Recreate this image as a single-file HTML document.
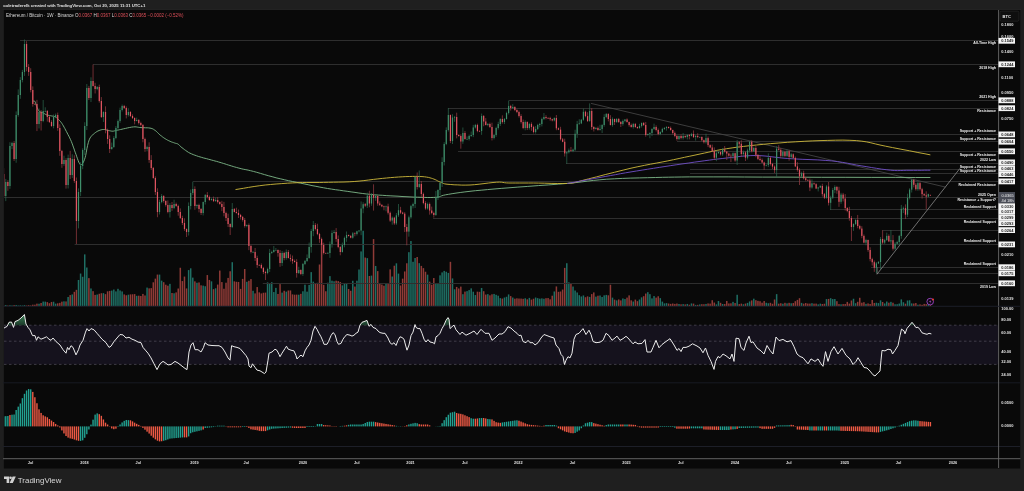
<!DOCTYPE html>
<html><head><meta charset="utf-8"><title>ETH/BTC</title>
<style>html,body{margin:0;padding:0;background:#1f1f1f;width:1024px;height:491px;overflow:hidden}
svg text{font-family:"Liberation Sans",Arial,sans-serif}</style></head>
<body><div style="position:relative;width:1024px;height:491px">
<svg width="1024" height="491" viewBox="0 0 1024 491" style="position:absolute;left:0;top:0">
<rect x="0" y="0" width="1024" height="491" fill="#1f1f1f"/>
<rect x="2.5" y="8.8" width="1018.5" height="1.2" fill="#262626"/>
<rect x="3.9" y="9.9" width="1016.3" height="458.6" fill="#090909"/>
</svg>
<svg width="1024" height="491" viewBox="0 0 1024 491" style="position:absolute;left:0;top:0">
<defs><linearGradient id="obg" x1="0" y1="313" x2="0" y2="325.2" gradientUnits="userSpaceOnUse"><stop offset="0" stop-color="#3d8a5a"/><stop offset="1" stop-color="#1c3a2a"/></linearGradient><clipPath id="cp"><rect x="4" y="10.5" width="994" height="295.5"/></clipPath>
<clipPath id="cr"><rect x="4" y="306.5" width="994" height="75.5"/></clipPath>
<clipPath id="cm"><rect x="4" y="382.5" width="994" height="64"/></clipPath></defs>
<g clip-path="url(#cp)">
<rect x="2.95" y="305.50" width="1.5" height="0.80" fill="#8f3b37"/><rect x="5.03" y="305.04" width="1.5" height="1.26" fill="#1f6f64"/><rect x="7.11" y="305.50" width="1.5" height="0.80" fill="#8f3b37"/><rect x="9.18" y="305.23" width="1.5" height="1.07" fill="#1f6f64"/><rect x="11.26" y="305.43" width="1.5" height="0.87" fill="#1f6f64"/><rect x="13.34" y="305.10" width="1.5" height="1.20" fill="#8f3b37"/><rect x="15.42" y="305.02" width="1.5" height="1.28" fill="#1f6f64"/><rect x="17.49" y="305.50" width="1.5" height="0.80" fill="#1f6f64"/><rect x="19.57" y="305.32" width="1.5" height="0.98" fill="#1f6f64"/><rect x="21.65" y="305.50" width="1.5" height="0.80" fill="#1f6f64"/><rect x="23.73" y="305.12" width="1.5" height="1.18" fill="#1f6f64"/><rect x="25.81" y="305.49" width="1.5" height="0.81" fill="#8f3b37"/><rect x="27.88" y="305.14" width="1.5" height="1.16" fill="#8f3b37"/><rect x="29.96" y="305.43" width="1.5" height="0.87" fill="#8f3b37"/><rect x="32.04" y="304.68" width="1.5" height="1.62" fill="#8f3b37"/><rect x="34.12" y="304.69" width="1.5" height="1.61" fill="#8f3b37"/><rect x="36.19" y="303.65" width="1.5" height="2.65" fill="#8f3b37"/><rect x="38.27" y="303.74" width="1.5" height="2.56" fill="#1f6f64"/><rect x="40.35" y="303.00" width="1.5" height="3.30" fill="#8f3b37"/><rect x="42.43" y="301.57" width="1.5" height="4.73" fill="#1f6f64"/><rect x="44.51" y="301.65" width="1.5" height="4.65" fill="#1f6f64"/><rect x="46.58" y="302.09" width="1.5" height="4.21" fill="#8f3b37"/><rect x="48.66" y="303.20" width="1.5" height="3.10" fill="#8f3b37"/><rect x="50.74" y="301.94" width="1.5" height="4.36" fill="#8f3b37"/><rect x="52.82" y="301.72" width="1.5" height="4.58" fill="#1f6f64"/><rect x="54.89" y="303.62" width="1.5" height="2.68" fill="#1f6f64"/><rect x="56.97" y="303.32" width="1.5" height="2.98" fill="#8f3b37"/><rect x="59.05" y="302.86" width="1.5" height="3.44" fill="#8f3b37"/><rect x="61.13" y="301.66" width="1.5" height="4.64" fill="#8f3b37"/><rect x="63.21" y="301.33" width="1.5" height="4.97" fill="#1f6f64"/><rect x="65.28" y="301.44" width="1.5" height="4.86" fill="#8f3b37"/><rect x="67.36" y="296.97" width="1.5" height="9.33" fill="#1f6f64"/><rect x="69.44" y="295.10" width="1.5" height="11.20" fill="#8f3b37"/><rect x="71.52" y="294.42" width="1.5" height="11.88" fill="#1f6f64"/><rect x="73.60" y="291.83" width="1.5" height="14.47" fill="#8f3b37"/><rect x="75.67" y="289.84" width="1.5" height="16.46" fill="#8f3b37"/><rect x="77.75" y="279.97" width="1.5" height="26.33" fill="#1f6f64"/><rect x="79.83" y="273.53" width="1.5" height="32.77" fill="#1f6f64"/><rect x="81.91" y="276.75" width="1.5" height="29.55" fill="#1f6f64"/><rect x="83.98" y="254.37" width="1.5" height="51.93" fill="#1f6f64"/><rect x="86.06" y="267.51" width="1.5" height="38.79" fill="#1f6f64"/><rect x="88.14" y="278.12" width="1.5" height="28.18" fill="#8f3b37"/><rect x="90.22" y="288.46" width="1.5" height="17.84" fill="#1f6f64"/><rect x="92.30" y="291.16" width="1.5" height="15.14" fill="#8f3b37"/><rect x="94.37" y="294.90" width="1.5" height="11.40" fill="#8f3b37"/><rect x="96.45" y="294.52" width="1.5" height="11.78" fill="#1f6f64"/><rect x="98.53" y="293.76" width="1.5" height="12.54" fill="#8f3b37"/><rect x="100.61" y="293.23" width="1.5" height="13.07" fill="#8f3b37"/><rect x="102.68" y="293.14" width="1.5" height="13.16" fill="#1f6f64"/><rect x="104.76" y="294.14" width="1.5" height="12.16" fill="#8f3b37"/><rect x="106.84" y="291.33" width="1.5" height="14.97" fill="#8f3b37"/><rect x="108.92" y="290.92" width="1.5" height="15.38" fill="#8f3b37"/><rect x="111.00" y="290.58" width="1.5" height="15.72" fill="#1f6f64"/><rect x="113.07" y="289.54" width="1.5" height="16.76" fill="#1f6f64"/><rect x="115.15" y="291.40" width="1.5" height="14.90" fill="#1f6f64"/><rect x="117.23" y="288.81" width="1.5" height="17.49" fill="#1f6f64"/><rect x="119.31" y="290.46" width="1.5" height="15.84" fill="#1f6f64"/><rect x="121.38" y="291.42" width="1.5" height="14.88" fill="#1f6f64"/><rect x="123.46" y="294.41" width="1.5" height="11.89" fill="#8f3b37"/><rect x="125.54" y="295.27" width="1.5" height="11.03" fill="#8f3b37"/><rect x="127.62" y="294.70" width="1.5" height="11.60" fill="#1f6f64"/><rect x="129.70" y="294.38" width="1.5" height="11.92" fill="#8f3b37"/><rect x="131.77" y="294.28" width="1.5" height="12.02" fill="#8f3b37"/><rect x="133.85" y="294.08" width="1.5" height="12.22" fill="#8f3b37"/><rect x="135.93" y="295.82" width="1.5" height="10.48" fill="#1f6f64"/><rect x="138.01" y="295.68" width="1.5" height="10.62" fill="#8f3b37"/><rect x="140.08" y="295.98" width="1.5" height="10.32" fill="#8f3b37"/><rect x="142.16" y="293.92" width="1.5" height="12.38" fill="#8f3b37"/><rect x="144.24" y="295.47" width="1.5" height="10.83" fill="#8f3b37"/><rect x="146.32" y="287.58" width="1.5" height="18.72" fill="#1f6f64"/><rect x="148.40" y="288.35" width="1.5" height="17.95" fill="#8f3b37"/><rect x="150.47" y="288.12" width="1.5" height="18.18" fill="#8f3b37"/><rect x="152.55" y="282.31" width="1.5" height="23.99" fill="#8f3b37"/><rect x="154.63" y="278.63" width="1.5" height="27.67" fill="#8f3b37"/><rect x="156.71" y="274.55" width="1.5" height="31.75" fill="#8f3b37"/><rect x="158.78" y="274.59" width="1.5" height="31.71" fill="#1f6f64"/><rect x="160.86" y="280.65" width="1.5" height="25.65" fill="#1f6f64"/><rect x="162.94" y="282.17" width="1.5" height="24.13" fill="#8f3b37"/><rect x="165.02" y="284.72" width="1.5" height="21.58" fill="#8f3b37"/><rect x="167.10" y="285.69" width="1.5" height="20.61" fill="#8f3b37"/><rect x="169.17" y="283.86" width="1.5" height="22.44" fill="#1f6f64"/><rect x="171.25" y="293.01" width="1.5" height="13.29" fill="#8f3b37"/><rect x="173.33" y="293.28" width="1.5" height="13.02" fill="#1f6f64"/><rect x="175.41" y="292.41" width="1.5" height="13.89" fill="#8f3b37"/><rect x="177.49" y="288.51" width="1.5" height="17.79" fill="#8f3b37"/><rect x="179.56" y="267.74" width="1.5" height="38.56" fill="#8f3b37"/><rect x="181.64" y="281.06" width="1.5" height="25.24" fill="#8f3b37"/><rect x="183.72" y="276.57" width="1.5" height="29.73" fill="#8f3b37"/><rect x="185.80" y="288.43" width="1.5" height="17.87" fill="#8f3b37"/><rect x="187.87" y="270.07" width="1.5" height="36.23" fill="#1f6f64"/><rect x="189.95" y="268.31" width="1.5" height="37.99" fill="#1f6f64"/><rect x="192.03" y="277.60" width="1.5" height="28.70" fill="#1f6f64"/><rect x="194.11" y="281.34" width="1.5" height="24.96" fill="#8f3b37"/><rect x="196.19" y="282.77" width="1.5" height="23.53" fill="#1f6f64"/><rect x="198.26" y="282.44" width="1.5" height="23.86" fill="#8f3b37"/><rect x="200.34" y="285.33" width="1.5" height="20.97" fill="#8f3b37"/><rect x="202.42" y="285.64" width="1.5" height="20.66" fill="#1f6f64"/><rect x="204.50" y="286.23" width="1.5" height="20.07" fill="#1f6f64"/><rect x="206.57" y="275.05" width="1.5" height="31.25" fill="#8f3b37"/><rect x="208.65" y="279.94" width="1.5" height="26.36" fill="#8f3b37"/><rect x="210.73" y="281.33" width="1.5" height="24.97" fill="#1f6f64"/><rect x="212.81" y="289.14" width="1.5" height="17.16" fill="#8f3b37"/><rect x="214.89" y="288.28" width="1.5" height="18.02" fill="#1f6f64"/><rect x="216.96" y="284.57" width="1.5" height="21.73" fill="#8f3b37"/><rect x="219.04" y="270.56" width="1.5" height="35.74" fill="#8f3b37"/><rect x="221.12" y="282.07" width="1.5" height="24.23" fill="#8f3b37"/><rect x="223.20" y="288.75" width="1.5" height="17.55" fill="#8f3b37"/><rect x="225.27" y="282.72" width="1.5" height="23.58" fill="#8f3b37"/><rect x="227.35" y="277.91" width="1.5" height="28.39" fill="#8f3b37"/><rect x="229.43" y="271.27" width="1.5" height="35.03" fill="#8f3b37"/><rect x="231.51" y="262.20" width="1.5" height="44.10" fill="#1f6f64"/><rect x="233.59" y="281.34" width="1.5" height="24.96" fill="#8f3b37"/><rect x="235.66" y="281.79" width="1.5" height="24.51" fill="#8f3b37"/><rect x="237.74" y="281.95" width="1.5" height="24.35" fill="#8f3b37"/><rect x="239.82" y="288.88" width="1.5" height="17.42" fill="#8f3b37"/><rect x="241.90" y="278.90" width="1.5" height="27.40" fill="#8f3b37"/><rect x="243.97" y="269.02" width="1.5" height="37.28" fill="#8f3b37"/><rect x="246.05" y="281.80" width="1.5" height="24.50" fill="#1f6f64"/><rect x="248.13" y="280.76" width="1.5" height="25.54" fill="#8f3b37"/><rect x="250.21" y="279.10" width="1.5" height="27.20" fill="#8f3b37"/><rect x="252.29" y="290.77" width="1.5" height="15.53" fill="#1f6f64"/><rect x="254.36" y="293.40" width="1.5" height="12.90" fill="#8f3b37"/><rect x="256.44" y="287.05" width="1.5" height="19.25" fill="#8f3b37"/><rect x="258.52" y="292.36" width="1.5" height="13.94" fill="#8f3b37"/><rect x="260.60" y="293.43" width="1.5" height="12.87" fill="#8f3b37"/><rect x="262.67" y="292.75" width="1.5" height="13.55" fill="#8f3b37"/><rect x="264.75" y="292.59" width="1.5" height="13.71" fill="#8f3b37"/><rect x="266.83" y="282.41" width="1.5" height="23.89" fill="#1f6f64"/><rect x="268.91" y="283.15" width="1.5" height="23.15" fill="#1f6f64"/><rect x="270.99" y="282.19" width="1.5" height="24.11" fill="#1f6f64"/><rect x="273.06" y="292.07" width="1.5" height="14.23" fill="#1f6f64"/><rect x="275.14" y="287.88" width="1.5" height="18.42" fill="#1f6f64"/><rect x="277.22" y="293.95" width="1.5" height="12.35" fill="#8f3b37"/><rect x="279.30" y="284.12" width="1.5" height="22.18" fill="#8f3b37"/><rect x="281.38" y="292.62" width="1.5" height="13.68" fill="#1f6f64"/><rect x="283.45" y="290.76" width="1.5" height="15.54" fill="#8f3b37"/><rect x="285.53" y="291.63" width="1.5" height="14.67" fill="#1f6f64"/><rect x="287.61" y="290.48" width="1.5" height="15.82" fill="#8f3b37"/><rect x="289.69" y="290.45" width="1.5" height="15.85" fill="#8f3b37"/><rect x="291.76" y="294.37" width="1.5" height="11.93" fill="#8f3b37"/><rect x="293.84" y="294.69" width="1.5" height="11.61" fill="#8f3b37"/><rect x="295.92" y="294.62" width="1.5" height="11.68" fill="#8f3b37"/><rect x="298.00" y="294.71" width="1.5" height="11.59" fill="#1f6f64"/><rect x="300.08" y="293.84" width="1.5" height="12.46" fill="#8f3b37"/><rect x="302.15" y="291.28" width="1.5" height="15.02" fill="#1f6f64"/><rect x="304.23" y="284.67" width="1.5" height="21.63" fill="#1f6f64"/><rect x="306.31" y="291.64" width="1.5" height="14.66" fill="#1f6f64"/><rect x="308.39" y="284.93" width="1.5" height="21.37" fill="#1f6f64"/><rect x="310.46" y="272.12" width="1.5" height="34.18" fill="#1f6f64"/><rect x="312.54" y="281.66" width="1.5" height="24.64" fill="#1f6f64"/><rect x="314.62" y="282.98" width="1.5" height="23.32" fill="#8f3b37"/><rect x="316.70" y="282.78" width="1.5" height="23.52" fill="#8f3b37"/><rect x="318.78" y="264.50" width="1.5" height="41.80" fill="#8f3b37"/><rect x="320.85" y="243.02" width="1.5" height="63.28" fill="#8f3b37"/><rect x="322.93" y="284.83" width="1.5" height="21.47" fill="#8f3b37"/><rect x="325.01" y="291.26" width="1.5" height="15.04" fill="#8f3b37"/><rect x="327.09" y="282.68" width="1.5" height="23.62" fill="#1f6f64"/><rect x="329.16" y="276.12" width="1.5" height="30.18" fill="#1f6f64"/><rect x="331.24" y="280.70" width="1.5" height="25.60" fill="#1f6f64"/><rect x="333.32" y="281.28" width="1.5" height="25.02" fill="#1f6f64"/><rect x="335.40" y="280.69" width="1.5" height="25.61" fill="#8f3b37"/><rect x="337.48" y="281.11" width="1.5" height="25.19" fill="#8f3b37"/><rect x="339.55" y="282.06" width="1.5" height="24.24" fill="#8f3b37"/><rect x="341.63" y="285.38" width="1.5" height="20.92" fill="#1f6f64"/><rect x="343.71" y="283.91" width="1.5" height="22.39" fill="#1f6f64"/><rect x="345.79" y="284.01" width="1.5" height="22.29" fill="#1f6f64"/><rect x="347.86" y="288.98" width="1.5" height="17.32" fill="#8f3b37"/><rect x="349.94" y="290.76" width="1.5" height="15.54" fill="#8f3b37"/><rect x="352.02" y="280.75" width="1.5" height="25.55" fill="#1f6f64"/><rect x="354.10" y="286.55" width="1.5" height="19.75" fill="#8f3b37"/><rect x="356.18" y="280.72" width="1.5" height="25.58" fill="#1f6f64"/><rect x="358.25" y="269.49" width="1.5" height="36.81" fill="#1f6f64"/><rect x="360.33" y="251.42" width="1.5" height="54.88" fill="#1f6f64"/><rect x="362.41" y="230.76" width="1.5" height="75.54" fill="#1f6f64"/><rect x="364.49" y="257.53" width="1.5" height="48.77" fill="#8f3b37"/><rect x="366.56" y="258.11" width="1.5" height="48.19" fill="#1f6f64"/><rect x="368.64" y="275.99" width="1.5" height="30.31" fill="#8f3b37"/><rect x="370.72" y="275.60" width="1.5" height="30.70" fill="#1f6f64"/><rect x="372.80" y="239.09" width="1.5" height="67.21" fill="#8f3b37"/><rect x="374.88" y="265.97" width="1.5" height="40.33" fill="#1f6f64"/><rect x="376.95" y="271.11" width="1.5" height="35.19" fill="#8f3b37"/><rect x="379.03" y="283.11" width="1.5" height="23.19" fill="#8f3b37"/><rect x="381.11" y="284.56" width="1.5" height="21.74" fill="#8f3b37"/><rect x="383.19" y="285.69" width="1.5" height="20.61" fill="#8f3b37"/><rect x="385.27" y="283.16" width="1.5" height="23.14" fill="#1f6f64"/><rect x="387.34" y="284.02" width="1.5" height="22.28" fill="#8f3b37"/><rect x="389.42" y="269.36" width="1.5" height="36.94" fill="#8f3b37"/><rect x="391.50" y="276.52" width="1.5" height="29.78" fill="#1f6f64"/><rect x="393.58" y="265.71" width="1.5" height="40.59" fill="#8f3b37"/><rect x="395.65" y="263.31" width="1.5" height="42.99" fill="#1f6f64"/><rect x="397.73" y="273.61" width="1.5" height="32.69" fill="#1f6f64"/><rect x="399.81" y="285.50" width="1.5" height="20.80" fill="#8f3b37"/><rect x="401.89" y="278.64" width="1.5" height="27.66" fill="#8f3b37"/><rect x="403.97" y="271.44" width="1.5" height="34.86" fill="#8f3b37"/><rect x="406.04" y="263.26" width="1.5" height="43.04" fill="#8f3b37"/><rect x="408.12" y="252.18" width="1.5" height="54.12" fill="#1f6f64"/><rect x="410.20" y="241.03" width="1.5" height="65.27" fill="#1f6f64"/><rect x="412.28" y="261.78" width="1.5" height="44.52" fill="#1f6f64"/><rect x="414.35" y="258.01" width="1.5" height="48.29" fill="#1f6f64"/><rect x="416.43" y="256.98" width="1.5" height="49.32" fill="#8f3b37"/><rect x="418.51" y="263.16" width="1.5" height="43.14" fill="#1f6f64"/><rect x="420.59" y="265.90" width="1.5" height="40.40" fill="#8f3b37"/><rect x="422.67" y="268.13" width="1.5" height="38.17" fill="#8f3b37"/><rect x="424.74" y="271.73" width="1.5" height="34.57" fill="#8f3b37"/><rect x="426.82" y="274.65" width="1.5" height="31.65" fill="#1f6f64"/><rect x="428.90" y="281.65" width="1.5" height="24.65" fill="#8f3b37"/><rect x="430.98" y="284.78" width="1.5" height="21.52" fill="#8f3b37"/><rect x="433.05" y="278.03" width="1.5" height="28.27" fill="#8f3b37"/><rect x="435.13" y="283.49" width="1.5" height="22.81" fill="#1f6f64"/><rect x="437.21" y="282.96" width="1.5" height="23.34" fill="#1f6f64"/><rect x="439.29" y="275.34" width="1.5" height="30.96" fill="#1f6f64"/><rect x="441.37" y="272.41" width="1.5" height="33.89" fill="#1f6f64"/><rect x="443.44" y="270.91" width="1.5" height="35.39" fill="#1f6f64"/><rect x="445.52" y="271.75" width="1.5" height="34.55" fill="#1f6f64"/><rect x="447.60" y="272.93" width="1.5" height="33.37" fill="#1f6f64"/><rect x="449.68" y="261.83" width="1.5" height="44.47" fill="#8f3b37"/><rect x="451.75" y="278.41" width="1.5" height="27.89" fill="#1f6f64"/><rect x="453.83" y="289.26" width="1.5" height="17.04" fill="#1f6f64"/><rect x="455.91" y="286.93" width="1.5" height="19.37" fill="#8f3b37"/><rect x="457.99" y="288.46" width="1.5" height="17.84" fill="#8f3b37"/><rect x="460.07" y="286.60" width="1.5" height="19.70" fill="#8f3b37"/><rect x="462.14" y="294.20" width="1.5" height="12.10" fill="#1f6f64"/><rect x="464.22" y="291.60" width="1.5" height="14.70" fill="#8f3b37"/><rect x="466.30" y="291.16" width="1.5" height="15.14" fill="#1f6f64"/><rect x="468.38" y="290.09" width="1.5" height="16.21" fill="#1f6f64"/><rect x="470.45" y="288.35" width="1.5" height="17.95" fill="#1f6f64"/><rect x="472.53" y="291.70" width="1.5" height="14.60" fill="#1f6f64"/><rect x="474.61" y="295.04" width="1.5" height="11.26" fill="#1f6f64"/><rect x="476.69" y="291.65" width="1.5" height="14.65" fill="#8f3b37"/><rect x="478.77" y="291.84" width="1.5" height="14.46" fill="#8f3b37"/><rect x="480.84" y="287.96" width="1.5" height="18.34" fill="#1f6f64"/><rect x="482.92" y="291.18" width="1.5" height="15.12" fill="#8f3b37"/><rect x="485.00" y="294.55" width="1.5" height="11.75" fill="#8f3b37"/><rect x="487.08" y="294.14" width="1.5" height="12.16" fill="#1f6f64"/><rect x="489.16" y="295.31" width="1.5" height="10.99" fill="#8f3b37"/><rect x="491.23" y="294.31" width="1.5" height="11.99" fill="#8f3b37"/><rect x="493.31" y="293.93" width="1.5" height="12.37" fill="#1f6f64"/><rect x="495.39" y="294.81" width="1.5" height="11.49" fill="#1f6f64"/><rect x="497.47" y="295.72" width="1.5" height="10.58" fill="#1f6f64"/><rect x="499.54" y="298.13" width="1.5" height="8.17" fill="#1f6f64"/><rect x="501.62" y="298.58" width="1.5" height="7.72" fill="#8f3b37"/><rect x="503.70" y="297.52" width="1.5" height="8.78" fill="#1f6f64"/><rect x="505.78" y="296.76" width="1.5" height="9.54" fill="#1f6f64"/><rect x="507.86" y="294.42" width="1.5" height="11.88" fill="#1f6f64"/><rect x="509.93" y="296.08" width="1.5" height="10.22" fill="#8f3b37"/><rect x="512.01" y="297.53" width="1.5" height="8.77" fill="#1f6f64"/><rect x="514.09" y="298.69" width="1.5" height="7.61" fill="#8f3b37"/><rect x="516.17" y="298.30" width="1.5" height="8.00" fill="#8f3b37"/><rect x="518.24" y="298.51" width="1.5" height="7.79" fill="#8f3b37"/><rect x="520.32" y="298.57" width="1.5" height="7.73" fill="#8f3b37"/><rect x="522.40" y="298.80" width="1.5" height="7.50" fill="#8f3b37"/><rect x="524.48" y="298.28" width="1.5" height="8.02" fill="#1f6f64"/><rect x="526.56" y="299.32" width="1.5" height="6.98" fill="#8f3b37"/><rect x="528.63" y="297.88" width="1.5" height="8.42" fill="#1f6f64"/><rect x="530.71" y="299.61" width="1.5" height="6.69" fill="#8f3b37"/><rect x="532.79" y="298.73" width="1.5" height="7.57" fill="#8f3b37"/><rect x="534.87" y="297.52" width="1.5" height="8.78" fill="#1f6f64"/><rect x="536.94" y="298.15" width="1.5" height="8.15" fill="#1f6f64"/><rect x="539.02" y="298.68" width="1.5" height="7.62" fill="#1f6f64"/><rect x="541.10" y="298.38" width="1.5" height="7.92" fill="#1f6f64"/><rect x="543.18" y="298.76" width="1.5" height="7.54" fill="#1f6f64"/><rect x="545.26" y="298.18" width="1.5" height="8.12" fill="#8f3b37"/><rect x="547.33" y="298.06" width="1.5" height="8.24" fill="#8f3b37"/><rect x="549.41" y="299.31" width="1.5" height="6.99" fill="#8f3b37"/><rect x="551.49" y="295.70" width="1.5" height="10.60" fill="#8f3b37"/><rect x="553.57" y="291.46" width="1.5" height="14.84" fill="#1f6f64"/><rect x="555.64" y="286.43" width="1.5" height="19.87" fill="#8f3b37"/><rect x="557.72" y="291.82" width="1.5" height="14.48" fill="#8f3b37"/><rect x="559.80" y="291.49" width="1.5" height="14.81" fill="#8f3b37"/><rect x="561.88" y="289.54" width="1.5" height="16.76" fill="#8f3b37"/><rect x="563.96" y="267.87" width="1.5" height="38.43" fill="#8f3b37"/><rect x="566.03" y="263.21" width="1.5" height="43.09" fill="#1f6f64"/><rect x="568.11" y="282.34" width="1.5" height="23.96" fill="#1f6f64"/><rect x="570.19" y="283.24" width="1.5" height="23.06" fill="#8f3b37"/><rect x="572.27" y="286.53" width="1.5" height="19.77" fill="#1f6f64"/><rect x="574.35" y="290.52" width="1.5" height="15.78" fill="#1f6f64"/><rect x="576.42" y="292.47" width="1.5" height="13.83" fill="#1f6f64"/><rect x="578.50" y="295.17" width="1.5" height="11.13" fill="#1f6f64"/><rect x="580.58" y="296.43" width="1.5" height="9.87" fill="#1f6f64"/><rect x="582.66" y="295.43" width="1.5" height="10.87" fill="#1f6f64"/><rect x="584.73" y="297.21" width="1.5" height="9.09" fill="#8f3b37"/><rect x="586.81" y="296.35" width="1.5" height="9.95" fill="#8f3b37"/><rect x="588.89" y="296.92" width="1.5" height="9.38" fill="#1f6f64"/><rect x="590.97" y="294.10" width="1.5" height="12.20" fill="#8f3b37"/><rect x="593.05" y="292.42" width="1.5" height="13.88" fill="#8f3b37"/><rect x="595.12" y="296.62" width="1.5" height="9.68" fill="#1f6f64"/><rect x="597.20" y="295.71" width="1.5" height="10.59" fill="#8f3b37"/><rect x="599.28" y="295.51" width="1.5" height="10.79" fill="#1f6f64"/><rect x="601.36" y="297.01" width="1.5" height="9.29" fill="#1f6f64"/><rect x="603.43" y="295.35" width="1.5" height="10.95" fill="#1f6f64"/><rect x="605.51" y="294.90" width="1.5" height="11.40" fill="#1f6f64"/><rect x="607.59" y="295.30" width="1.5" height="11.00" fill="#8f3b37"/><rect x="609.67" y="284.74" width="1.5" height="21.56" fill="#8f3b37"/><rect x="611.75" y="297.63" width="1.5" height="8.67" fill="#1f6f64"/><rect x="613.82" y="299.63" width="1.5" height="6.67" fill="#8f3b37"/><rect x="615.90" y="300.38" width="1.5" height="5.92" fill="#1f6f64"/><rect x="617.98" y="299.45" width="1.5" height="6.85" fill="#8f3b37"/><rect x="620.06" y="300.38" width="1.5" height="5.92" fill="#8f3b37"/><rect x="622.13" y="298.47" width="1.5" height="7.83" fill="#1f6f64"/><rect x="624.21" y="299.07" width="1.5" height="7.23" fill="#1f6f64"/><rect x="626.29" y="297.60" width="1.5" height="8.70" fill="#8f3b37"/><rect x="628.37" y="295.37" width="1.5" height="10.93" fill="#8f3b37"/><rect x="630.45" y="300.34" width="1.5" height="5.96" fill="#8f3b37"/><rect x="632.52" y="301.52" width="1.5" height="4.78" fill="#1f6f64"/><rect x="634.60" y="299.60" width="1.5" height="6.70" fill="#8f3b37"/><rect x="636.68" y="301.16" width="1.5" height="5.14" fill="#8f3b37"/><rect x="638.76" y="299.50" width="1.5" height="6.80" fill="#1f6f64"/><rect x="640.83" y="297.36" width="1.5" height="8.94" fill="#1f6f64"/><rect x="642.91" y="296.20" width="1.5" height="10.10" fill="#8f3b37"/><rect x="644.99" y="293.56" width="1.5" height="12.74" fill="#8f3b37"/><rect x="647.07" y="292.15" width="1.5" height="14.15" fill="#1f6f64"/><rect x="649.15" y="294.17" width="1.5" height="12.13" fill="#1f6f64"/><rect x="651.22" y="298.39" width="1.5" height="7.91" fill="#1f6f64"/><rect x="653.30" y="296.08" width="1.5" height="10.22" fill="#1f6f64"/><rect x="655.38" y="297.62" width="1.5" height="8.68" fill="#8f3b37"/><rect x="657.46" y="296.26" width="1.5" height="10.04" fill="#8f3b37"/><rect x="659.53" y="298.12" width="1.5" height="8.18" fill="#1f6f64"/><rect x="661.61" y="301.60" width="1.5" height="4.70" fill="#1f6f64"/><rect x="663.69" y="303.39" width="1.5" height="2.91" fill="#1f6f64"/><rect x="665.77" y="303.11" width="1.5" height="3.19" fill="#1f6f64"/><rect x="667.85" y="303.53" width="1.5" height="2.77" fill="#8f3b37"/><rect x="669.92" y="303.87" width="1.5" height="2.43" fill="#8f3b37"/><rect x="672.00" y="303.52" width="1.5" height="2.78" fill="#8f3b37"/><rect x="674.08" y="303.92" width="1.5" height="2.38" fill="#8f3b37"/><rect x="676.16" y="303.54" width="1.5" height="2.76" fill="#8f3b37"/><rect x="678.24" y="303.99" width="1.5" height="2.31" fill="#1f6f64"/><rect x="680.31" y="304.33" width="1.5" height="1.97" fill="#8f3b37"/><rect x="682.39" y="304.10" width="1.5" height="2.20" fill="#1f6f64"/><rect x="684.47" y="304.43" width="1.5" height="1.87" fill="#8f3b37"/><rect x="686.55" y="303.94" width="1.5" height="2.36" fill="#1f6f64"/><rect x="688.62" y="304.73" width="1.5" height="1.57" fill="#8f3b37"/><rect x="690.70" y="303.42" width="1.5" height="2.88" fill="#1f6f64"/><rect x="692.78" y="303.62" width="1.5" height="2.68" fill="#8f3b37"/><rect x="694.86" y="304.90" width="1.5" height="1.40" fill="#1f6f64"/><rect x="696.94" y="304.84" width="1.5" height="1.46" fill="#8f3b37"/><rect x="699.01" y="304.43" width="1.5" height="1.87" fill="#1f6f64"/><rect x="701.09" y="304.19" width="1.5" height="2.11" fill="#8f3b37"/><rect x="703.17" y="304.25" width="1.5" height="2.05" fill="#8f3b37"/><rect x="705.25" y="303.95" width="1.5" height="2.35" fill="#1f6f64"/><rect x="707.32" y="303.45" width="1.5" height="2.85" fill="#8f3b37"/><rect x="709.40" y="303.63" width="1.5" height="2.67" fill="#8f3b37"/><rect x="711.48" y="300.22" width="1.5" height="6.08" fill="#8f3b37"/><rect x="713.56" y="302.56" width="1.5" height="3.74" fill="#8f3b37"/><rect x="715.64" y="304.36" width="1.5" height="1.94" fill="#1f6f64"/><rect x="717.71" y="301.03" width="1.5" height="5.27" fill="#1f6f64"/><rect x="719.79" y="302.80" width="1.5" height="3.50" fill="#8f3b37"/><rect x="721.87" y="303.99" width="1.5" height="2.31" fill="#1f6f64"/><rect x="723.95" y="304.04" width="1.5" height="2.26" fill="#8f3b37"/><rect x="726.02" y="300.95" width="1.5" height="5.35" fill="#8f3b37"/><rect x="728.10" y="303.44" width="1.5" height="2.86" fill="#8f3b37"/><rect x="730.18" y="303.33" width="1.5" height="2.97" fill="#8f3b37"/><rect x="732.26" y="301.85" width="1.5" height="4.45" fill="#1f6f64"/><rect x="734.34" y="303.02" width="1.5" height="3.28" fill="#8f3b37"/><rect x="736.41" y="294.78" width="1.5" height="11.52" fill="#1f6f64"/><rect x="738.49" y="304.10" width="1.5" height="2.20" fill="#8f3b37"/><rect x="740.57" y="303.62" width="1.5" height="2.68" fill="#8f3b37"/><rect x="742.65" y="304.24" width="1.5" height="2.06" fill="#1f6f64"/><rect x="744.72" y="303.57" width="1.5" height="2.73" fill="#8f3b37"/><rect x="746.80" y="302.88" width="1.5" height="3.42" fill="#1f6f64"/><rect x="748.88" y="301.42" width="1.5" height="4.88" fill="#1f6f64"/><rect x="750.96" y="300.40" width="1.5" height="5.90" fill="#8f3b37"/><rect x="753.04" y="298.68" width="1.5" height="7.62" fill="#1f6f64"/><rect x="755.11" y="300.19" width="1.5" height="6.11" fill="#8f3b37"/><rect x="757.19" y="300.88" width="1.5" height="5.42" fill="#8f3b37"/><rect x="759.27" y="301.23" width="1.5" height="5.07" fill="#8f3b37"/><rect x="761.35" y="302.69" width="1.5" height="3.61" fill="#8f3b37"/><rect x="763.42" y="301.02" width="1.5" height="5.28" fill="#8f3b37"/><rect x="765.50" y="302.77" width="1.5" height="3.53" fill="#1f6f64"/><rect x="767.58" y="303.26" width="1.5" height="3.04" fill="#1f6f64"/><rect x="769.66" y="302.80" width="1.5" height="3.50" fill="#8f3b37"/><rect x="771.74" y="303.75" width="1.5" height="2.55" fill="#8f3b37"/><rect x="773.81" y="299.49" width="1.5" height="6.81" fill="#8f3b37"/><rect x="775.89" y="294.13" width="1.5" height="12.17" fill="#1f6f64"/><rect x="777.97" y="303.66" width="1.5" height="2.64" fill="#8f3b37"/><rect x="780.05" y="303.23" width="1.5" height="3.07" fill="#8f3b37"/><rect x="782.12" y="303.71" width="1.5" height="2.59" fill="#1f6f64"/><rect x="784.20" y="302.80" width="1.5" height="3.50" fill="#8f3b37"/><rect x="786.28" y="303.35" width="1.5" height="2.95" fill="#1f6f64"/><rect x="788.36" y="302.83" width="1.5" height="3.47" fill="#8f3b37"/><rect x="790.44" y="303.28" width="1.5" height="3.02" fill="#1f6f64"/><rect x="792.51" y="303.05" width="1.5" height="3.25" fill="#8f3b37"/><rect x="794.59" y="301.20" width="1.5" height="5.10" fill="#8f3b37"/><rect x="796.67" y="299.89" width="1.5" height="6.41" fill="#8f3b37"/><rect x="798.75" y="298.19" width="1.5" height="8.11" fill="#8f3b37"/><rect x="800.83" y="302.87" width="1.5" height="3.43" fill="#1f6f64"/><rect x="802.90" y="303.64" width="1.5" height="2.66" fill="#8f3b37"/><rect x="804.98" y="303.03" width="1.5" height="3.27" fill="#8f3b37"/><rect x="807.06" y="303.54" width="1.5" height="2.76" fill="#8f3b37"/><rect x="809.14" y="303.57" width="1.5" height="2.73" fill="#8f3b37"/><rect x="811.21" y="303.18" width="1.5" height="3.12" fill="#1f6f64"/><rect x="813.29" y="303.65" width="1.5" height="2.65" fill="#8f3b37"/><rect x="815.37" y="303.59" width="1.5" height="2.71" fill="#8f3b37"/><rect x="817.45" y="304.38" width="1.5" height="1.92" fill="#1f6f64"/><rect x="819.53" y="303.62" width="1.5" height="2.68" fill="#1f6f64"/><rect x="821.60" y="304.00" width="1.5" height="2.30" fill="#8f3b37"/><rect x="823.68" y="303.74" width="1.5" height="2.56" fill="#8f3b37"/><rect x="825.76" y="299.08" width="1.5" height="7.22" fill="#1f6f64"/><rect x="827.84" y="298.92" width="1.5" height="7.38" fill="#8f3b37"/><rect x="829.91" y="298.19" width="1.5" height="8.11" fill="#1f6f64"/><rect x="831.99" y="299.09" width="1.5" height="7.21" fill="#1f6f64"/><rect x="834.07" y="299.02" width="1.5" height="7.28" fill="#1f6f64"/><rect x="836.15" y="301.18" width="1.5" height="5.12" fill="#8f3b37"/><rect x="838.23" y="304.10" width="1.5" height="2.20" fill="#8f3b37"/><rect x="840.30" y="304.30" width="1.5" height="2.00" fill="#1f6f64"/><rect x="842.38" y="304.10" width="1.5" height="2.20" fill="#8f3b37"/><rect x="844.46" y="304.03" width="1.5" height="2.27" fill="#8f3b37"/><rect x="846.54" y="301.88" width="1.5" height="4.42" fill="#8f3b37"/><rect x="848.61" y="303.57" width="1.5" height="2.73" fill="#8f3b37"/><rect x="850.69" y="300.50" width="1.5" height="5.80" fill="#8f3b37"/><rect x="852.77" y="298.74" width="1.5" height="7.56" fill="#1f6f64"/><rect x="854.85" y="303.22" width="1.5" height="3.08" fill="#1f6f64"/><rect x="856.93" y="301.81" width="1.5" height="4.49" fill="#8f3b37"/><rect x="859.00" y="297.77" width="1.5" height="8.53" fill="#8f3b37"/><rect x="861.08" y="302.70" width="1.5" height="3.60" fill="#8f3b37"/><rect x="863.16" y="302.17" width="1.5" height="4.13" fill="#8f3b37"/><rect x="865.24" y="303.89" width="1.5" height="2.41" fill="#1f6f64"/><rect x="867.31" y="303.43" width="1.5" height="2.87" fill="#8f3b37"/><rect x="869.39" y="303.95" width="1.5" height="2.35" fill="#8f3b37"/><rect x="871.47" y="299.97" width="1.5" height="6.33" fill="#8f3b37"/><rect x="873.55" y="302.96" width="1.5" height="3.34" fill="#8f3b37"/><rect x="875.63" y="302.73" width="1.5" height="3.57" fill="#1f6f64"/><rect x="877.70" y="303.09" width="1.5" height="3.21" fill="#1f6f64"/><rect x="879.78" y="300.34" width="1.5" height="5.96" fill="#1f6f64"/><rect x="881.86" y="302.00" width="1.5" height="4.30" fill="#8f3b37"/><rect x="883.94" y="303.44" width="1.5" height="2.86" fill="#1f6f64"/><rect x="886.01" y="301.50" width="1.5" height="4.80" fill="#1f6f64"/><rect x="888.09" y="302.69" width="1.5" height="3.61" fill="#8f3b37"/><rect x="890.17" y="301.86" width="1.5" height="4.44" fill="#1f6f64"/><rect x="892.25" y="302.73" width="1.5" height="3.57" fill="#8f3b37"/><rect x="894.33" y="304.28" width="1.5" height="2.02" fill="#1f6f64"/><rect x="896.40" y="304.21" width="1.5" height="2.09" fill="#1f6f64"/><rect x="898.48" y="303.56" width="1.5" height="2.74" fill="#1f6f64"/><rect x="900.56" y="299.39" width="1.5" height="6.91" fill="#1f6f64"/><rect x="902.64" y="302.24" width="1.5" height="4.06" fill="#1f6f64"/><rect x="904.72" y="303.68" width="1.5" height="2.62" fill="#8f3b37"/><rect x="906.79" y="300.50" width="1.5" height="5.80" fill="#1f6f64"/><rect x="908.87" y="300.28" width="1.5" height="6.02" fill="#1f6f64"/><rect x="910.95" y="303.39" width="1.5" height="2.91" fill="#1f6f64"/><rect x="913.03" y="303.51" width="1.5" height="2.79" fill="#8f3b37"/><rect x="915.10" y="303.04" width="1.5" height="3.26" fill="#8f3b37"/><rect x="917.18" y="304.71" width="1.5" height="1.59" fill="#1f6f64"/><rect x="919.26" y="304.36" width="1.5" height="1.94" fill="#8f3b37"/><rect x="921.34" y="304.82" width="1.5" height="1.48" fill="#8f3b37"/><rect x="923.42" y="303.91" width="1.5" height="2.39" fill="#8f3b37"/><rect x="925.49" y="304.14" width="1.5" height="2.16" fill="#8f3b37"/><rect x="927.57" y="304.26" width="1.5" height="2.04" fill="#1f6f64"/><rect x="929.65" y="304.91" width="1.5" height="1.39" fill="#8f3b37"/>
<line x1="20" y1="40.5" x2="998" y2="40.5" stroke="#2e2e2e" stroke-width="1"/><line x1="93" y1="64.5" x2="998" y2="64.5" stroke="#2e2e2e" stroke-width="1"/><line x1="509" y1="100.5" x2="998" y2="100.5" stroke="#2e2e2e" stroke-width="1"/><line x1="448" y1="108.5" x2="998" y2="108.5" stroke="#2e2e2e" stroke-width="1"/><line x1="522" y1="134.5" x2="998" y2="134.5" stroke="#2e2e2e" stroke-width="1"/><line x1="677" y1="141.5" x2="998" y2="141.5" stroke="#2e2e2e" stroke-width="1"/><line x1="458" y1="151.5" x2="998" y2="151.5" stroke="#2e2e2e" stroke-width="1"/><line x1="566" y1="163.5" x2="998" y2="163.5" stroke="#2e2e2e" stroke-width="1"/><line x1="690" y1="169.5" x2="998" y2="169.5" stroke="#2e2e2e" stroke-width="1"/><line x1="690" y1="173.5" x2="998" y2="173.5" stroke="#2e2e2e" stroke-width="1"/><line x1="193" y1="181.5" x2="998" y2="181.5" stroke="#2e2e2e" stroke-width="1"/><line x1="4" y1="197.5" x2="998" y2="197.5" stroke="#2e2e2e" stroke-width="1"/><line x1="830" y1="209.5" x2="998" y2="209.5" stroke="#2e2e2e" stroke-width="1"/><line x1="433" y1="218.5" x2="998" y2="218.5" stroke="#2e2e2e" stroke-width="1"/><line x1="882" y1="230.5" x2="998" y2="230.5" stroke="#2e2e2e" stroke-width="1"/><line x1="74.6" y1="244.5" x2="998" y2="244.5" stroke="#2e2e2e" stroke-width="1"/><line x1="871" y1="267.5" x2="998" y2="267.5" stroke="#2e2e2e" stroke-width="1"/><line x1="877" y1="273.5" x2="998" y2="273.5" stroke="#2e2e2e" stroke-width="1"/><line x1="262.8" y1="283.5" x2="998" y2="283.5" stroke="#2e2e2e" stroke-width="1"/>
<line x1="591" y1="103.4" x2="945.5" y2="187.1" stroke="#4a4a4a" stroke-width="0.8"/><line x1="877" y1="274.2" x2="960" y2="168.3" stroke="#8a8a8a" stroke-width="0.8"/><line x1="877" y1="274.2" x2="877" y2="267.3" stroke="#8a8a8a" stroke-width="0.8"/>
<polyline points="33.4,101.0 33.6,101.0 33.8,101.0 34.1,101.0 34.4,101.1 34.7,101.2 35.0,101.6 35.3,102.2 35.5,102.9 35.8,103.8 36.1,104.7 36.4,105.7 36.7,106.5 37.0,107.3 37.4,108.1 37.7,108.9 38.1,109.7 38.5,110.4 39.0,111.0 39.6,111.5 40.2,111.8 40.9,112.1 41.6,112.3 42.3,112.6 43.0,112.9 43.7,113.3 44.3,113.6 44.9,114.0 45.6,114.4 46.3,114.7 47.0,115.0 47.8,115.2 48.7,115.4 49.6,115.6 50.4,115.7 51.3,115.9 52.0,116.0 52.6,116.1 53.1,116.2 53.6,116.3 54.1,116.4 54.5,116.5 55.0,116.7 55.5,117.0 56.0,117.3 56.4,117.6 56.9,118.0 57.4,118.5 58.0,119.0 58.6,119.6 59.2,120.2 59.9,120.9 60.6,121.7 61.3,122.6 62.0,123.6 62.7,124.7 63.4,125.9 64.1,127.2 64.9,128.6 65.6,130.0 66.4,131.5 67.2,133.0 68.0,134.6 68.9,136.2 69.7,137.9 70.5,139.6 71.3,141.4 72.0,143.2 72.7,145.1 73.4,147.1 74.1,149.0 74.7,150.9 75.4,152.8 76.1,154.7 76.8,156.8 77.5,158.8 78.2,160.6 78.8,162.2 79.4,163.4 79.9,164.2 80.3,164.7 80.7,164.9 81.1,164.8 81.5,164.6 81.9,164.2 82.4,163.7 82.9,163.0 83.4,162.1 83.9,161.0 84.5,159.5 85.1,157.7 85.7,155.3 86.3,152.2 86.9,148.8 87.6,145.4 88.4,142.3 89.2,139.8 90.1,137.9 91.2,136.4 92.3,135.2 93.4,134.1 94.6,133.2 95.7,132.4 96.8,131.6 97.9,131.0 99.1,130.5 100.2,130.1 101.2,129.8 102.2,129.6 103.0,129.5 103.7,129.5 104.4,129.5 105.0,129.7 105.7,129.8 106.5,130.0 107.4,130.2 108.4,130.4 109.4,130.7 110.4,130.9 111.3,131.1 112.2,131.2 113.0,131.2 113.6,131.1 114.3,130.9 114.9,130.8 115.5,130.6 116.3,130.4 117.1,130.2 117.9,130.1 118.7,129.9 119.6,129.7 120.7,129.5 122.0,129.2 123.6,128.8 125.6,128.4 127.6,127.9 129.7,127.5 131.7,127.1 133.5,126.9 135.0,126.8 136.2,126.9 137.4,127.1 138.5,127.3 139.7,127.5 141.0,127.6 142.5,127.7 144.0,127.7 145.7,127.8 147.2,127.8 148.7,127.9 150.0,128.1 151.1,128.3 152.0,128.6 152.8,128.9 153.5,129.3 154.2,129.8 155.0,130.3 155.8,130.9 156.7,131.7 157.5,132.5 158.3,133.3 159.2,134.2 160.0,134.9 160.8,135.6 161.7,136.2 162.5,136.9 163.3,137.5 164.2,138.1 165.0,138.6 165.8,139.1 166.7,139.6 167.5,140.1 168.3,140.5 169.2,140.9 170.0,141.3 170.9,141.7 171.7,142.0 172.6,142.3 173.5,142.6 174.3,142.9 175.0,143.1 175.6,143.3 176.1,143.4 176.6,143.5 177.0,143.6 177.5,143.8 178.0,144.1 178.6,144.5 179.1,145.0 179.7,145.6 180.3,146.3 181.1,147.0 182.0,147.7 183.1,148.5 184.3,149.5 185.6,150.4 187.0,151.4 188.5,152.4 190.0,153.2 191.6,153.9 193.2,154.6 194.9,155.2 196.6,155.8 198.3,156.4 200.0,156.9 201.7,157.4 203.3,157.9 205.0,158.3 206.7,158.7 208.3,159.2 210.0,159.6 211.7,160.1 213.3,160.5 215.0,161.0 216.7,161.4 218.3,161.9 220.0,162.4 221.7,162.9 223.3,163.4 225.0,163.9 226.7,164.5 228.3,165.0 230.0,165.5 231.6,166.0 233.2,166.5 234.8,167.0 236.4,167.4 238.1,167.9 240.0,168.4 241.9,168.9 243.8,169.3 245.9,169.7 248.1,170.1 250.5,170.7 253.4,171.4 256.7,172.3 260.5,173.4 264.5,174.6 268.7,175.8 272.9,176.9 276.9,178.0 280.8,178.9 284.7,179.8 288.6,180.7 292.5,181.5 296.4,182.3 300.3,183.1 304.2,183.9 308.1,184.7 312.0,185.6 315.9,186.3 319.8,187.1 323.7,187.8 327.6,188.5 331.5,189.1 335.4,189.7 339.4,190.2 343.3,190.8 347.2,191.3 351.1,191.9 355.0,192.4 358.9,193.0 362.8,193.5 366.7,194.0 370.6,194.4 374.5,194.8 378.4,195.1 382.3,195.3 386.2,195.6 390.1,195.8 394.0,196.0 398.0,196.2 402.0,196.5 406.0,196.7 410.0,196.9 413.9,197.1 417.5,197.2 421.0,197.3 424.4,197.4 427.7,197.5 430.8,197.5 433.7,197.4 436.2,197.3 438.1,197.0 439.5,196.7 440.5,196.3 441.7,195.8 443.3,195.3 445.6,194.8 448.6,194.3 452.1,193.7 456.0,193.1 460.2,192.5 464.9,191.9 470.0,191.3 475.4,190.7 481.2,190.2 487.4,189.6 494.0,189.0 501.2,188.4 509.0,187.8 517.9,187.1 527.8,186.4 538.3,185.6 548.8,184.9 558.7,184.1 567.6,183.4 575.1,182.7 581.7,181.9 587.8,181.1 593.7,180.4 599.8,179.8 606.7,179.2 614.3,178.8 622.4,178.4 630.8,178.1 639.3,177.9 647.6,177.7 655.6,177.5 662.6,177.3 668.7,177.2 674.6,177.1 681.2,177.0 689.4,176.9 700.0,176.9 713.1,176.9 728.1,176.9 744.6,177.0 762.4,177.1 781.0,177.1 800.0,177.2 821.4,177.3 845.9,177.3 871.2,177.4 895.2,177.4 915.5,177.5 930.0,177.5" fill="none" stroke="#7fb98a" stroke-width="0.9" stroke-linejoin="round" stroke-linecap="round"/><polyline points="235.9,189.5 239.0,189.0 243.4,188.3 248.5,187.4 254.1,186.5 259.8,185.7 265.2,185.0 270.5,184.5 276.1,184.0 281.8,183.6 287.5,183.2 292.9,182.9 298.0,182.7 302.6,182.5 306.9,182.5 311.0,182.5 315.0,182.5 319.2,182.5 323.7,182.4 328.5,182.3 333.6,182.2 338.8,182.1 344.0,182.0 349.2,181.8 354.2,181.5 359.1,181.1 363.9,180.6 368.7,180.0 373.4,179.4 377.9,178.9 382.3,178.4 386.5,178.0 390.7,177.6 394.6,177.3 398.5,177.0 402.2,176.8 405.8,176.6 409.3,176.5 412.7,176.4 416.0,176.4 419.1,176.5 422.0,176.6 424.5,176.8 426.6,177.1 428.4,177.4 429.9,177.8 431.3,178.2 432.6,178.6 433.9,179.1 435.2,179.6 436.4,180.2 437.5,180.8 438.6,181.4 439.8,181.9 440.9,182.4 441.9,182.8 442.7,183.2 443.5,183.5 444.5,183.8 446.0,184.1 448.0,184.3 450.8,184.5 454.1,184.8 457.8,184.9 461.8,185.1 465.9,185.1 470.0,185.0 474.3,184.7 479.1,184.2 484.0,183.6 488.7,183.0 493.0,182.5 496.7,182.2 499.4,182.1 501.4,182.2 502.9,182.4 504.5,182.7 506.3,182.9 508.9,183.0 512.1,183.0 515.8,183.0 519.7,183.0 524.0,183.0 528.5,183.0 533.3,183.0 538.7,183.1 544.7,183.2 551.1,183.4 557.3,183.5 562.9,183.5 567.6,183.4 570.8,183.2 572.7,183.0 574.0,182.7 575.5,182.3 578.0,181.6 582.2,180.5 588.5,178.9 596.4,176.9 605.2,174.6 614.4,172.3 623.2,170.1 631.0,168.2 637.9,166.7 644.3,165.4 650.4,164.2 656.3,163.1 662.1,162.0 667.8,160.9 673.5,159.7 679.1,158.5 684.5,157.3 689.8,156.2 695.0,155.1 700.0,154.0 704.7,153.0 708.9,152.1 713.1,151.2 717.3,150.3 721.7,149.5 726.7,148.7 732.1,147.9 737.7,147.1 743.6,146.4 749.8,145.7 756.4,145.0 763.3,144.3 770.8,143.6 778.9,143.0 787.3,142.3 795.8,141.8 804.2,141.3 812.2,140.9 820.0,140.6 827.8,140.4 835.5,140.2 842.9,140.1 849.9,140.3 856.3,140.6 861.9,141.2 866.6,141.9 870.9,142.8 875.3,143.9 880.0,145.0 885.6,146.2 892.6,147.6 900.9,149.2 909.6,150.8 917.9,152.5 925.0,153.8 930.0,154.8" fill="none" stroke="#cfba3c" stroke-width="0.9" stroke-linejoin="round" stroke-linecap="round"/><polyline points="567.6,183.4 571.1,182.8 576.1,181.9 581.9,180.8 588.1,179.7 594.3,178.5 600.0,177.5 605.2,176.5 610.3,175.6 615.4,174.7 620.5,173.7 625.7,172.8 631.0,171.9 636.5,171.0 642.1,170.1 647.8,169.2 653.5,168.3 659.2,167.4 665.0,166.5 670.9,165.6 676.9,164.7 683.0,163.8 688.9,163.0 694.6,162.1 700.0,161.4 704.9,160.7 709.4,160.1 713.7,159.5 717.9,159.0 722.2,158.5 726.7,158.0 731.4,157.5 736.2,156.9 741.0,156.3 746.0,155.9 750.9,155.6 756.0,155.5 761.0,155.7 766.0,156.1 771.0,156.7 776.2,157.3 781.8,158.0 787.8,158.5 794.6,158.9 802.1,159.3 810.0,159.6 817.8,159.9 825.2,160.4 831.8,160.9 837.5,161.6 842.7,162.4 847.4,163.2 851.9,164.1 856.4,165.0 861.1,165.8 866.1,166.6 871.3,167.5 876.4,168.3 881.4,169.1 886.2,169.7 890.5,170.2 894.3,170.5 897.7,170.6 900.8,170.5 903.8,170.4 906.8,170.3 910.0,170.3 913.5,170.3 917.4,170.3 921.2,170.3 924.8,170.2 927.8,170.2 930.0,170.2" fill="none" stroke="#7050c8" stroke-width="0.9" stroke-linejoin="round" stroke-linecap="round"/>
<line x1="3.70" y1="168.22" x2="3.70" y2="196.95" stroke="#9c3d45" stroke-width="0.7"/><rect x="3.10" y="174.00" width="1.2" height="22.00" fill="#e25562"/><line x1="5.78" y1="178.92" x2="5.78" y2="201.13" stroke="#2c6a50" stroke-width="0.7"/><rect x="5.18" y="182.00" width="1.2" height="14.00" fill="#3f8f6b"/><line x1="7.86" y1="180.19" x2="7.86" y2="190.78" stroke="#9c3d45" stroke-width="0.7"/><rect x="7.26" y="182.00" width="1.2" height="4.00" fill="#e25562"/><line x1="9.93" y1="142.23" x2="9.93" y2="188.84" stroke="#2c6a50" stroke-width="0.7"/><rect x="9.33" y="146.00" width="1.2" height="40.00" fill="#3f8f6b"/><line x1="12.01" y1="141.85" x2="12.01" y2="149.10" stroke="#2c6a50" stroke-width="0.7"/><rect x="11.41" y="143.00" width="1.2" height="3.00" fill="#3f8f6b"/><line x1="14.09" y1="141.06" x2="14.09" y2="160.91" stroke="#9c3d45" stroke-width="0.7"/><rect x="13.49" y="143.00" width="1.2" height="16.00" fill="#e25562"/><line x1="16.17" y1="111.39" x2="16.17" y2="162.77" stroke="#2c6a50" stroke-width="0.7"/><rect x="15.57" y="115.00" width="1.2" height="44.00" fill="#3f8f6b"/><line x1="18.24" y1="89.40" x2="18.24" y2="116.74" stroke="#2c6a50" stroke-width="0.7"/><rect x="17.64" y="95.00" width="1.2" height="20.00" fill="#3f8f6b"/><line x1="20.32" y1="77.16" x2="20.32" y2="98.82" stroke="#2c6a50" stroke-width="0.7"/><rect x="19.72" y="80.00" width="1.2" height="15.00" fill="#3f8f6b"/><line x1="22.40" y1="69.89" x2="22.40" y2="82.39" stroke="#2c6a50" stroke-width="0.7"/><rect x="21.80" y="72.00" width="1.2" height="8.00" fill="#3f8f6b"/><line x1="24.48" y1="39.50" x2="24.48" y2="75.88" stroke="#2c6a50" stroke-width="0.7"/><rect x="23.88" y="44.00" width="1.2" height="28.00" fill="#3f8f6b"/><line x1="26.56" y1="41.23" x2="26.56" y2="71.27" stroke="#9c3d45" stroke-width="0.7"/><rect x="25.96" y="44.00" width="1.2" height="23.00" fill="#e25562"/><line x1="28.63" y1="64.07" x2="28.63" y2="75.86" stroke="#9c3d45" stroke-width="0.7"/><rect x="28.03" y="67.00" width="1.2" height="5.00" fill="#e25562"/><line x1="30.71" y1="68.21" x2="30.71" y2="92.33" stroke="#9c3d45" stroke-width="0.7"/><rect x="30.11" y="72.00" width="1.2" height="18.00" fill="#e25562"/><line x1="32.79" y1="86.38" x2="32.79" y2="106.64" stroke="#9c3d45" stroke-width="0.7"/><rect x="32.19" y="90.00" width="1.2" height="14.00" fill="#e25562"/><line x1="34.87" y1="103.26" x2="34.87" y2="104.30" stroke="#9c3d45" stroke-width="0.7"/><rect x="34.27" y="104.00" width="1.2" height="0.60" fill="#e25562"/><line x1="36.94" y1="99.84" x2="36.94" y2="131.10" stroke="#9c3d45" stroke-width="0.7"/><rect x="36.34" y="104.00" width="1.2" height="20.00" fill="#e25562"/><line x1="39.02" y1="108.37" x2="39.02" y2="128.44" stroke="#2c6a50" stroke-width="0.7"/><rect x="38.42" y="112.00" width="1.2" height="12.00" fill="#3f8f6b"/><line x1="41.10" y1="110.09" x2="41.10" y2="130.50" stroke="#9c3d45" stroke-width="0.7"/><rect x="40.50" y="112.00" width="1.2" height="9.00" fill="#e25562"/><line x1="43.18" y1="100.00" x2="43.18" y2="122.22" stroke="#2c6a50" stroke-width="0.7"/><rect x="42.58" y="111.00" width="1.2" height="10.00" fill="#3f8f6b"/><line x1="45.26" y1="107.27" x2="45.26" y2="112.19" stroke="#2c6a50" stroke-width="0.7"/><rect x="44.66" y="111.00" width="1.2" height="0.60" fill="#3f8f6b"/><line x1="47.33" y1="110.09" x2="47.33" y2="121.67" stroke="#9c3d45" stroke-width="0.7"/><rect x="46.73" y="111.00" width="1.2" height="6.00" fill="#e25562"/><line x1="49.41" y1="116.04" x2="49.41" y2="122.98" stroke="#9c3d45" stroke-width="0.7"/><rect x="48.81" y="117.00" width="1.2" height="5.00" fill="#e25562"/><line x1="51.49" y1="120.23" x2="51.49" y2="126.80" stroke="#9c3d45" stroke-width="0.7"/><rect x="50.89" y="122.00" width="1.2" height="4.00" fill="#e25562"/><line x1="53.57" y1="114.47" x2="53.57" y2="128.33" stroke="#2c6a50" stroke-width="0.7"/><rect x="52.97" y="117.00" width="1.2" height="9.00" fill="#3f8f6b"/><line x1="55.64" y1="113.53" x2="55.64" y2="118.08" stroke="#2c6a50" stroke-width="0.7"/><rect x="55.04" y="115.00" width="1.2" height="2.00" fill="#3f8f6b"/><line x1="57.72" y1="112.59" x2="57.72" y2="130.78" stroke="#9c3d45" stroke-width="0.7"/><rect x="57.12" y="115.00" width="1.2" height="13.00" fill="#e25562"/><line x1="59.80" y1="124.30" x2="59.80" y2="155.82" stroke="#9c3d45" stroke-width="0.7"/><rect x="59.20" y="128.00" width="1.2" height="23.00" fill="#e25562"/><line x1="61.88" y1="149.86" x2="61.88" y2="167.84" stroke="#9c3d45" stroke-width="0.7"/><rect x="61.28" y="151.00" width="1.2" height="13.00" fill="#e25562"/><line x1="63.96" y1="155.66" x2="63.96" y2="165.90" stroke="#2c6a50" stroke-width="0.7"/><rect x="63.36" y="160.00" width="1.2" height="4.00" fill="#3f8f6b"/><line x1="66.03" y1="158.15" x2="66.03" y2="188.60" stroke="#9c3d45" stroke-width="0.7"/><rect x="65.43" y="160.00" width="1.2" height="25.00" fill="#e25562"/><line x1="68.11" y1="154.63" x2="68.11" y2="188.48" stroke="#2c6a50" stroke-width="0.7"/><rect x="67.51" y="158.00" width="1.2" height="27.00" fill="#3f8f6b"/><line x1="70.19" y1="150.82" x2="70.19" y2="178.98" stroke="#9c3d45" stroke-width="0.7"/><rect x="69.59" y="158.00" width="1.2" height="17.00" fill="#e25562"/><line x1="72.27" y1="154.26" x2="72.27" y2="177.99" stroke="#2c6a50" stroke-width="0.7"/><rect x="71.67" y="159.00" width="1.2" height="16.00" fill="#3f8f6b"/><line x1="74.35" y1="155.31" x2="74.35" y2="182.88" stroke="#9c3d45" stroke-width="0.7"/><rect x="73.75" y="159.00" width="1.2" height="22.00" fill="#e25562"/><line x1="76.42" y1="177.48" x2="76.42" y2="244.00" stroke="#9c3d45" stroke-width="0.7"/><rect x="75.82" y="181.00" width="1.2" height="40.00" fill="#e25562"/><line x1="78.50" y1="188.38" x2="78.50" y2="228.40" stroke="#2c6a50" stroke-width="0.7"/><rect x="77.90" y="192.00" width="1.2" height="29.00" fill="#3f8f6b"/><line x1="80.58" y1="162.25" x2="80.58" y2="196.19" stroke="#2c6a50" stroke-width="0.7"/><rect x="79.98" y="166.00" width="1.2" height="26.00" fill="#3f8f6b"/><line x1="82.66" y1="148.29" x2="82.66" y2="169.18" stroke="#2c6a50" stroke-width="0.7"/><rect x="82.06" y="150.00" width="1.2" height="16.00" fill="#3f8f6b"/><line x1="84.73" y1="122.23" x2="84.73" y2="155.09" stroke="#2c6a50" stroke-width="0.7"/><rect x="84.13" y="126.00" width="1.2" height="24.00" fill="#3f8f6b"/><line x1="86.81" y1="84.00" x2="86.81" y2="129.98" stroke="#2c6a50" stroke-width="0.7"/><rect x="86.21" y="88.00" width="1.2" height="38.00" fill="#3f8f6b"/><line x1="88.89" y1="85.88" x2="88.89" y2="100.05" stroke="#9c3d45" stroke-width="0.7"/><rect x="88.29" y="88.00" width="1.2" height="10.00" fill="#e25562"/><line x1="90.97" y1="77.27" x2="90.97" y2="102.09" stroke="#2c6a50" stroke-width="0.7"/><rect x="90.37" y="81.00" width="1.2" height="17.00" fill="#3f8f6b"/><line x1="93.05" y1="64.50" x2="93.05" y2="86.58" stroke="#9c3d45" stroke-width="0.7"/><rect x="92.45" y="81.00" width="1.2" height="5.00" fill="#e25562"/><line x1="95.12" y1="82.78" x2="95.12" y2="93.47" stroke="#9c3d45" stroke-width="0.7"/><rect x="94.52" y="86.00" width="1.2" height="3.00" fill="#e25562"/><line x1="97.20" y1="86.03" x2="97.20" y2="90.28" stroke="#2c6a50" stroke-width="0.7"/><rect x="96.60" y="87.00" width="1.2" height="2.00" fill="#3f8f6b"/><line x1="99.28" y1="84.64" x2="99.28" y2="102.61" stroke="#9c3d45" stroke-width="0.7"/><rect x="98.68" y="87.00" width="1.2" height="14.00" fill="#e25562"/><line x1="101.36" y1="97.08" x2="101.36" y2="118.03" stroke="#9c3d45" stroke-width="0.7"/><rect x="100.76" y="101.00" width="1.2" height="16.00" fill="#e25562"/><line x1="103.43" y1="111.28" x2="103.43" y2="121.96" stroke="#2c6a50" stroke-width="0.7"/><rect x="102.83" y="112.00" width="1.2" height="5.00" fill="#3f8f6b"/><line x1="105.51" y1="106.33" x2="105.51" y2="133.34" stroke="#9c3d45" stroke-width="0.7"/><rect x="104.91" y="112.00" width="1.2" height="18.00" fill="#e25562"/><line x1="107.59" y1="128.63" x2="107.59" y2="143.92" stroke="#9c3d45" stroke-width="0.7"/><rect x="106.99" y="130.00" width="1.2" height="9.00" fill="#e25562"/><line x1="109.67" y1="135.29" x2="109.67" y2="153.00" stroke="#9c3d45" stroke-width="0.7"/><rect x="109.07" y="139.00" width="1.2" height="10.00" fill="#e25562"/><line x1="111.75" y1="142.59" x2="111.75" y2="149.79" stroke="#2c6a50" stroke-width="0.7"/><rect x="111.15" y="147.00" width="1.2" height="2.00" fill="#3f8f6b"/><line x1="113.82" y1="136.15" x2="113.82" y2="147.83" stroke="#2c6a50" stroke-width="0.7"/><rect x="113.22" y="138.00" width="1.2" height="9.00" fill="#3f8f6b"/><line x1="115.90" y1="126.09" x2="115.90" y2="139.26" stroke="#2c6a50" stroke-width="0.7"/><rect x="115.30" y="128.00" width="1.2" height="10.00" fill="#3f8f6b"/><line x1="117.98" y1="119.51" x2="117.98" y2="130.69" stroke="#2c6a50" stroke-width="0.7"/><rect x="117.38" y="121.00" width="1.2" height="7.00" fill="#3f8f6b"/><line x1="120.06" y1="107.67" x2="120.06" y2="122.78" stroke="#2c6a50" stroke-width="0.7"/><rect x="119.46" y="110.00" width="1.2" height="11.00" fill="#3f8f6b"/><line x1="122.13" y1="104.50" x2="122.13" y2="111.58" stroke="#2c6a50" stroke-width="0.7"/><rect x="121.53" y="106.00" width="1.2" height="4.00" fill="#3f8f6b"/><line x1="124.21" y1="104.90" x2="124.21" y2="109.02" stroke="#9c3d45" stroke-width="0.7"/><rect x="123.61" y="106.00" width="1.2" height="2.00" fill="#e25562"/><line x1="126.29" y1="106.42" x2="126.29" y2="118.43" stroke="#9c3d45" stroke-width="0.7"/><rect x="125.69" y="108.00" width="1.2" height="7.00" fill="#e25562"/><line x1="128.37" y1="108.24" x2="128.37" y2="116.59" stroke="#2c6a50" stroke-width="0.7"/><rect x="127.77" y="112.00" width="1.2" height="3.00" fill="#3f8f6b"/><line x1="130.45" y1="111.19" x2="130.45" y2="116.89" stroke="#9c3d45" stroke-width="0.7"/><rect x="129.85" y="112.00" width="1.2" height="4.00" fill="#e25562"/><line x1="132.52" y1="114.35" x2="132.52" y2="119.00" stroke="#9c3d45" stroke-width="0.7"/><rect x="131.92" y="116.00" width="1.2" height="2.00" fill="#e25562"/><line x1="134.60" y1="117.38" x2="134.60" y2="124.37" stroke="#9c3d45" stroke-width="0.7"/><rect x="134.00" y="118.00" width="1.2" height="3.00" fill="#e25562"/><line x1="136.68" y1="117.63" x2="136.68" y2="121.34" stroke="#2c6a50" stroke-width="0.7"/><rect x="136.08" y="120.00" width="1.2" height="1.00" fill="#3f8f6b"/><line x1="138.76" y1="119.05" x2="138.76" y2="124.47" stroke="#9c3d45" stroke-width="0.7"/><rect x="138.16" y="120.00" width="1.2" height="3.00" fill="#e25562"/><line x1="140.83" y1="121.71" x2="140.83" y2="126.26" stroke="#9c3d45" stroke-width="0.7"/><rect x="140.23" y="123.00" width="1.2" height="2.00" fill="#e25562"/><line x1="142.91" y1="123.97" x2="142.91" y2="142.30" stroke="#9c3d45" stroke-width="0.7"/><rect x="142.31" y="125.00" width="1.2" height="14.00" fill="#e25562"/><line x1="144.99" y1="137.62" x2="144.99" y2="151.84" stroke="#9c3d45" stroke-width="0.7"/><rect x="144.39" y="139.00" width="1.2" height="10.00" fill="#e25562"/><line x1="147.07" y1="145.66" x2="147.07" y2="151.34" stroke="#2c6a50" stroke-width="0.7"/><rect x="146.47" y="147.00" width="1.2" height="2.00" fill="#3f8f6b"/><line x1="149.15" y1="142.32" x2="149.15" y2="162.84" stroke="#9c3d45" stroke-width="0.7"/><rect x="148.55" y="147.00" width="1.2" height="13.00" fill="#e25562"/><line x1="151.22" y1="155.11" x2="151.22" y2="169.98" stroke="#9c3d45" stroke-width="0.7"/><rect x="150.62" y="160.00" width="1.2" height="8.00" fill="#e25562"/><line x1="153.30" y1="166.94" x2="153.30" y2="178.71" stroke="#9c3d45" stroke-width="0.7"/><rect x="152.70" y="168.00" width="1.2" height="10.00" fill="#e25562"/><line x1="155.38" y1="176.33" x2="155.38" y2="194.91" stroke="#9c3d45" stroke-width="0.7"/><rect x="154.78" y="178.00" width="1.2" height="14.00" fill="#e25562"/><line x1="157.46" y1="188.27" x2="157.46" y2="217.22" stroke="#9c3d45" stroke-width="0.7"/><rect x="156.86" y="192.00" width="1.2" height="20.00" fill="#e25562"/><line x1="159.53" y1="199.61" x2="159.53" y2="214.51" stroke="#2c6a50" stroke-width="0.7"/><rect x="158.93" y="202.00" width="1.2" height="10.00" fill="#3f8f6b"/><line x1="161.61" y1="194.06" x2="161.61" y2="203.34" stroke="#2c6a50" stroke-width="0.7"/><rect x="161.01" y="196.00" width="1.2" height="6.00" fill="#3f8f6b"/><line x1="163.69" y1="195.13" x2="163.69" y2="202.70" stroke="#9c3d45" stroke-width="0.7"/><rect x="163.09" y="196.00" width="1.2" height="5.00" fill="#e25562"/><line x1="165.77" y1="200.23" x2="165.77" y2="206.62" stroke="#9c3d45" stroke-width="0.7"/><rect x="165.17" y="201.00" width="1.2" height="4.00" fill="#e25562"/><line x1="167.85" y1="200.40" x2="167.85" y2="213.34" stroke="#9c3d45" stroke-width="0.7"/><rect x="167.25" y="205.00" width="1.2" height="7.00" fill="#e25562"/><line x1="169.92" y1="203.15" x2="169.92" y2="217.57" stroke="#2c6a50" stroke-width="0.7"/><rect x="169.32" y="205.00" width="1.2" height="7.00" fill="#3f8f6b"/><line x1="172.00" y1="202.01" x2="172.00" y2="210.79" stroke="#9c3d45" stroke-width="0.7"/><rect x="171.40" y="205.00" width="1.2" height="3.00" fill="#e25562"/><line x1="174.08" y1="199.70" x2="174.08" y2="209.18" stroke="#2c6a50" stroke-width="0.7"/><rect x="173.48" y="204.00" width="1.2" height="4.00" fill="#3f8f6b"/><line x1="176.16" y1="202.61" x2="176.16" y2="206.83" stroke="#9c3d45" stroke-width="0.7"/><rect x="175.56" y="204.00" width="1.2" height="2.00" fill="#e25562"/><line x1="178.24" y1="204.63" x2="178.24" y2="215.71" stroke="#9c3d45" stroke-width="0.7"/><rect x="177.64" y="206.00" width="1.2" height="6.00" fill="#e25562"/><line x1="180.31" y1="208.38" x2="180.31" y2="219.04" stroke="#9c3d45" stroke-width="0.7"/><rect x="179.71" y="212.00" width="1.2" height="6.00" fill="#e25562"/><line x1="182.39" y1="215.73" x2="182.39" y2="225.01" stroke="#9c3d45" stroke-width="0.7"/><rect x="181.79" y="218.00" width="1.2" height="5.00" fill="#e25562"/><line x1="184.47" y1="218.30" x2="184.47" y2="230.83" stroke="#9c3d45" stroke-width="0.7"/><rect x="183.87" y="223.00" width="1.2" height="6.00" fill="#e25562"/><line x1="186.55" y1="228.41" x2="186.55" y2="237.00" stroke="#9c3d45" stroke-width="0.7"/><rect x="185.95" y="229.00" width="1.2" height="3.00" fill="#e25562"/><line x1="188.62" y1="202.43" x2="188.62" y2="235.53" stroke="#2c6a50" stroke-width="0.7"/><rect x="188.02" y="206.00" width="1.2" height="26.00" fill="#3f8f6b"/><line x1="190.70" y1="189.51" x2="190.70" y2="209.43" stroke="#2c6a50" stroke-width="0.7"/><rect x="190.10" y="193.00" width="1.2" height="13.00" fill="#3f8f6b"/><line x1="192.78" y1="181.60" x2="192.78" y2="195.07" stroke="#2c6a50" stroke-width="0.7"/><rect x="192.18" y="189.00" width="1.2" height="4.00" fill="#3f8f6b"/><line x1="194.86" y1="186.36" x2="194.86" y2="209.81" stroke="#9c3d45" stroke-width="0.7"/><rect x="194.26" y="189.00" width="1.2" height="17.00" fill="#e25562"/><line x1="196.94" y1="204.23" x2="196.94" y2="208.42" stroke="#2c6a50" stroke-width="0.7"/><rect x="196.34" y="205.00" width="1.2" height="1.00" fill="#3f8f6b"/><line x1="199.01" y1="203.70" x2="199.01" y2="212.41" stroke="#9c3d45" stroke-width="0.7"/><rect x="198.41" y="205.00" width="1.2" height="4.00" fill="#e25562"/><line x1="201.09" y1="208.08" x2="201.09" y2="215.01" stroke="#9c3d45" stroke-width="0.7"/><rect x="200.49" y="209.00" width="1.2" height="4.00" fill="#e25562"/><line x1="203.17" y1="201.59" x2="203.17" y2="215.41" stroke="#2c6a50" stroke-width="0.7"/><rect x="202.57" y="202.00" width="1.2" height="11.00" fill="#3f8f6b"/><line x1="205.25" y1="194.01" x2="205.25" y2="204.54" stroke="#2c6a50" stroke-width="0.7"/><rect x="204.65" y="195.00" width="1.2" height="7.00" fill="#3f8f6b"/><line x1="207.32" y1="192.12" x2="207.32" y2="198.38" stroke="#9c3d45" stroke-width="0.7"/><rect x="206.72" y="195.00" width="1.2" height="2.00" fill="#e25562"/><line x1="209.40" y1="195.54" x2="209.40" y2="200.83" stroke="#9c3d45" stroke-width="0.7"/><rect x="208.80" y="197.00" width="1.2" height="3.00" fill="#e25562"/><line x1="211.48" y1="198.26" x2="211.48" y2="200.61" stroke="#2c6a50" stroke-width="0.7"/><rect x="210.88" y="199.00" width="1.2" height="1.00" fill="#3f8f6b"/><line x1="213.56" y1="196.60" x2="213.56" y2="202.06" stroke="#9c3d45" stroke-width="0.7"/><rect x="212.96" y="199.00" width="1.2" height="2.00" fill="#e25562"/><line x1="215.64" y1="197.59" x2="215.64" y2="201.95" stroke="#2c6a50" stroke-width="0.7"/><rect x="215.04" y="200.00" width="1.2" height="1.00" fill="#3f8f6b"/><line x1="217.71" y1="197.05" x2="217.71" y2="203.52" stroke="#9c3d45" stroke-width="0.7"/><rect x="217.11" y="200.00" width="1.2" height="2.00" fill="#e25562"/><line x1="219.79" y1="201.43" x2="219.79" y2="204.81" stroke="#9c3d45" stroke-width="0.7"/><rect x="219.19" y="202.00" width="1.2" height="2.00" fill="#e25562"/><line x1="221.87" y1="200.85" x2="221.87" y2="211.18" stroke="#9c3d45" stroke-width="0.7"/><rect x="221.27" y="204.00" width="1.2" height="3.00" fill="#e25562"/><line x1="223.95" y1="201.85" x2="223.95" y2="216.36" stroke="#9c3d45" stroke-width="0.7"/><rect x="223.35" y="207.00" width="1.2" height="6.00" fill="#e25562"/><line x1="226.02" y1="211.65" x2="226.02" y2="221.02" stroke="#9c3d45" stroke-width="0.7"/><rect x="225.42" y="213.00" width="1.2" height="5.00" fill="#e25562"/><line x1="228.10" y1="213.69" x2="228.10" y2="227.08" stroke="#9c3d45" stroke-width="0.7"/><rect x="227.50" y="218.00" width="1.2" height="6.00" fill="#e25562"/><line x1="230.18" y1="223.35" x2="230.18" y2="235.00" stroke="#9c3d45" stroke-width="0.7"/><rect x="229.58" y="224.00" width="1.2" height="3.00" fill="#e25562"/><line x1="232.26" y1="203.04" x2="232.26" y2="228.12" stroke="#2c6a50" stroke-width="0.7"/><rect x="231.66" y="209.00" width="1.2" height="18.00" fill="#3f8f6b"/><line x1="234.34" y1="208.08" x2="234.34" y2="212.45" stroke="#9c3d45" stroke-width="0.7"/><rect x="233.74" y="209.00" width="1.2" height="3.00" fill="#e25562"/><line x1="236.41" y1="207.73" x2="236.41" y2="213.58" stroke="#9c3d45" stroke-width="0.7"/><rect x="235.81" y="212.00" width="1.2" height="1.00" fill="#e25562"/><line x1="238.49" y1="209.56" x2="238.49" y2="218.01" stroke="#9c3d45" stroke-width="0.7"/><rect x="237.89" y="213.00" width="1.2" height="2.00" fill="#e25562"/><line x1="240.57" y1="213.88" x2="240.57" y2="219.50" stroke="#9c3d45" stroke-width="0.7"/><rect x="239.97" y="215.00" width="1.2" height="2.00" fill="#e25562"/><line x1="242.65" y1="215.95" x2="242.65" y2="221.65" stroke="#9c3d45" stroke-width="0.7"/><rect x="242.05" y="217.00" width="1.2" height="3.00" fill="#e25562"/><line x1="244.72" y1="218.02" x2="244.72" y2="227.61" stroke="#9c3d45" stroke-width="0.7"/><rect x="244.12" y="220.00" width="1.2" height="6.00" fill="#e25562"/><line x1="246.80" y1="224.45" x2="246.80" y2="227.28" stroke="#2c6a50" stroke-width="0.7"/><rect x="246.20" y="225.00" width="1.2" height="1.00" fill="#3f8f6b"/><line x1="248.88" y1="223.45" x2="248.88" y2="250.16" stroke="#9c3d45" stroke-width="0.7"/><rect x="248.28" y="225.00" width="1.2" height="21.00" fill="#e25562"/><line x1="250.96" y1="244.83" x2="250.96" y2="253.41" stroke="#9c3d45" stroke-width="0.7"/><rect x="250.36" y="246.00" width="1.2" height="6.00" fill="#e25562"/><line x1="253.04" y1="251.04" x2="253.04" y2="252.85" stroke="#2c6a50" stroke-width="0.7"/><rect x="252.44" y="252.00" width="1.2" height="0.60" fill="#3f8f6b"/><line x1="255.11" y1="248.00" x2="255.11" y2="261.00" stroke="#9c3d45" stroke-width="0.7"/><rect x="254.51" y="252.00" width="1.2" height="6.00" fill="#e25562"/><line x1="257.19" y1="255.69" x2="257.19" y2="267.89" stroke="#9c3d45" stroke-width="0.7"/><rect x="256.59" y="258.00" width="1.2" height="7.00" fill="#e25562"/><line x1="259.27" y1="264.25" x2="259.27" y2="265.51" stroke="#9c3d45" stroke-width="0.7"/><rect x="258.67" y="265.00" width="1.2" height="0.60" fill="#e25562"/><line x1="261.35" y1="263.39" x2="261.35" y2="269.04" stroke="#9c3d45" stroke-width="0.7"/><rect x="260.75" y="265.00" width="1.2" height="3.00" fill="#e25562"/><line x1="263.42" y1="266.82" x2="263.42" y2="274.11" stroke="#9c3d45" stroke-width="0.7"/><rect x="262.82" y="268.00" width="1.2" height="4.00" fill="#e25562"/><line x1="265.50" y1="270.76" x2="265.50" y2="280.00" stroke="#9c3d45" stroke-width="0.7"/><rect x="264.90" y="272.00" width="1.2" height="1.00" fill="#e25562"/><line x1="267.58" y1="267.68" x2="267.58" y2="274.29" stroke="#2c6a50" stroke-width="0.7"/><rect x="266.98" y="269.00" width="1.2" height="4.00" fill="#3f8f6b"/><line x1="269.66" y1="248.96" x2="269.66" y2="271.98" stroke="#2c6a50" stroke-width="0.7"/><rect x="269.06" y="253.00" width="1.2" height="16.00" fill="#3f8f6b"/><line x1="271.74" y1="250.68" x2="271.74" y2="253.85" stroke="#2c6a50" stroke-width="0.7"/><rect x="271.14" y="252.00" width="1.2" height="1.00" fill="#3f8f6b"/><line x1="273.81" y1="246.00" x2="273.81" y2="252.69" stroke="#2c6a50" stroke-width="0.7"/><rect x="273.21" y="250.00" width="1.2" height="2.00" fill="#3f8f6b"/><line x1="275.89" y1="247.99" x2="275.89" y2="250.53" stroke="#2c6a50" stroke-width="0.7"/><rect x="275.29" y="250.00" width="1.2" height="0.60" fill="#3f8f6b"/><line x1="277.97" y1="249.44" x2="277.97" y2="256.69" stroke="#9c3d45" stroke-width="0.7"/><rect x="277.37" y="250.00" width="1.2" height="3.00" fill="#e25562"/><line x1="280.05" y1="250.06" x2="280.05" y2="266.80" stroke="#9c3d45" stroke-width="0.7"/><rect x="279.45" y="253.00" width="1.2" height="10.00" fill="#e25562"/><line x1="282.13" y1="251.05" x2="282.13" y2="265.96" stroke="#2c6a50" stroke-width="0.7"/><rect x="281.53" y="253.00" width="1.2" height="10.00" fill="#3f8f6b"/><line x1="284.20" y1="251.74" x2="284.20" y2="260.32" stroke="#9c3d45" stroke-width="0.7"/><rect x="283.60" y="253.00" width="1.2" height="5.00" fill="#e25562"/><line x1="286.28" y1="249.42" x2="286.28" y2="259.75" stroke="#2c6a50" stroke-width="0.7"/><rect x="285.68" y="252.00" width="1.2" height="6.00" fill="#3f8f6b"/><line x1="288.36" y1="250.01" x2="288.36" y2="258.47" stroke="#9c3d45" stroke-width="0.7"/><rect x="287.76" y="252.00" width="1.2" height="6.00" fill="#e25562"/><line x1="290.44" y1="254.34" x2="290.44" y2="261.47" stroke="#9c3d45" stroke-width="0.7"/><rect x="289.84" y="258.00" width="1.2" height="1.00" fill="#e25562"/><line x1="292.51" y1="255.54" x2="292.51" y2="263.82" stroke="#9c3d45" stroke-width="0.7"/><rect x="291.91" y="259.00" width="1.2" height="2.00" fill="#e25562"/><line x1="294.59" y1="259.61" x2="294.59" y2="262.58" stroke="#9c3d45" stroke-width="0.7"/><rect x="293.99" y="261.00" width="1.2" height="1.00" fill="#e25562"/><line x1="296.67" y1="259.18" x2="296.67" y2="277.62" stroke="#9c3d45" stroke-width="0.7"/><rect x="296.07" y="262.00" width="1.2" height="11.00" fill="#e25562"/><line x1="298.75" y1="266.77" x2="298.75" y2="274.05" stroke="#2c6a50" stroke-width="0.7"/><rect x="298.15" y="270.00" width="1.2" height="3.00" fill="#3f8f6b"/><line x1="300.83" y1="269.34" x2="300.83" y2="275.15" stroke="#9c3d45" stroke-width="0.7"/><rect x="300.23" y="270.00" width="1.2" height="4.00" fill="#e25562"/><line x1="302.90" y1="262.92" x2="302.90" y2="275.90" stroke="#2c6a50" stroke-width="0.7"/><rect x="302.30" y="264.00" width="1.2" height="10.00" fill="#3f8f6b"/><line x1="304.98" y1="259.91" x2="304.98" y2="265.14" stroke="#2c6a50" stroke-width="0.7"/><rect x="304.38" y="261.00" width="1.2" height="3.00" fill="#3f8f6b"/><line x1="307.06" y1="254.42" x2="307.06" y2="261.92" stroke="#2c6a50" stroke-width="0.7"/><rect x="306.46" y="258.00" width="1.2" height="3.00" fill="#3f8f6b"/><line x1="309.14" y1="242.55" x2="309.14" y2="258.75" stroke="#2c6a50" stroke-width="0.7"/><rect x="308.54" y="247.00" width="1.2" height="11.00" fill="#3f8f6b"/><line x1="311.21" y1="228.85" x2="311.21" y2="252.72" stroke="#2c6a50" stroke-width="0.7"/><rect x="310.61" y="231.00" width="1.2" height="16.00" fill="#3f8f6b"/><line x1="313.29" y1="221.00" x2="313.29" y2="236.21" stroke="#2c6a50" stroke-width="0.7"/><rect x="312.69" y="225.00" width="1.2" height="6.00" fill="#3f8f6b"/><line x1="315.37" y1="223.07" x2="315.37" y2="230.46" stroke="#9c3d45" stroke-width="0.7"/><rect x="314.77" y="225.00" width="1.2" height="4.00" fill="#e25562"/><line x1="317.45" y1="223.72" x2="317.45" y2="235.22" stroke="#9c3d45" stroke-width="0.7"/><rect x="316.85" y="229.00" width="1.2" height="5.00" fill="#e25562"/><line x1="319.53" y1="232.82" x2="319.53" y2="242.82" stroke="#9c3d45" stroke-width="0.7"/><rect x="318.93" y="234.00" width="1.2" height="5.00" fill="#e25562"/><line x1="321.60" y1="237.56" x2="321.60" y2="270.00" stroke="#9c3d45" stroke-width="0.7"/><rect x="321.00" y="239.00" width="1.2" height="6.00" fill="#e25562"/><line x1="323.68" y1="242.68" x2="323.68" y2="254.44" stroke="#9c3d45" stroke-width="0.7"/><rect x="323.08" y="245.00" width="1.2" height="8.00" fill="#e25562"/><line x1="325.76" y1="252.60" x2="325.76" y2="253.62" stroke="#9c3d45" stroke-width="0.7"/><rect x="325.16" y="253.00" width="1.2" height="0.60" fill="#e25562"/><line x1="327.84" y1="251.91" x2="327.84" y2="253.87" stroke="#2c6a50" stroke-width="0.7"/><rect x="327.24" y="253.00" width="1.2" height="0.60" fill="#3f8f6b"/><line x1="329.91" y1="241.51" x2="329.91" y2="257.84" stroke="#2c6a50" stroke-width="0.7"/><rect x="329.31" y="244.00" width="1.2" height="9.00" fill="#3f8f6b"/><line x1="331.99" y1="230.40" x2="331.99" y2="247.58" stroke="#2c6a50" stroke-width="0.7"/><rect x="331.39" y="233.00" width="1.2" height="11.00" fill="#3f8f6b"/><line x1="334.07" y1="229.94" x2="334.07" y2="233.59" stroke="#2c6a50" stroke-width="0.7"/><rect x="333.47" y="232.00" width="1.2" height="1.00" fill="#3f8f6b"/><line x1="336.15" y1="228.10" x2="336.15" y2="241.81" stroke="#9c3d45" stroke-width="0.7"/><rect x="335.55" y="232.00" width="1.2" height="7.00" fill="#e25562"/><line x1="338.23" y1="235.43" x2="338.23" y2="248.24" stroke="#9c3d45" stroke-width="0.7"/><rect x="337.63" y="239.00" width="1.2" height="8.00" fill="#e25562"/><line x1="340.30" y1="246.10" x2="340.30" y2="255.30" stroke="#9c3d45" stroke-width="0.7"/><rect x="339.70" y="247.00" width="1.2" height="5.00" fill="#e25562"/><line x1="342.38" y1="242.55" x2="342.38" y2="252.56" stroke="#2c6a50" stroke-width="0.7"/><rect x="341.78" y="245.00" width="1.2" height="7.00" fill="#3f8f6b"/><line x1="344.46" y1="236.58" x2="344.46" y2="247.34" stroke="#2c6a50" stroke-width="0.7"/><rect x="343.86" y="238.00" width="1.2" height="7.00" fill="#3f8f6b"/><line x1="346.54" y1="231.47" x2="346.54" y2="241.79" stroke="#2c6a50" stroke-width="0.7"/><rect x="345.94" y="235.00" width="1.2" height="3.00" fill="#3f8f6b"/><line x1="348.61" y1="234.55" x2="348.61" y2="236.48" stroke="#9c3d45" stroke-width="0.7"/><rect x="348.01" y="235.00" width="1.2" height="1.00" fill="#e25562"/><line x1="350.69" y1="234.97" x2="350.69" y2="238.29" stroke="#9c3d45" stroke-width="0.7"/><rect x="350.09" y="236.00" width="1.2" height="1.70" fill="#e25562"/><line x1="352.77" y1="232.10" x2="352.77" y2="238.65" stroke="#2c6a50" stroke-width="0.7"/><rect x="352.17" y="233.40" width="1.2" height="4.30" fill="#3f8f6b"/><line x1="354.85" y1="232.36" x2="354.85" y2="236.32" stroke="#9c3d45" stroke-width="0.7"/><rect x="354.25" y="233.40" width="1.2" height="0.60" fill="#e25562"/><line x1="356.93" y1="230.74" x2="356.93" y2="235.50" stroke="#2c6a50" stroke-width="0.7"/><rect x="356.33" y="231.30" width="1.2" height="2.70" fill="#3f8f6b"/><line x1="359.00" y1="229.96" x2="359.00" y2="232.40" stroke="#2c6a50" stroke-width="0.7"/><rect x="358.40" y="230.60" width="1.2" height="0.70" fill="#3f8f6b"/><line x1="361.08" y1="201.42" x2="361.08" y2="235.21" stroke="#2c6a50" stroke-width="0.7"/><rect x="360.48" y="208.50" width="1.2" height="22.10" fill="#3f8f6b"/><line x1="363.16" y1="202.25" x2="363.16" y2="213.21" stroke="#2c6a50" stroke-width="0.7"/><rect x="362.56" y="204.20" width="1.2" height="4.30" fill="#3f8f6b"/><line x1="365.24" y1="203.09" x2="365.24" y2="206.95" stroke="#9c3d45" stroke-width="0.7"/><rect x="364.64" y="204.20" width="1.2" height="1.40" fill="#e25562"/><line x1="367.31" y1="192.65" x2="367.31" y2="207.96" stroke="#2c6a50" stroke-width="0.7"/><rect x="366.71" y="195.70" width="1.2" height="9.90" fill="#3f8f6b"/><line x1="369.39" y1="190.72" x2="369.39" y2="207.30" stroke="#9c3d45" stroke-width="0.7"/><rect x="368.79" y="195.70" width="1.2" height="7.80" fill="#e25562"/><line x1="371.47" y1="192.98" x2="371.47" y2="205.77" stroke="#2c6a50" stroke-width="0.7"/><rect x="370.87" y="195.00" width="1.2" height="8.50" fill="#3f8f6b"/><line x1="373.55" y1="184.30" x2="373.55" y2="210.60" stroke="#9c3d45" stroke-width="0.7"/><rect x="372.95" y="195.00" width="1.2" height="2.80" fill="#e25562"/><line x1="375.63" y1="194.87" x2="375.63" y2="200.86" stroke="#2c6a50" stroke-width="0.7"/><rect x="375.03" y="196.00" width="1.2" height="1.80" fill="#3f8f6b"/><line x1="377.70" y1="195.53" x2="377.70" y2="205.72" stroke="#9c3d45" stroke-width="0.7"/><rect x="377.10" y="196.00" width="1.2" height="7.50" fill="#e25562"/><line x1="379.78" y1="201.29" x2="379.78" y2="205.95" stroke="#9c3d45" stroke-width="0.7"/><rect x="379.18" y="203.50" width="1.2" height="1.40" fill="#e25562"/><line x1="381.86" y1="204.21" x2="381.86" y2="207.22" stroke="#9c3d45" stroke-width="0.7"/><rect x="381.26" y="204.90" width="1.2" height="1.50" fill="#e25562"/><line x1="383.94" y1="205.64" x2="383.94" y2="210.31" stroke="#9c3d45" stroke-width="0.7"/><rect x="383.34" y="206.40" width="1.2" height="0.70" fill="#e25562"/><line x1="386.02" y1="205.57" x2="386.02" y2="211.28" stroke="#2c6a50" stroke-width="0.7"/><rect x="385.42" y="206.40" width="1.2" height="0.70" fill="#3f8f6b"/><line x1="388.09" y1="203.70" x2="388.09" y2="214.50" stroke="#9c3d45" stroke-width="0.7"/><rect x="387.49" y="206.40" width="1.2" height="6.40" fill="#e25562"/><line x1="390.17" y1="211.54" x2="390.17" y2="221.98" stroke="#9c3d45" stroke-width="0.7"/><rect x="389.57" y="212.80" width="1.2" height="7.80" fill="#e25562"/><line x1="392.25" y1="216.48" x2="392.25" y2="224.70" stroke="#2c6a50" stroke-width="0.7"/><rect x="391.65" y="217.70" width="1.2" height="2.90" fill="#3f8f6b"/><line x1="394.33" y1="216.79" x2="394.33" y2="224.90" stroke="#9c3d45" stroke-width="0.7"/><rect x="393.73" y="217.70" width="1.2" height="5.70" fill="#e25562"/><line x1="396.40" y1="213.02" x2="396.40" y2="224.86" stroke="#2c6a50" stroke-width="0.7"/><rect x="395.80" y="215.30" width="1.2" height="8.10" fill="#3f8f6b"/><line x1="398.48" y1="204.00" x2="398.48" y2="216.99" stroke="#2c6a50" stroke-width="0.7"/><rect x="397.88" y="210.20" width="1.2" height="5.10" fill="#3f8f6b"/><line x1="400.56" y1="206.85" x2="400.56" y2="213.95" stroke="#9c3d45" stroke-width="0.7"/><rect x="399.96" y="210.20" width="1.2" height="2.50" fill="#e25562"/><line x1="402.64" y1="211.73" x2="402.64" y2="214.35" stroke="#9c3d45" stroke-width="0.7"/><rect x="402.04" y="212.70" width="1.2" height="1.00" fill="#e25562"/><line x1="404.72" y1="212.17" x2="404.72" y2="232.08" stroke="#9c3d45" stroke-width="0.7"/><rect x="404.12" y="213.70" width="1.2" height="13.30" fill="#e25562"/><line x1="406.79" y1="223.88" x2="406.79" y2="245.30" stroke="#9c3d45" stroke-width="0.7"/><rect x="406.19" y="227.00" width="1.2" height="4.60" fill="#e25562"/><line x1="408.87" y1="215.61" x2="408.87" y2="236.66" stroke="#2c6a50" stroke-width="0.7"/><rect x="408.27" y="217.30" width="1.2" height="14.30" fill="#3f8f6b"/><line x1="410.95" y1="204.86" x2="410.95" y2="218.77" stroke="#2c6a50" stroke-width="0.7"/><rect x="410.35" y="206.10" width="1.2" height="11.20" fill="#3f8f6b"/><line x1="413.03" y1="202.60" x2="413.03" y2="208.43" stroke="#2c6a50" stroke-width="0.7"/><rect x="412.43" y="204.00" width="1.2" height="2.10" fill="#3f8f6b"/><line x1="415.10" y1="176.12" x2="415.10" y2="208.01" stroke="#2c6a50" stroke-width="0.7"/><rect x="414.50" y="177.00" width="1.2" height="27.00" fill="#3f8f6b"/><line x1="417.18" y1="172.46" x2="417.18" y2="189.52" stroke="#9c3d45" stroke-width="0.7"/><rect x="416.58" y="177.00" width="1.2" height="10.00" fill="#e25562"/><line x1="419.26" y1="170.50" x2="419.26" y2="187.85" stroke="#2c6a50" stroke-width="0.7"/><rect x="418.66" y="184.00" width="1.2" height="3.00" fill="#3f8f6b"/><line x1="421.34" y1="180.97" x2="421.34" y2="196.77" stroke="#9c3d45" stroke-width="0.7"/><rect x="420.74" y="184.00" width="1.2" height="10.00" fill="#e25562"/><line x1="423.42" y1="192.59" x2="423.42" y2="204.33" stroke="#9c3d45" stroke-width="0.7"/><rect x="422.82" y="194.00" width="1.2" height="9.00" fill="#e25562"/><line x1="425.49" y1="201.19" x2="425.49" y2="209.81" stroke="#9c3d45" stroke-width="0.7"/><rect x="424.89" y="203.00" width="1.2" height="5.50" fill="#e25562"/><line x1="427.57" y1="202.57" x2="427.57" y2="209.70" stroke="#2c6a50" stroke-width="0.7"/><rect x="426.97" y="204.00" width="1.2" height="4.50" fill="#3f8f6b"/><line x1="429.65" y1="202.55" x2="429.65" y2="214.67" stroke="#9c3d45" stroke-width="0.7"/><rect x="429.05" y="204.00" width="1.2" height="6.50" fill="#e25562"/><line x1="431.73" y1="206.59" x2="431.73" y2="214.24" stroke="#9c3d45" stroke-width="0.7"/><rect x="431.13" y="210.50" width="1.2" height="2.50" fill="#e25562"/><line x1="433.80" y1="211.71" x2="433.80" y2="217.60" stroke="#9c3d45" stroke-width="0.7"/><rect x="433.20" y="213.00" width="1.2" height="2.00" fill="#e25562"/><line x1="435.88" y1="190.89" x2="435.88" y2="215.86" stroke="#2c6a50" stroke-width="0.7"/><rect x="435.28" y="198.00" width="1.2" height="17.00" fill="#3f8f6b"/><line x1="437.96" y1="189.31" x2="437.96" y2="200.07" stroke="#2c6a50" stroke-width="0.7"/><rect x="437.36" y="190.00" width="1.2" height="8.00" fill="#3f8f6b"/><line x1="440.04" y1="182.07" x2="440.04" y2="195.07" stroke="#2c6a50" stroke-width="0.7"/><rect x="439.44" y="183.00" width="1.2" height="7.00" fill="#3f8f6b"/><line x1="442.12" y1="157.29" x2="442.12" y2="187.03" stroke="#2c6a50" stroke-width="0.7"/><rect x="441.52" y="162.00" width="1.2" height="21.00" fill="#3f8f6b"/><line x1="444.19" y1="142.18" x2="444.19" y2="165.49" stroke="#2c6a50" stroke-width="0.7"/><rect x="443.59" y="144.00" width="1.2" height="18.00" fill="#3f8f6b"/><line x1="446.27" y1="127.33" x2="446.27" y2="145.23" stroke="#2c6a50" stroke-width="0.7"/><rect x="445.67" y="130.00" width="1.2" height="14.00" fill="#3f8f6b"/><line x1="448.35" y1="108.00" x2="448.35" y2="131.59" stroke="#2c6a50" stroke-width="0.7"/><rect x="447.75" y="115.00" width="1.2" height="15.00" fill="#3f8f6b"/><line x1="450.43" y1="114.52" x2="450.43" y2="143.15" stroke="#9c3d45" stroke-width="0.7"/><rect x="449.83" y="115.00" width="1.2" height="26.00" fill="#e25562"/><line x1="452.50" y1="114.25" x2="452.50" y2="144.02" stroke="#2c6a50" stroke-width="0.7"/><rect x="451.90" y="117.50" width="1.2" height="23.50" fill="#3f8f6b"/><line x1="454.58" y1="115.92" x2="454.58" y2="121.79" stroke="#2c6a50" stroke-width="0.7"/><rect x="453.98" y="117.00" width="1.2" height="0.60" fill="#3f8f6b"/><line x1="456.66" y1="112.68" x2="456.66" y2="138.37" stroke="#9c3d45" stroke-width="0.7"/><rect x="456.06" y="117.00" width="1.2" height="18.00" fill="#e25562"/><line x1="458.74" y1="134.30" x2="458.74" y2="136.66" stroke="#9c3d45" stroke-width="0.7"/><rect x="458.14" y="135.00" width="1.2" height="1.00" fill="#e25562"/><line x1="460.82" y1="134.32" x2="460.82" y2="148.70" stroke="#9c3d45" stroke-width="0.7"/><rect x="460.22" y="136.00" width="1.2" height="5.50" fill="#e25562"/><line x1="462.89" y1="127.48" x2="462.89" y2="143.85" stroke="#2c6a50" stroke-width="0.7"/><rect x="462.29" y="133.00" width="1.2" height="8.50" fill="#3f8f6b"/><line x1="464.97" y1="131.07" x2="464.97" y2="139.72" stroke="#9c3d45" stroke-width="0.7"/><rect x="464.37" y="133.00" width="1.2" height="6.00" fill="#e25562"/><line x1="467.05" y1="136.42" x2="467.05" y2="139.75" stroke="#2c6a50" stroke-width="0.7"/><rect x="466.45" y="139.00" width="1.2" height="0.60" fill="#3f8f6b"/><line x1="469.13" y1="134.59" x2="469.13" y2="140.53" stroke="#2c6a50" stroke-width="0.7"/><rect x="468.53" y="136.00" width="1.2" height="3.00" fill="#3f8f6b"/><line x1="471.20" y1="131.49" x2="471.20" y2="136.88" stroke="#2c6a50" stroke-width="0.7"/><rect x="470.60" y="135.00" width="1.2" height="1.00" fill="#3f8f6b"/><line x1="473.28" y1="124.84" x2="473.28" y2="137.14" stroke="#2c6a50" stroke-width="0.7"/><rect x="472.68" y="127.50" width="1.2" height="7.50" fill="#3f8f6b"/><line x1="475.36" y1="123.87" x2="475.36" y2="128.57" stroke="#2c6a50" stroke-width="0.7"/><rect x="474.76" y="125.00" width="1.2" height="2.50" fill="#3f8f6b"/><line x1="477.44" y1="123.66" x2="477.44" y2="132.31" stroke="#9c3d45" stroke-width="0.7"/><rect x="476.84" y="125.00" width="1.2" height="6.00" fill="#e25562"/><line x1="479.52" y1="130.32" x2="479.52" y2="131.56" stroke="#9c3d45" stroke-width="0.7"/><rect x="478.92" y="131.00" width="1.2" height="0.60" fill="#e25562"/><line x1="481.59" y1="113.56" x2="481.59" y2="134.86" stroke="#2c6a50" stroke-width="0.7"/><rect x="480.99" y="116.00" width="1.2" height="15.00" fill="#3f8f6b"/><line x1="483.67" y1="115.00" x2="483.67" y2="126.26" stroke="#9c3d45" stroke-width="0.7"/><rect x="483.07" y="116.00" width="1.2" height="5.50" fill="#e25562"/><line x1="485.75" y1="118.17" x2="485.75" y2="125.47" stroke="#9c3d45" stroke-width="0.7"/><rect x="485.15" y="121.50" width="1.2" height="3.50" fill="#e25562"/><line x1="487.83" y1="122.99" x2="487.83" y2="126.27" stroke="#2c6a50" stroke-width="0.7"/><rect x="487.23" y="124.00" width="1.2" height="1.00" fill="#3f8f6b"/><line x1="489.91" y1="122.61" x2="489.91" y2="128.07" stroke="#9c3d45" stroke-width="0.7"/><rect x="489.31" y="124.00" width="1.2" height="3.00" fill="#e25562"/><line x1="491.98" y1="122.74" x2="491.98" y2="140.46" stroke="#9c3d45" stroke-width="0.7"/><rect x="491.38" y="127.00" width="1.2" height="11.00" fill="#e25562"/><line x1="494.06" y1="133.83" x2="494.06" y2="139.43" stroke="#2c6a50" stroke-width="0.7"/><rect x="493.46" y="135.00" width="1.2" height="3.00" fill="#3f8f6b"/><line x1="496.14" y1="126.69" x2="496.14" y2="136.81" stroke="#2c6a50" stroke-width="0.7"/><rect x="495.54" y="128.00" width="1.2" height="7.00" fill="#3f8f6b"/><line x1="498.22" y1="121.79" x2="498.22" y2="129.60" stroke="#2c6a50" stroke-width="0.7"/><rect x="497.62" y="124.00" width="1.2" height="4.00" fill="#3f8f6b"/><line x1="500.29" y1="118.28" x2="500.29" y2="126.00" stroke="#2c6a50" stroke-width="0.7"/><rect x="499.69" y="119.00" width="1.2" height="5.00" fill="#3f8f6b"/><line x1="502.37" y1="115.35" x2="502.37" y2="123.62" stroke="#9c3d45" stroke-width="0.7"/><rect x="501.77" y="119.00" width="1.2" height="3.00" fill="#e25562"/><line x1="504.45" y1="117.99" x2="504.45" y2="124.08" stroke="#2c6a50" stroke-width="0.7"/><rect x="503.85" y="119.00" width="1.2" height="3.00" fill="#3f8f6b"/><line x1="506.53" y1="111.69" x2="506.53" y2="119.54" stroke="#2c6a50" stroke-width="0.7"/><rect x="505.93" y="113.00" width="1.2" height="6.00" fill="#3f8f6b"/><line x1="508.61" y1="100.50" x2="508.61" y2="114.48" stroke="#2c6a50" stroke-width="0.7"/><rect x="508.01" y="106.00" width="1.2" height="7.00" fill="#3f8f6b"/><line x1="510.68" y1="104.82" x2="510.68" y2="110.56" stroke="#9c3d45" stroke-width="0.7"/><rect x="510.08" y="106.00" width="1.2" height="2.00" fill="#e25562"/><line x1="512.76" y1="104.13" x2="512.76" y2="109.00" stroke="#2c6a50" stroke-width="0.7"/><rect x="512.16" y="107.00" width="1.2" height="1.00" fill="#3f8f6b"/><line x1="514.84" y1="106.22" x2="514.84" y2="111.15" stroke="#9c3d45" stroke-width="0.7"/><rect x="514.24" y="107.00" width="1.2" height="3.00" fill="#e25562"/><line x1="516.92" y1="109.17" x2="516.92" y2="113.20" stroke="#9c3d45" stroke-width="0.7"/><rect x="516.32" y="110.00" width="1.2" height="2.00" fill="#e25562"/><line x1="518.99" y1="110.57" x2="518.99" y2="117.57" stroke="#9c3d45" stroke-width="0.7"/><rect x="518.39" y="112.00" width="1.2" height="4.00" fill="#e25562"/><line x1="521.07" y1="114.18" x2="521.07" y2="123.54" stroke="#9c3d45" stroke-width="0.7"/><rect x="520.47" y="116.00" width="1.2" height="6.00" fill="#e25562"/><line x1="523.15" y1="119.57" x2="523.15" y2="129.22" stroke="#9c3d45" stroke-width="0.7"/><rect x="522.55" y="122.00" width="1.2" height="6.00" fill="#e25562"/><line x1="525.23" y1="120.33" x2="525.23" y2="130.32" stroke="#2c6a50" stroke-width="0.7"/><rect x="524.63" y="122.00" width="1.2" height="6.00" fill="#3f8f6b"/><line x1="527.31" y1="121.30" x2="527.31" y2="130.05" stroke="#9c3d45" stroke-width="0.7"/><rect x="526.71" y="122.00" width="1.2" height="6.00" fill="#e25562"/><line x1="529.38" y1="122.83" x2="529.38" y2="129.65" stroke="#2c6a50" stroke-width="0.7"/><rect x="528.78" y="124.00" width="1.2" height="4.00" fill="#3f8f6b"/><line x1="531.46" y1="122.33" x2="531.46" y2="130.77" stroke="#9c3d45" stroke-width="0.7"/><rect x="530.86" y="124.00" width="1.2" height="3.00" fill="#e25562"/><line x1="533.54" y1="125.73" x2="533.54" y2="133.43" stroke="#9c3d45" stroke-width="0.7"/><rect x="532.94" y="127.00" width="1.2" height="5.00" fill="#e25562"/><line x1="535.62" y1="126.10" x2="535.62" y2="133.57" stroke="#2c6a50" stroke-width="0.7"/><rect x="535.02" y="129.00" width="1.2" height="3.00" fill="#3f8f6b"/><line x1="537.69" y1="123.81" x2="537.69" y2="130.09" stroke="#2c6a50" stroke-width="0.7"/><rect x="537.09" y="125.00" width="1.2" height="4.00" fill="#3f8f6b"/><line x1="539.77" y1="122.77" x2="539.77" y2="127.33" stroke="#2c6a50" stroke-width="0.7"/><rect x="539.17" y="124.00" width="1.2" height="1.00" fill="#3f8f6b"/><line x1="541.85" y1="117.62" x2="541.85" y2="126.42" stroke="#2c6a50" stroke-width="0.7"/><rect x="541.25" y="119.00" width="1.2" height="5.00" fill="#3f8f6b"/><line x1="543.93" y1="113.03" x2="543.93" y2="120.09" stroke="#2c6a50" stroke-width="0.7"/><rect x="543.33" y="117.00" width="1.2" height="2.00" fill="#3f8f6b"/><line x1="546.01" y1="115.18" x2="546.01" y2="119.41" stroke="#9c3d45" stroke-width="0.7"/><rect x="545.41" y="117.00" width="1.2" height="1.00" fill="#e25562"/><line x1="548.08" y1="117.18" x2="548.08" y2="118.77" stroke="#9c3d45" stroke-width="0.7"/><rect x="547.48" y="118.00" width="1.2" height="0.60" fill="#e25562"/><line x1="550.16" y1="116.76" x2="550.16" y2="120.80" stroke="#9c3d45" stroke-width="0.7"/><rect x="549.56" y="118.07" width="1.2" height="1.13" fill="#e25562"/><line x1="552.24" y1="118.69" x2="552.24" y2="121.40" stroke="#9c3d45" stroke-width="0.7"/><rect x="551.64" y="119.20" width="1.2" height="1.20" fill="#e25562"/><line x1="554.32" y1="117.28" x2="554.32" y2="121.38" stroke="#2c6a50" stroke-width="0.7"/><rect x="553.72" y="118.00" width="1.2" height="2.40" fill="#3f8f6b"/><line x1="556.39" y1="115.00" x2="556.39" y2="130.22" stroke="#9c3d45" stroke-width="0.7"/><rect x="555.79" y="118.00" width="1.2" height="10.30" fill="#e25562"/><line x1="558.47" y1="127.54" x2="558.47" y2="130.11" stroke="#9c3d45" stroke-width="0.7"/><rect x="557.87" y="128.30" width="1.2" height="1.30" fill="#e25562"/><line x1="560.55" y1="126.79" x2="560.55" y2="140.47" stroke="#9c3d45" stroke-width="0.7"/><rect x="559.95" y="129.60" width="1.2" height="9.70" fill="#e25562"/><line x1="562.63" y1="137.96" x2="562.63" y2="142.24" stroke="#9c3d45" stroke-width="0.7"/><rect x="562.03" y="139.30" width="1.2" height="2.50" fill="#e25562"/><line x1="564.71" y1="138.69" x2="564.71" y2="156.50" stroke="#9c3d45" stroke-width="0.7"/><rect x="564.11" y="141.80" width="1.2" height="11.60" fill="#e25562"/><line x1="566.78" y1="151.63" x2="566.78" y2="163.80" stroke="#2c6a50" stroke-width="0.7"/><rect x="566.18" y="152.20" width="1.2" height="1.20" fill="#3f8f6b"/><line x1="568.86" y1="148.56" x2="568.86" y2="153.44" stroke="#2c6a50" stroke-width="0.7"/><rect x="568.26" y="150.30" width="1.2" height="1.90" fill="#3f8f6b"/><line x1="570.94" y1="146.95" x2="570.94" y2="151.55" stroke="#9c3d45" stroke-width="0.7"/><rect x="570.34" y="150.30" width="1.2" height="0.70" fill="#e25562"/><line x1="573.02" y1="148.69" x2="573.02" y2="152.20" stroke="#2c6a50" stroke-width="0.7"/><rect x="572.42" y="149.70" width="1.2" height="1.30" fill="#3f8f6b"/><line x1="575.10" y1="129.71" x2="575.10" y2="151.07" stroke="#2c6a50" stroke-width="0.7"/><rect x="574.50" y="133.80" width="1.2" height="15.90" fill="#3f8f6b"/><line x1="577.17" y1="120.88" x2="577.17" y2="137.89" stroke="#2c6a50" stroke-width="0.7"/><rect x="576.57" y="124.10" width="1.2" height="9.70" fill="#3f8f6b"/><line x1="579.25" y1="119.21" x2="579.25" y2="124.61" stroke="#2c6a50" stroke-width="0.7"/><rect x="578.65" y="123.40" width="1.2" height="0.70" fill="#3f8f6b"/><line x1="581.33" y1="118.88" x2="581.33" y2="124.11" stroke="#2c6a50" stroke-width="0.7"/><rect x="580.73" y="119.80" width="1.2" height="3.60" fill="#3f8f6b"/><line x1="583.41" y1="108.61" x2="583.41" y2="120.77" stroke="#2c6a50" stroke-width="0.7"/><rect x="582.81" y="111.80" width="1.2" height="8.00" fill="#3f8f6b"/><line x1="585.48" y1="110.67" x2="585.48" y2="117.30" stroke="#9c3d45" stroke-width="0.7"/><rect x="584.88" y="111.80" width="1.2" height="4.30" fill="#e25562"/><line x1="587.56" y1="112.24" x2="587.56" y2="122.00" stroke="#9c3d45" stroke-width="0.7"/><rect x="586.96" y="116.10" width="1.2" height="4.90" fill="#e25562"/><line x1="589.64" y1="103.40" x2="589.64" y2="121.87" stroke="#2c6a50" stroke-width="0.7"/><rect x="589.04" y="111.00" width="1.2" height="10.00" fill="#3f8f6b"/><line x1="591.72" y1="108.05" x2="591.72" y2="129.83" stroke="#9c3d45" stroke-width="0.7"/><rect x="591.12" y="111.00" width="1.2" height="16.00" fill="#e25562"/><line x1="593.80" y1="126.21" x2="593.80" y2="131.49" stroke="#9c3d45" stroke-width="0.7"/><rect x="593.20" y="127.00" width="1.2" height="2.00" fill="#e25562"/><line x1="595.87" y1="126.94" x2="595.87" y2="129.55" stroke="#2c6a50" stroke-width="0.7"/><rect x="595.27" y="128.00" width="1.2" height="1.00" fill="#3f8f6b"/><line x1="597.95" y1="126.51" x2="597.95" y2="130.77" stroke="#9c3d45" stroke-width="0.7"/><rect x="597.35" y="128.00" width="1.2" height="2.00" fill="#e25562"/><line x1="600.03" y1="124.77" x2="600.03" y2="130.67" stroke="#2c6a50" stroke-width="0.7"/><rect x="599.43" y="129.00" width="1.2" height="1.00" fill="#3f8f6b"/><line x1="602.11" y1="124.16" x2="602.11" y2="133.00" stroke="#2c6a50" stroke-width="0.7"/><rect x="601.51" y="125.00" width="1.2" height="4.00" fill="#3f8f6b"/><line x1="604.18" y1="114.23" x2="604.18" y2="126.70" stroke="#2c6a50" stroke-width="0.7"/><rect x="603.58" y="117.00" width="1.2" height="8.00" fill="#3f8f6b"/><line x1="606.26" y1="112.99" x2="606.26" y2="118.13" stroke="#2c6a50" stroke-width="0.7"/><rect x="605.66" y="114.00" width="1.2" height="3.00" fill="#3f8f6b"/><line x1="608.34" y1="113.19" x2="608.34" y2="121.36" stroke="#9c3d45" stroke-width="0.7"/><rect x="607.74" y="114.00" width="1.2" height="5.00" fill="#e25562"/><line x1="610.42" y1="115.17" x2="610.42" y2="125.50" stroke="#9c3d45" stroke-width="0.7"/><rect x="609.82" y="119.00" width="1.2" height="6.00" fill="#e25562"/><line x1="612.50" y1="117.40" x2="612.50" y2="126.70" stroke="#2c6a50" stroke-width="0.7"/><rect x="611.90" y="119.00" width="1.2" height="6.00" fill="#3f8f6b"/><line x1="614.57" y1="118.57" x2="614.57" y2="124.97" stroke="#9c3d45" stroke-width="0.7"/><rect x="613.97" y="119.00" width="1.2" height="3.00" fill="#e25562"/><line x1="616.65" y1="118.13" x2="616.65" y2="122.86" stroke="#2c6a50" stroke-width="0.7"/><rect x="616.05" y="119.00" width="1.2" height="3.00" fill="#3f8f6b"/><line x1="618.73" y1="117.93" x2="618.73" y2="122.97" stroke="#9c3d45" stroke-width="0.7"/><rect x="618.13" y="119.00" width="1.2" height="3.00" fill="#e25562"/><line x1="620.81" y1="121.03" x2="620.81" y2="127.01" stroke="#9c3d45" stroke-width="0.7"/><rect x="620.21" y="122.00" width="1.2" height="2.00" fill="#e25562"/><line x1="622.88" y1="119.57" x2="622.88" y2="125.73" stroke="#2c6a50" stroke-width="0.7"/><rect x="622.28" y="121.00" width="1.2" height="3.00" fill="#3f8f6b"/><line x1="624.96" y1="118.96" x2="624.96" y2="122.23" stroke="#2c6a50" stroke-width="0.7"/><rect x="624.36" y="119.50" width="1.2" height="1.50" fill="#3f8f6b"/><line x1="627.04" y1="118.40" x2="627.04" y2="122.63" stroke="#9c3d45" stroke-width="0.7"/><rect x="626.44" y="119.50" width="1.2" height="2.50" fill="#e25562"/><line x1="629.12" y1="121.58" x2="629.12" y2="126.70" stroke="#9c3d45" stroke-width="0.7"/><rect x="628.52" y="122.00" width="1.2" height="3.00" fill="#e25562"/><line x1="631.20" y1="123.53" x2="631.20" y2="127.65" stroke="#9c3d45" stroke-width="0.7"/><rect x="630.60" y="125.00" width="1.2" height="2.00" fill="#e25562"/><line x1="633.27" y1="122.88" x2="633.27" y2="128.60" stroke="#2c6a50" stroke-width="0.7"/><rect x="632.67" y="124.00" width="1.2" height="3.00" fill="#3f8f6b"/><line x1="635.35" y1="122.91" x2="635.35" y2="127.79" stroke="#9c3d45" stroke-width="0.7"/><rect x="634.75" y="124.00" width="1.2" height="3.00" fill="#e25562"/><line x1="637.43" y1="126.44" x2="637.43" y2="128.83" stroke="#9c3d45" stroke-width="0.7"/><rect x="636.83" y="127.00" width="1.2" height="1.00" fill="#e25562"/><line x1="639.51" y1="123.82" x2="639.51" y2="128.77" stroke="#2c6a50" stroke-width="0.7"/><rect x="638.91" y="126.00" width="1.2" height="2.00" fill="#3f8f6b"/><line x1="641.58" y1="122.42" x2="641.58" y2="127.51" stroke="#2c6a50" stroke-width="0.7"/><rect x="640.98" y="123.00" width="1.2" height="3.00" fill="#3f8f6b"/><line x1="643.66" y1="122.01" x2="643.66" y2="125.99" stroke="#9c3d45" stroke-width="0.7"/><rect x="643.06" y="123.00" width="1.2" height="2.00" fill="#e25562"/><line x1="645.74" y1="121.95" x2="645.74" y2="136.72" stroke="#9c3d45" stroke-width="0.7"/><rect x="645.14" y="125.00" width="1.2" height="10.00" fill="#e25562"/><line x1="647.82" y1="133.60" x2="647.82" y2="135.65" stroke="#2c6a50" stroke-width="0.7"/><rect x="647.22" y="134.00" width="1.2" height="1.00" fill="#3f8f6b"/><line x1="649.90" y1="132.20" x2="649.90" y2="138.21" stroke="#2c6a50" stroke-width="0.7"/><rect x="649.30" y="133.00" width="1.2" height="1.00" fill="#3f8f6b"/><line x1="651.97" y1="128.24" x2="651.97" y2="135.99" stroke="#2c6a50" stroke-width="0.7"/><rect x="651.37" y="129.00" width="1.2" height="4.00" fill="#3f8f6b"/><line x1="654.05" y1="123.62" x2="654.05" y2="129.95" stroke="#2c6a50" stroke-width="0.7"/><rect x="653.45" y="127.00" width="1.2" height="2.00" fill="#3f8f6b"/><line x1="656.13" y1="125.32" x2="656.13" y2="131.52" stroke="#9c3d45" stroke-width="0.7"/><rect x="655.53" y="127.00" width="1.2" height="3.00" fill="#e25562"/><line x1="658.21" y1="128.49" x2="658.21" y2="135.25" stroke="#9c3d45" stroke-width="0.7"/><rect x="657.61" y="130.00" width="1.2" height="4.00" fill="#e25562"/><line x1="660.28" y1="131.31" x2="660.28" y2="135.23" stroke="#2c6a50" stroke-width="0.7"/><rect x="659.68" y="132.00" width="1.2" height="2.00" fill="#3f8f6b"/><line x1="662.36" y1="127.74" x2="662.36" y2="133.13" stroke="#2c6a50" stroke-width="0.7"/><rect x="661.76" y="129.00" width="1.2" height="3.00" fill="#3f8f6b"/><line x1="664.44" y1="127.11" x2="664.44" y2="129.79" stroke="#2c6a50" stroke-width="0.7"/><rect x="663.84" y="128.00" width="1.2" height="1.00" fill="#3f8f6b"/><line x1="666.52" y1="126.21" x2="666.52" y2="130.62" stroke="#2c6a50" stroke-width="0.7"/><rect x="665.92" y="127.00" width="1.2" height="1.00" fill="#3f8f6b"/><line x1="668.60" y1="126.43" x2="668.60" y2="128.61" stroke="#9c3d45" stroke-width="0.7"/><rect x="668.00" y="127.00" width="1.2" height="1.00" fill="#e25562"/><line x1="670.67" y1="126.52" x2="670.67" y2="130.70" stroke="#9c3d45" stroke-width="0.7"/><rect x="670.07" y="128.00" width="1.2" height="2.00" fill="#e25562"/><line x1="672.75" y1="129.65" x2="672.75" y2="134.44" stroke="#9c3d45" stroke-width="0.7"/><rect x="672.15" y="130.00" width="1.2" height="3.00" fill="#e25562"/><line x1="674.83" y1="131.47" x2="674.83" y2="137.28" stroke="#9c3d45" stroke-width="0.7"/><rect x="674.23" y="133.00" width="1.2" height="3.00" fill="#e25562"/><line x1="676.91" y1="134.93" x2="676.91" y2="140.66" stroke="#9c3d45" stroke-width="0.7"/><rect x="676.31" y="136.00" width="1.2" height="3.00" fill="#e25562"/><line x1="678.99" y1="135.33" x2="678.99" y2="140.24" stroke="#2c6a50" stroke-width="0.7"/><rect x="678.38" y="136.00" width="1.2" height="3.00" fill="#3f8f6b"/><line x1="681.06" y1="134.59" x2="681.06" y2="139.36" stroke="#9c3d45" stroke-width="0.7"/><rect x="680.46" y="136.00" width="1.2" height="2.00" fill="#e25562"/><line x1="683.14" y1="133.02" x2="683.14" y2="139.59" stroke="#2c6a50" stroke-width="0.7"/><rect x="682.54" y="136.00" width="1.2" height="2.00" fill="#3f8f6b"/><line x1="685.22" y1="135.38" x2="685.22" y2="138.29" stroke="#9c3d45" stroke-width="0.7"/><rect x="684.62" y="136.00" width="1.2" height="1.00" fill="#e25562"/><line x1="687.30" y1="134.24" x2="687.30" y2="139.47" stroke="#2c6a50" stroke-width="0.7"/><rect x="686.70" y="135.00" width="1.2" height="2.00" fill="#3f8f6b"/><line x1="689.37" y1="133.98" x2="689.37" y2="139.38" stroke="#9c3d45" stroke-width="0.7"/><rect x="688.77" y="135.00" width="1.2" height="1.00" fill="#e25562"/><line x1="691.45" y1="132.84" x2="691.45" y2="136.46" stroke="#2c6a50" stroke-width="0.7"/><rect x="690.85" y="134.00" width="1.2" height="2.00" fill="#3f8f6b"/><line x1="693.53" y1="130.43" x2="693.53" y2="138.00" stroke="#9c3d45" stroke-width="0.7"/><rect x="692.93" y="134.00" width="1.2" height="3.00" fill="#e25562"/><line x1="695.61" y1="134.97" x2="695.61" y2="140.60" stroke="#2c6a50" stroke-width="0.7"/><rect x="695.01" y="136.00" width="1.2" height="1.00" fill="#3f8f6b"/><line x1="697.69" y1="133.27" x2="697.69" y2="138.19" stroke="#9c3d45" stroke-width="0.7"/><rect x="697.09" y="136.00" width="1.2" height="1.00" fill="#e25562"/><line x1="699.76" y1="136.64" x2="699.76" y2="137.59" stroke="#2c6a50" stroke-width="0.7"/><rect x="699.16" y="137.00" width="1.2" height="0.60" fill="#3f8f6b"/><line x1="701.84" y1="136.38" x2="701.84" y2="141.30" stroke="#9c3d45" stroke-width="0.7"/><rect x="701.24" y="137.00" width="1.2" height="3.20" fill="#e25562"/><line x1="703.92" y1="139.53" x2="703.92" y2="143.50" stroke="#9c3d45" stroke-width="0.7"/><rect x="703.32" y="140.20" width="1.2" height="2.00" fill="#e25562"/><line x1="706.00" y1="133.66" x2="706.00" y2="143.59" stroke="#2c6a50" stroke-width="0.7"/><rect x="705.40" y="138.10" width="1.2" height="4.10" fill="#3f8f6b"/><line x1="708.07" y1="136.53" x2="708.07" y2="147.13" stroke="#9c3d45" stroke-width="0.7"/><rect x="707.47" y="138.10" width="1.2" height="7.00" fill="#e25562"/><line x1="710.15" y1="144.35" x2="710.15" y2="148.18" stroke="#9c3d45" stroke-width="0.7"/><rect x="709.55" y="145.10" width="1.2" height="2.40" fill="#e25562"/><line x1="712.23" y1="144.60" x2="712.23" y2="152.00" stroke="#9c3d45" stroke-width="0.7"/><rect x="711.63" y="147.50" width="1.2" height="3.70" fill="#e25562"/><line x1="714.31" y1="147.39" x2="714.31" y2="160.00" stroke="#9c3d45" stroke-width="0.7"/><rect x="713.71" y="151.20" width="1.2" height="6.50" fill="#e25562"/><line x1="716.39" y1="150.28" x2="716.39" y2="161.18" stroke="#2c6a50" stroke-width="0.7"/><rect x="715.79" y="153.20" width="1.2" height="4.50" fill="#3f8f6b"/><line x1="718.46" y1="151.35" x2="718.46" y2="153.66" stroke="#2c6a50" stroke-width="0.7"/><rect x="717.86" y="152.00" width="1.2" height="1.20" fill="#3f8f6b"/><line x1="720.54" y1="151.32" x2="720.54" y2="155.52" stroke="#9c3d45" stroke-width="0.7"/><rect x="719.94" y="152.00" width="1.2" height="2.40" fill="#e25562"/><line x1="722.62" y1="148.09" x2="722.62" y2="156.05" stroke="#2c6a50" stroke-width="0.7"/><rect x="722.02" y="149.50" width="1.2" height="4.90" fill="#3f8f6b"/><line x1="724.70" y1="145.99" x2="724.70" y2="152.61" stroke="#9c3d45" stroke-width="0.7"/><rect x="724.10" y="149.50" width="1.2" height="2.10" fill="#e25562"/><line x1="726.77" y1="150.85" x2="726.77" y2="160.00" stroke="#9c3d45" stroke-width="0.7"/><rect x="726.17" y="151.60" width="1.2" height="2.00" fill="#e25562"/><line x1="728.85" y1="152.67" x2="728.85" y2="156.69" stroke="#9c3d45" stroke-width="0.7"/><rect x="728.25" y="153.60" width="1.2" height="2.10" fill="#e25562"/><line x1="730.93" y1="153.65" x2="730.93" y2="162.00" stroke="#9c3d45" stroke-width="0.7"/><rect x="730.33" y="155.70" width="1.2" height="0.60" fill="#e25562"/><line x1="733.01" y1="152.41" x2="733.01" y2="158.74" stroke="#2c6a50" stroke-width="0.7"/><rect x="732.41" y="153.20" width="1.2" height="2.80" fill="#3f8f6b"/><line x1="735.09" y1="152.47" x2="735.09" y2="161.79" stroke="#9c3d45" stroke-width="0.7"/><rect x="734.49" y="153.20" width="1.2" height="7.30" fill="#e25562"/><line x1="737.16" y1="140.00" x2="737.16" y2="165.00" stroke="#2c6a50" stroke-width="0.7"/><rect x="736.56" y="142.20" width="1.2" height="18.30" fill="#3f8f6b"/><line x1="739.24" y1="141.16" x2="739.24" y2="148.09" stroke="#9c3d45" stroke-width="0.7"/><rect x="738.64" y="142.20" width="1.2" height="1.60" fill="#e25562"/><line x1="741.32" y1="140.29" x2="741.32" y2="156.99" stroke="#9c3d45" stroke-width="0.7"/><rect x="740.72" y="143.80" width="1.2" height="10.20" fill="#e25562"/><line x1="743.40" y1="150.55" x2="743.40" y2="156.50" stroke="#2c6a50" stroke-width="0.7"/><rect x="742.80" y="152.40" width="1.2" height="1.60" fill="#3f8f6b"/><line x1="745.47" y1="151.29" x2="745.47" y2="161.00" stroke="#9c3d45" stroke-width="0.7"/><rect x="744.87" y="152.40" width="1.2" height="5.30" fill="#e25562"/><line x1="747.55" y1="148.46" x2="747.55" y2="159.52" stroke="#2c6a50" stroke-width="0.7"/><rect x="746.95" y="150.40" width="1.2" height="7.30" fill="#3f8f6b"/><line x1="749.63" y1="141.05" x2="749.63" y2="152.63" stroke="#2c6a50" stroke-width="0.7"/><rect x="749.03" y="141.70" width="1.2" height="8.70" fill="#3f8f6b"/><line x1="751.71" y1="140.18" x2="751.71" y2="152.48" stroke="#9c3d45" stroke-width="0.7"/><rect x="751.11" y="141.70" width="1.2" height="9.60" fill="#e25562"/><line x1="753.79" y1="146.73" x2="753.79" y2="151.93" stroke="#2c6a50" stroke-width="0.7"/><rect x="753.19" y="148.00" width="1.2" height="3.30" fill="#3f8f6b"/><line x1="755.86" y1="145.71" x2="755.86" y2="157.30" stroke="#9c3d45" stroke-width="0.7"/><rect x="755.26" y="148.00" width="1.2" height="6.90" fill="#e25562"/><line x1="757.94" y1="154.14" x2="757.94" y2="160.10" stroke="#9c3d45" stroke-width="0.7"/><rect x="757.34" y="154.90" width="1.2" height="4.00" fill="#e25562"/><line x1="760.02" y1="155.52" x2="760.02" y2="161.10" stroke="#9c3d45" stroke-width="0.7"/><rect x="759.42" y="158.90" width="1.2" height="1.10" fill="#e25562"/><line x1="762.10" y1="158.43" x2="762.10" y2="163.06" stroke="#9c3d45" stroke-width="0.7"/><rect x="761.50" y="160.00" width="1.2" height="2.50" fill="#e25562"/><line x1="764.17" y1="161.68" x2="764.17" y2="170.00" stroke="#9c3d45" stroke-width="0.7"/><rect x="763.57" y="162.50" width="1.2" height="3.00" fill="#e25562"/><line x1="766.25" y1="164.46" x2="766.25" y2="166.32" stroke="#2c6a50" stroke-width="0.7"/><rect x="765.65" y="165.00" width="1.2" height="0.60" fill="#3f8f6b"/><line x1="768.33" y1="153.35" x2="768.33" y2="167.05" stroke="#2c6a50" stroke-width="0.7"/><rect x="767.73" y="157.90" width="1.2" height="7.10" fill="#3f8f6b"/><line x1="770.41" y1="156.66" x2="770.41" y2="165.54" stroke="#9c3d45" stroke-width="0.7"/><rect x="769.81" y="157.90" width="1.2" height="6.10" fill="#e25562"/><line x1="772.49" y1="162.88" x2="772.49" y2="169.06" stroke="#9c3d45" stroke-width="0.7"/><rect x="771.89" y="164.00" width="1.2" height="2.60" fill="#e25562"/><line x1="774.56" y1="165.51" x2="774.56" y2="173.00" stroke="#9c3d45" stroke-width="0.7"/><rect x="773.96" y="166.60" width="1.2" height="3.50" fill="#e25562"/><line x1="776.64" y1="146.15" x2="776.64" y2="177.09" stroke="#2c6a50" stroke-width="0.7"/><rect x="776.04" y="148.70" width="1.2" height="21.40" fill="#3f8f6b"/><line x1="778.72" y1="145.14" x2="778.72" y2="150.54" stroke="#9c3d45" stroke-width="0.7"/><rect x="778.12" y="148.70" width="1.2" height="1.10" fill="#e25562"/><line x1="780.80" y1="148.09" x2="780.80" y2="158.19" stroke="#9c3d45" stroke-width="0.7"/><rect x="780.20" y="149.80" width="1.2" height="6.10" fill="#e25562"/><line x1="782.88" y1="149.95" x2="782.88" y2="157.76" stroke="#2c6a50" stroke-width="0.7"/><rect x="782.27" y="151.80" width="1.2" height="4.10" fill="#3f8f6b"/><line x1="784.95" y1="150.68" x2="784.95" y2="157.21" stroke="#9c3d45" stroke-width="0.7"/><rect x="784.35" y="151.80" width="1.2" height="4.10" fill="#e25562"/><line x1="787.03" y1="149.40" x2="787.03" y2="157.32" stroke="#2c6a50" stroke-width="0.7"/><rect x="786.43" y="151.30" width="1.2" height="4.60" fill="#3f8f6b"/><line x1="789.11" y1="149.90" x2="789.11" y2="160.70" stroke="#9c3d45" stroke-width="0.7"/><rect x="788.51" y="151.30" width="1.2" height="5.60" fill="#e25562"/><line x1="791.19" y1="152.90" x2="791.19" y2="158.63" stroke="#2c6a50" stroke-width="0.7"/><rect x="790.59" y="154.30" width="1.2" height="2.60" fill="#3f8f6b"/><line x1="793.26" y1="153.41" x2="793.26" y2="158.80" stroke="#9c3d45" stroke-width="0.7"/><rect x="792.66" y="154.30" width="1.2" height="3.60" fill="#e25562"/><line x1="795.34" y1="156.51" x2="795.34" y2="166.87" stroke="#9c3d45" stroke-width="0.7"/><rect x="794.74" y="157.90" width="1.2" height="8.50" fill="#e25562"/><line x1="797.42" y1="162.19" x2="797.42" y2="171.66" stroke="#9c3d45" stroke-width="0.7"/><rect x="796.82" y="166.40" width="1.2" height="3.50" fill="#e25562"/><line x1="799.50" y1="168.29" x2="799.50" y2="185.00" stroke="#9c3d45" stroke-width="0.7"/><rect x="798.90" y="169.90" width="1.2" height="6.40" fill="#e25562"/><line x1="801.58" y1="171.66" x2="801.58" y2="176.98" stroke="#2c6a50" stroke-width="0.7"/><rect x="800.98" y="173.20" width="1.2" height="3.10" fill="#3f8f6b"/><line x1="803.65" y1="170.74" x2="803.65" y2="179.48" stroke="#9c3d45" stroke-width="0.7"/><rect x="803.05" y="173.20" width="1.2" height="5.10" fill="#e25562"/><line x1="805.73" y1="176.84" x2="805.73" y2="181.31" stroke="#9c3d45" stroke-width="0.7"/><rect x="805.13" y="178.30" width="1.2" height="1.60" fill="#e25562"/><line x1="807.81" y1="179.44" x2="807.81" y2="181.15" stroke="#9c3d45" stroke-width="0.7"/><rect x="807.21" y="179.90" width="1.2" height="0.60" fill="#e25562"/><line x1="809.89" y1="178.63" x2="809.89" y2="191.13" stroke="#9c3d45" stroke-width="0.7"/><rect x="809.29" y="180.50" width="1.2" height="7.00" fill="#e25562"/><line x1="811.96" y1="179.38" x2="811.96" y2="188.73" stroke="#2c6a50" stroke-width="0.7"/><rect x="811.36" y="183.40" width="1.2" height="4.10" fill="#3f8f6b"/><line x1="814.04" y1="182.51" x2="814.04" y2="184.64" stroke="#9c3d45" stroke-width="0.7"/><rect x="813.44" y="183.40" width="1.2" height="0.80" fill="#e25562"/><line x1="816.12" y1="183.29" x2="816.12" y2="189.13" stroke="#9c3d45" stroke-width="0.7"/><rect x="815.52" y="184.20" width="1.2" height="4.30" fill="#e25562"/><line x1="818.20" y1="186.85" x2="818.20" y2="191.43" stroke="#2c6a50" stroke-width="0.7"/><rect x="817.60" y="187.50" width="1.2" height="1.00" fill="#3f8f6b"/><line x1="820.28" y1="185.14" x2="820.28" y2="188.03" stroke="#2c6a50" stroke-width="0.7"/><rect x="819.68" y="186.00" width="1.2" height="1.50" fill="#3f8f6b"/><line x1="822.35" y1="183.76" x2="822.35" y2="196.51" stroke="#9c3d45" stroke-width="0.7"/><rect x="821.75" y="186.00" width="1.2" height="8.10" fill="#e25562"/><line x1="824.43" y1="192.96" x2="824.43" y2="199.02" stroke="#9c3d45" stroke-width="0.7"/><rect x="823.83" y="194.10" width="1.2" height="3.60" fill="#e25562"/><line x1="826.51" y1="185.12" x2="826.51" y2="198.72" stroke="#2c6a50" stroke-width="0.7"/><rect x="825.91" y="186.50" width="1.2" height="11.20" fill="#3f8f6b"/><line x1="828.59" y1="182.01" x2="828.59" y2="205.47" stroke="#9c3d45" stroke-width="0.7"/><rect x="827.99" y="186.50" width="1.2" height="16.30" fill="#e25562"/><line x1="830.66" y1="195.73" x2="830.66" y2="210.00" stroke="#2c6a50" stroke-width="0.7"/><rect x="830.06" y="197.70" width="1.2" height="5.10" fill="#3f8f6b"/><line x1="832.74" y1="187.92" x2="832.74" y2="198.98" stroke="#2c6a50" stroke-width="0.7"/><rect x="832.14" y="190.00" width="1.2" height="7.70" fill="#3f8f6b"/><line x1="834.82" y1="185.33" x2="834.82" y2="193.16" stroke="#2c6a50" stroke-width="0.7"/><rect x="834.22" y="187.00" width="1.2" height="3.00" fill="#3f8f6b"/><line x1="836.90" y1="185.88" x2="836.90" y2="193.75" stroke="#9c3d45" stroke-width="0.7"/><rect x="836.30" y="187.00" width="1.2" height="3.50" fill="#e25562"/><line x1="838.98" y1="186.75" x2="838.98" y2="206.85" stroke="#9c3d45" stroke-width="0.7"/><rect x="838.38" y="190.50" width="1.2" height="11.30" fill="#e25562"/><line x1="841.05" y1="192.80" x2="841.05" y2="203.81" stroke="#2c6a50" stroke-width="0.7"/><rect x="840.45" y="194.60" width="1.2" height="7.20" fill="#3f8f6b"/><line x1="843.13" y1="192.88" x2="843.13" y2="201.45" stroke="#9c3d45" stroke-width="0.7"/><rect x="842.53" y="194.60" width="1.2" height="3.95" fill="#e25562"/><line x1="845.21" y1="194.12" x2="845.21" y2="210.64" stroke="#9c3d45" stroke-width="0.7"/><rect x="844.61" y="198.55" width="1.2" height="9.45" fill="#e25562"/><line x1="847.29" y1="207.15" x2="847.29" y2="212.31" stroke="#9c3d45" stroke-width="0.7"/><rect x="846.69" y="208.00" width="1.2" height="3.00" fill="#e25562"/><line x1="849.36" y1="206.82" x2="849.36" y2="220.81" stroke="#9c3d45" stroke-width="0.7"/><rect x="848.76" y="211.00" width="1.2" height="7.00" fill="#e25562"/><line x1="851.44" y1="215.98" x2="851.44" y2="241.00" stroke="#9c3d45" stroke-width="0.7"/><rect x="850.84" y="218.00" width="1.2" height="9.00" fill="#e25562"/><line x1="853.52" y1="223.38" x2="853.52" y2="230.90" stroke="#2c6a50" stroke-width="0.7"/><rect x="852.92" y="224.00" width="1.2" height="3.00" fill="#3f8f6b"/><line x1="855.60" y1="219.18" x2="855.60" y2="225.10" stroke="#2c6a50" stroke-width="0.7"/><rect x="855.00" y="220.00" width="1.2" height="4.00" fill="#3f8f6b"/><line x1="857.68" y1="214.95" x2="857.68" y2="228.30" stroke="#9c3d45" stroke-width="0.7"/><rect x="857.08" y="220.00" width="1.2" height="6.00" fill="#e25562"/><line x1="859.75" y1="224.72" x2="859.75" y2="229.67" stroke="#9c3d45" stroke-width="0.7"/><rect x="859.15" y="226.00" width="1.2" height="2.60" fill="#e25562"/><line x1="861.83" y1="226.21" x2="861.83" y2="238.24" stroke="#9c3d45" stroke-width="0.7"/><rect x="861.23" y="228.60" width="1.2" height="7.30" fill="#e25562"/><line x1="863.91" y1="234.44" x2="863.91" y2="243.37" stroke="#9c3d45" stroke-width="0.7"/><rect x="863.31" y="235.90" width="1.2" height="6.70" fill="#e25562"/><line x1="865.99" y1="238.77" x2="865.99" y2="245.26" stroke="#2c6a50" stroke-width="0.7"/><rect x="865.39" y="240.00" width="1.2" height="2.60" fill="#3f8f6b"/><line x1="868.06" y1="239.56" x2="868.06" y2="251.82" stroke="#9c3d45" stroke-width="0.7"/><rect x="867.46" y="240.00" width="1.2" height="10.00" fill="#e25562"/><line x1="870.14" y1="247.29" x2="870.14" y2="261.33" stroke="#9c3d45" stroke-width="0.7"/><rect x="869.54" y="250.00" width="1.2" height="9.10" fill="#e25562"/><line x1="872.22" y1="257.69" x2="872.22" y2="265.54" stroke="#9c3d45" stroke-width="0.7"/><rect x="871.62" y="259.10" width="1.2" height="3.10" fill="#e25562"/><line x1="874.30" y1="260.52" x2="874.30" y2="271.79" stroke="#9c3d45" stroke-width="0.7"/><rect x="873.70" y="262.20" width="1.2" height="5.50" fill="#e25562"/><line x1="876.38" y1="261.99" x2="876.38" y2="273.00" stroke="#2c6a50" stroke-width="0.7"/><rect x="875.78" y="263.40" width="1.2" height="4.30" fill="#3f8f6b"/><line x1="878.45" y1="260.99" x2="878.45" y2="264.09" stroke="#2c6a50" stroke-width="0.7"/><rect x="877.85" y="262.00" width="1.2" height="1.40" fill="#3f8f6b"/><line x1="880.53" y1="236.99" x2="880.53" y2="269.19" stroke="#2c6a50" stroke-width="0.7"/><rect x="879.93" y="239.00" width="1.2" height="23.00" fill="#3f8f6b"/><line x1="882.61" y1="230.40" x2="882.61" y2="244.17" stroke="#9c3d45" stroke-width="0.7"/><rect x="882.01" y="239.00" width="1.2" height="3.60" fill="#e25562"/><line x1="884.69" y1="238.73" x2="884.69" y2="244.00" stroke="#2c6a50" stroke-width="0.7"/><rect x="884.09" y="240.00" width="1.2" height="2.60" fill="#3f8f6b"/><line x1="886.76" y1="232.61" x2="886.76" y2="240.98" stroke="#2c6a50" stroke-width="0.7"/><rect x="886.16" y="235.90" width="1.2" height="4.10" fill="#3f8f6b"/><line x1="888.84" y1="234.33" x2="888.84" y2="242.14" stroke="#9c3d45" stroke-width="0.7"/><rect x="888.24" y="235.90" width="1.2" height="5.50" fill="#e25562"/><line x1="890.92" y1="230.00" x2="890.92" y2="243.84" stroke="#2c6a50" stroke-width="0.7"/><rect x="890.32" y="240.20" width="1.2" height="1.20" fill="#3f8f6b"/><line x1="893.00" y1="235.11" x2="893.00" y2="250.53" stroke="#9c3d45" stroke-width="0.7"/><rect x="892.40" y="240.20" width="1.2" height="8.50" fill="#e25562"/><line x1="895.08" y1="242.20" x2="895.08" y2="250.21" stroke="#2c6a50" stroke-width="0.7"/><rect x="894.48" y="243.80" width="1.2" height="4.90" fill="#3f8f6b"/><line x1="897.15" y1="240.72" x2="897.15" y2="244.73" stroke="#2c6a50" stroke-width="0.7"/><rect x="896.55" y="242.00" width="1.2" height="1.80" fill="#3f8f6b"/><line x1="899.23" y1="234.87" x2="899.23" y2="245.53" stroke="#2c6a50" stroke-width="0.7"/><rect x="898.63" y="236.00" width="1.2" height="6.00" fill="#3f8f6b"/><line x1="901.31" y1="204.91" x2="901.31" y2="238.74" stroke="#2c6a50" stroke-width="0.7"/><rect x="900.71" y="208.80" width="1.2" height="27.20" fill="#3f8f6b"/><line x1="903.39" y1="206.56" x2="903.39" y2="213.00" stroke="#2c6a50" stroke-width="0.7"/><rect x="902.79" y="208.10" width="1.2" height="0.70" fill="#3f8f6b"/><line x1="905.47" y1="204.38" x2="905.47" y2="219.04" stroke="#9c3d45" stroke-width="0.7"/><rect x="904.87" y="208.10" width="1.2" height="6.60" fill="#e25562"/><line x1="907.54" y1="193.70" x2="907.54" y2="217.03" stroke="#2c6a50" stroke-width="0.7"/><rect x="906.94" y="197.80" width="1.2" height="16.90" fill="#3f8f6b"/><line x1="909.62" y1="188.22" x2="909.62" y2="199.40" stroke="#2c6a50" stroke-width="0.7"/><rect x="909.02" y="189.60" width="1.2" height="8.20" fill="#3f8f6b"/><line x1="911.70" y1="178.70" x2="911.70" y2="192.50" stroke="#2c6a50" stroke-width="0.7"/><rect x="911.10" y="179.90" width="1.2" height="9.70" fill="#3f8f6b"/><line x1="913.78" y1="178.76" x2="913.78" y2="187.38" stroke="#9c3d45" stroke-width="0.7"/><rect x="913.18" y="179.90" width="1.2" height="4.90" fill="#e25562"/><line x1="915.85" y1="183.11" x2="915.85" y2="190.63" stroke="#9c3d45" stroke-width="0.7"/><rect x="915.25" y="184.80" width="1.2" height="4.40" fill="#e25562"/><line x1="917.93" y1="181.34" x2="917.93" y2="190.89" stroke="#2c6a50" stroke-width="0.7"/><rect x="917.33" y="183.10" width="1.2" height="6.10" fill="#3f8f6b"/><line x1="920.01" y1="182.04" x2="920.01" y2="190.55" stroke="#9c3d45" stroke-width="0.7"/><rect x="919.41" y="183.10" width="1.2" height="6.10" fill="#e25562"/><line x1="922.09" y1="187.81" x2="922.09" y2="198.60" stroke="#9c3d45" stroke-width="0.7"/><rect x="921.49" y="189.20" width="1.2" height="4.90" fill="#e25562"/><line x1="924.17" y1="193.24" x2="924.17" y2="196.02" stroke="#9c3d45" stroke-width="0.7"/><rect x="923.57" y="194.10" width="1.2" height="1.20" fill="#e25562"/><line x1="926.24" y1="191.29" x2="926.24" y2="209.20" stroke="#9c3d45" stroke-width="0.7"/><rect x="925.64" y="195.30" width="1.2" height="1.30" fill="#e25562"/><line x1="928.32" y1="193.61" x2="928.32" y2="197.19" stroke="#2c6a50" stroke-width="0.7"/><rect x="927.72" y="194.10" width="1.2" height="2.50" fill="#3f8f6b"/><line x1="930.40" y1="194.85" x2="930.40" y2="196.02" stroke="#9c3d45" stroke-width="0.7"/><rect x="929.80" y="194.85" width="1.2" height="0.60" fill="#e25562"/>
</g>
<g clip-path="url(#cr)"><rect x="4" y="325.2" width="994" height="39.2" fill="#15121d"/><line x1="4" y1="325.2" x2="998" y2="325.2" stroke="#5c5a66" stroke-width="0.6" stroke-dasharray="2.5 2.5"/><line x1="4" y1="341.2" x2="998" y2="341.2" stroke="#5c5a66" stroke-width="0.6" stroke-dasharray="2.5 2.5"/><line x1="4" y1="364.4" x2="998" y2="364.4" stroke="#5c5a66" stroke-width="0.6" stroke-dasharray="2.5 2.5"/><polygon points="7.62,325.20 9.00,322.30 11.50,322.00 12.69,325.20" fill="url(#obg)"/><polygon points="14.07,325.20 15.00,321.60 18.00,320.40 21.00,318.00 24.40,314.50 26.00,324.00 26.71,325.20" fill="url(#obg)"/><polygon points="359.97,325.20 360.00,325.10 362.00,322.30 364.00,321.60 367.00,320.40 368.63,325.20" fill="url(#obg)"/><polygon points="370.16,325.20 371.00,324.40 371.53,325.20" fill="url(#obg)"/><polygon points="414.84,325.20 415.00,324.60 415.21,325.20" fill="url(#obg)"/><polygon points="443.94,325.20 444.00,325.10 446.00,320.40 448.00,317.60 449.00,319.20 449.64,325.20" fill="url(#obg)"/><polygon points="453.88,325.20 454.00,325.10 454.04,325.20" fill="url(#obg)"/><polygon points="909.67,325.20 910.00,324.80 912.00,322.30 914.00,324.80 914.28,325.20" fill="url(#obg)"/><polyline points="3.5,328.6 5.0,327.4 7.0,326.5 9.0,322.3 11.5,322.0 13.5,327.4 15.0,321.6 18.0,320.4 21.0,318.0 24.4,314.5 26.0,324.0 28.0,327.4 30.0,329.8 32.5,335.6 35.0,335.6 36.5,340.3 38.0,336.8 41.0,339.2 44.0,338.0 46.5,336.8 49.0,339.2 51.0,340.3 53.0,338.0 56.0,341.5 60.0,345.0 63.0,349.7 66.0,353.2 67.5,347.4 69.0,349.7 71.0,345.7 73.0,347.4 76.0,354.9 78.5,349.7 80.0,345.0 83.0,340.3 85.5,332.1 87.0,328.6 89.0,331.0 91.0,328.6 94.0,329.8 97.0,333.3 100.0,336.8 102.0,339.2 106.0,342.7 109.0,347.4 111.0,346.2 114.0,341.5 117.0,338.0 120.0,334.5 123.0,334.9 126.0,338.0 129.0,337.3 132.0,339.2 135.0,340.3 138.0,342.0 141.0,342.7 143.0,347.4 146.0,350.9 148.0,353.2 151.0,357.9 154.0,363.8 157.0,369.6 160.0,363.8 163.0,361.4 165.0,362.6 168.0,364.9 171.0,364.5 175.0,361.4 178.0,363.0 182.0,366.1 185.0,368.4 187.0,369.6 189.0,352.0 191.0,345.0 193.0,342.7 195.0,349.7 198.0,349.7 201.0,352.0 203.5,347.4 205.0,342.7 208.0,345.0 212.0,345.5 216.0,345.7 219.0,345.7 222.0,347.4 225.0,352.0 228.0,357.9 230.0,360.2 231.6,345.7 234.0,346.7 237.0,347.4 240.0,348.5 243.0,352.0 246.0,355.6 248.0,359.0 249.0,366.1 251.0,367.7 252.5,363.8 255.0,367.3 257.0,370.1 260.0,370.8 262.0,372.0 264.5,373.6 266.0,372.0 268.0,360.2 269.0,353.2 272.0,352.0 275.0,349.2 277.0,350.4 279.0,354.4 280.0,356.7 282.0,353.2 285.0,348.5 286.5,346.2 288.0,349.0 291.0,350.2 294.0,350.9 296.0,355.6 297.0,359.0 299.0,356.7 301.0,355.1 303.0,356.7 305.0,350.9 307.0,347.4 309.0,345.0 311.0,340.3 313.0,331.0 315.0,326.3 317.0,329.3 319.0,333.3 321.0,336.8 323.0,341.5 324.0,344.3 327.0,344.3 328.5,341.5 331.0,335.6 333.0,332.6 335.0,334.5 337.0,341.5 338.5,344.3 341.0,343.4 343.0,339.2 345.0,336.3 347.0,334.5 350.0,335.2 352.0,336.1 354.0,335.2 356.0,333.3 358.0,332.1 360.0,325.1 362.0,322.3 364.0,321.6 367.0,320.4 369.0,326.3 371.0,324.4 373.0,327.4 376.0,328.6 378.0,331.0 380.0,332.6 383.0,333.3 385.0,333.3 388.0,338.0 390.0,342.7 392.0,344.3 394.0,342.7 396.0,345.5 398.0,340.3 400.0,336.8 402.0,337.5 404.0,339.2 405.5,345.0 407.0,350.2 409.0,345.0 411.0,335.6 413.0,332.1 415.0,324.6 416.0,327.4 418.0,328.6 420.0,328.6 422.0,333.3 424.0,339.2 426.0,342.0 428.0,339.6 430.0,342.0 433.0,342.7 434.5,343.8 436.0,336.8 438.0,335.6 440.0,333.3 442.0,328.6 444.0,325.1 446.0,320.4 448.0,317.6 449.0,319.2 450.0,328.6 452.0,326.7 454.0,325.1 456.0,329.8 458.0,332.1 460.0,334.5 462.0,332.1 466.0,335.2 470.0,333.3 474.0,331.0 477.0,334.5 481.0,329.3 485.0,333.3 489.0,333.3 492.0,340.3 495.0,338.0 499.0,334.0 502.0,334.0 505.0,331.7 508.0,326.7 511.0,328.1 514.0,331.0 517.0,333.3 519.0,335.6 521.0,335.2 523.0,341.5 526.0,342.7 528.0,340.3 530.0,342.7 533.0,342.7 535.0,345.0 538.0,342.7 541.0,338.0 544.0,334.5 547.0,335.6 550.0,336.8 554.0,338.0 556.0,345.0 559.0,348.5 561.0,354.4 563.0,356.7 564.5,364.5 566.0,360.2 568.0,356.7 570.0,357.9 572.0,353.2 574.0,339.2 576.0,334.5 579.0,333.3 583.0,328.6 586.0,334.5 589.0,330.2 591.0,334.5 593.0,341.5 596.0,342.7 600.0,342.2 603.0,340.3 606.0,333.3 609.0,335.6 612.0,340.3 615.0,338.0 617.0,336.1 620.0,340.3 623.0,338.7 626.0,336.3 628.0,338.0 631.0,341.5 633.0,343.8 635.0,342.0 638.0,343.8 642.0,343.4 645.0,339.6 647.0,352.0 651.0,352.0 653.0,347.4 656.0,340.3 659.0,347.8 662.0,344.5 666.0,341.5 670.0,338.7 674.0,345.0 677.0,350.4 679.0,348.5 681.0,351.6 683.0,347.4 686.0,347.4 689.0,346.2 692.5,343.8 697.0,346.0 700.0,348.0 703.0,352.8 705.5,348.0 708.0,355.3 711.0,361.4 714.0,369.4 715.5,361.4 718.0,356.5 720.0,357.7 723.0,354.0 726.0,355.8 730.0,358.9 732.0,354.0 734.0,361.4 736.0,338.2 739.0,338.7 741.0,347.5 744.0,350.4 746.0,343.0 749.0,336.2 751.0,342.6 753.0,341.8 757.0,348.0 761.0,350.9 764.0,354.0 767.0,345.5 770.0,350.4 773.0,354.0 776.0,337.0 779.0,340.6 783.0,339.4 787.0,341.8 791.0,340.6 794.0,346.7 797.0,354.0 800.0,356.5 803.0,357.7 808.0,363.8 811.0,358.9 815.0,361.4 818.0,358.9 821.0,363.8 823.0,366.3 825.5,351.6 828.0,361.4 831.0,351.6 834.0,346.7 838.0,354.0 842.0,348.4 846.0,355.3 850.0,358.9 853.0,364.5 856.0,361.4 858.0,357.7 861.0,362.6 864.0,367.5 867.0,368.0 870.0,371.1 873.0,374.8 875.0,376.0 878.0,372.8 880.0,371.1 881.0,360.2 882.0,350.4 885.0,350.9 888.0,349.2 891.0,349.9 892.5,354.0 895.0,350.4 898.0,345.5 900.0,335.7 901.5,329.1 904.0,330.9 905.0,333.8 907.0,328.4 910.0,324.8 912.0,322.3 914.0,324.8 916.0,327.7 918.0,327.2 920.0,329.6 922.0,332.8 925.0,333.8 927.0,334.3 929.0,333.3 931.0,333.8" fill="none" stroke="#ececec" stroke-width="1.0" stroke-linejoin="round" stroke-linecap="round"/></g>
<g clip-path="url(#cm)"><rect x="3.00" y="416.30" width="1.4" height="10.10" fill="#22a191"/><rect x="5.08" y="416.16" width="1.4" height="10.24" fill="#22a191"/><rect x="7.16" y="416.01" width="1.4" height="10.39" fill="#22a191"/><rect x="9.23" y="415.03" width="1.4" height="11.37" fill="#ee5a45"/><rect x="11.31" y="414.70" width="1.4" height="11.70" fill="#22a191"/><rect x="13.39" y="414.52" width="1.4" height="11.88" fill="#22a191"/><rect x="15.47" y="410.00" width="1.4" height="16.40" fill="#22a191"/><rect x="17.54" y="406.63" width="1.4" height="19.77" fill="#22a191"/><rect x="19.62" y="403.49" width="1.4" height="22.91" fill="#22a191"/><rect x="21.70" y="398.17" width="1.4" height="28.23" fill="#22a191"/><rect x="23.78" y="393.81" width="1.4" height="32.59" fill="#22a191"/><rect x="25.86" y="390.49" width="1.4" height="35.91" fill="#22a191"/><rect x="27.93" y="389.06" width="1.4" height="37.34" fill="#22a191"/><rect x="30.01" y="389.33" width="1.4" height="37.07" fill="#22a191"/><rect x="32.09" y="391.90" width="1.4" height="34.50" fill="#ee5a45"/><rect x="34.17" y="397.24" width="1.4" height="29.16" fill="#ee5a45"/><rect x="36.24" y="403.24" width="1.4" height="23.16" fill="#ee5a45"/><rect x="38.32" y="409.34" width="1.4" height="17.06" fill="#ee5a45"/><rect x="40.40" y="412.92" width="1.4" height="13.48" fill="#ee5a45"/><rect x="42.48" y="415.30" width="1.4" height="11.10" fill="#ee5a45"/><rect x="44.56" y="416.39" width="1.4" height="10.01" fill="#ee5a45"/><rect x="46.63" y="417.28" width="1.4" height="9.12" fill="#ee5a45"/><rect x="48.71" y="419.03" width="1.4" height="7.37" fill="#ee5a45"/><rect x="50.79" y="420.59" width="1.4" height="5.81" fill="#ee5a45"/><rect x="52.87" y="422.04" width="1.4" height="4.36" fill="#ee5a45"/><rect x="54.94" y="423.92" width="1.4" height="2.48" fill="#ee5a45"/><rect x="57.02" y="425.43" width="1.4" height="0.97" fill="#ee5a45"/><rect x="59.10" y="426.40" width="1.4" height="1.00" fill="#ee5a45"/><rect x="61.18" y="426.40" width="1.4" height="4.03" fill="#ee5a45"/><rect x="63.26" y="426.40" width="1.4" height="7.03" fill="#ee5a45"/><rect x="65.33" y="426.40" width="1.4" height="9.63" fill="#ee5a45"/><rect x="67.41" y="426.40" width="1.4" height="11.21" fill="#ee5a45"/><rect x="69.49" y="426.40" width="1.4" height="12.00" fill="#ee5a45"/><rect x="71.57" y="426.40" width="1.4" height="12.45" fill="#ee5a45"/><rect x="73.65" y="426.40" width="1.4" height="13.14" fill="#ee5a45"/><rect x="75.72" y="426.40" width="1.4" height="13.90" fill="#ee5a45"/><rect x="77.80" y="426.40" width="1.4" height="14.40" fill="#ee5a45"/><rect x="79.88" y="426.40" width="1.4" height="14.50" fill="#22a191"/><rect x="81.96" y="426.40" width="1.4" height="13.92" fill="#22a191"/><rect x="84.03" y="426.40" width="1.4" height="11.37" fill="#22a191"/><rect x="86.11" y="426.40" width="1.4" height="7.83" fill="#22a191"/><rect x="88.19" y="426.40" width="1.4" height="3.06" fill="#22a191"/><rect x="90.27" y="424.58" width="1.4" height="1.82" fill="#22a191"/><rect x="92.35" y="419.68" width="1.4" height="6.72" fill="#22a191"/><rect x="94.42" y="414.61" width="1.4" height="11.79" fill="#22a191"/><rect x="96.50" y="413.37" width="1.4" height="13.03" fill="#22a191"/><rect x="98.58" y="414.17" width="1.4" height="12.23" fill="#ee5a45"/><rect x="100.66" y="415.82" width="1.4" height="10.58" fill="#ee5a45"/><rect x="102.73" y="419.46" width="1.4" height="6.94" fill="#ee5a45"/><rect x="104.81" y="422.66" width="1.4" height="3.74" fill="#ee5a45"/><rect x="106.89" y="424.50" width="1.4" height="1.90" fill="#ee5a45"/><rect x="108.97" y="426.40" width="1.4" height="0.30" fill="#ee5a45"/><rect x="111.05" y="426.40" width="1.4" height="2.05" fill="#ee5a45"/><rect x="113.12" y="426.40" width="1.4" height="2.80" fill="#ee5a45"/><rect x="115.20" y="426.40" width="1.4" height="2.26" fill="#ee5a45"/><rect x="117.28" y="426.40" width="1.4" height="0.47" fill="#22a191"/><rect x="119.36" y="424.48" width="1.4" height="1.92" fill="#22a191"/><rect x="121.43" y="422.44" width="1.4" height="3.96" fill="#22a191"/><rect x="123.51" y="420.85" width="1.4" height="5.55" fill="#22a191"/><rect x="125.59" y="419.98" width="1.4" height="6.42" fill="#22a191"/><rect x="127.67" y="420.14" width="1.4" height="6.26" fill="#22a191"/><rect x="129.75" y="420.30" width="1.4" height="6.10" fill="#ee5a45"/><rect x="131.82" y="421.37" width="1.4" height="5.03" fill="#ee5a45"/><rect x="133.90" y="422.66" width="1.4" height="3.74" fill="#ee5a45"/><rect x="135.98" y="423.82" width="1.4" height="2.58" fill="#ee5a45"/><rect x="138.06" y="424.88" width="1.4" height="1.52" fill="#ee5a45"/><rect x="140.13" y="425.92" width="1.4" height="0.48" fill="#ee5a45"/><rect x="142.21" y="426.40" width="1.4" height="1.51" fill="#ee5a45"/><rect x="144.29" y="426.40" width="1.4" height="3.29" fill="#ee5a45"/><rect x="146.37" y="426.40" width="1.4" height="5.26" fill="#ee5a45"/><rect x="148.45" y="426.40" width="1.4" height="7.15" fill="#ee5a45"/><rect x="150.52" y="426.40" width="1.4" height="9.31" fill="#ee5a45"/><rect x="152.60" y="426.40" width="1.4" height="11.26" fill="#ee5a45"/><rect x="154.68" y="426.40" width="1.4" height="12.97" fill="#ee5a45"/><rect x="156.76" y="426.40" width="1.4" height="14.31" fill="#ee5a45"/><rect x="158.83" y="426.40" width="1.4" height="15.00" fill="#ee5a45"/><rect x="160.91" y="426.40" width="1.4" height="14.85" fill="#ee5a45"/><rect x="162.99" y="426.40" width="1.4" height="14.36" fill="#22a191"/><rect x="165.07" y="426.40" width="1.4" height="13.81" fill="#22a191"/><rect x="167.15" y="426.40" width="1.4" height="13.02" fill="#22a191"/><rect x="169.22" y="426.40" width="1.4" height="12.23" fill="#22a191"/><rect x="171.30" y="426.40" width="1.4" height="12.02" fill="#22a191"/><rect x="173.38" y="426.40" width="1.4" height="11.82" fill="#22a191"/><rect x="175.46" y="426.40" width="1.4" height="11.63" fill="#22a191"/><rect x="177.54" y="426.40" width="1.4" height="11.44" fill="#22a191"/><rect x="179.61" y="426.40" width="1.4" height="11.25" fill="#22a191"/><rect x="181.69" y="426.40" width="1.4" height="11.06" fill="#22a191"/><rect x="183.77" y="426.40" width="1.4" height="11.00" fill="#ee5a45"/><rect x="185.85" y="426.40" width="1.4" height="11.00" fill="#ee5a45"/><rect x="187.92" y="426.40" width="1.4" height="10.03" fill="#22a191"/><rect x="190.00" y="426.40" width="1.4" height="6.82" fill="#22a191"/><rect x="192.08" y="426.40" width="1.4" height="5.89" fill="#22a191"/><rect x="194.16" y="426.40" width="1.4" height="5.41" fill="#22a191"/><rect x="196.24" y="426.40" width="1.4" height="4.93" fill="#22a191"/><rect x="198.31" y="426.40" width="1.4" height="4.46" fill="#22a191"/><rect x="200.39" y="426.40" width="1.4" height="3.97" fill="#22a191"/><rect x="202.47" y="426.40" width="1.4" height="3.16" fill="#ee5a45"/><rect x="204.55" y="426.40" width="1.4" height="1.57" fill="#22a191"/><rect x="206.62" y="426.40" width="1.4" height="1.34" fill="#22a191"/><rect x="208.70" y="426.40" width="1.4" height="1.12" fill="#22a191"/><rect x="210.78" y="426.40" width="1.4" height="0.89" fill="#22a191"/><rect x="212.86" y="426.40" width="1.4" height="0.66" fill="#22a191"/><rect x="214.94" y="426.40" width="1.4" height="0.30" fill="#22a191"/><rect x="217.01" y="425.70" width="1.4" height="0.70" fill="#22a191"/><rect x="219.09" y="425.70" width="1.4" height="0.70" fill="#22a191"/><rect x="221.17" y="425.70" width="1.4" height="0.70" fill="#22a191"/><rect x="223.25" y="425.70" width="1.4" height="0.70" fill="#22a191"/><rect x="225.32" y="426.40" width="1.4" height="0.30" fill="#ee5a45"/><rect x="227.40" y="426.40" width="1.4" height="0.90" fill="#ee5a45"/><rect x="229.48" y="426.40" width="1.4" height="0.90" fill="#ee5a45"/><rect x="231.56" y="426.40" width="1.4" height="0.90" fill="#ee5a45"/><rect x="233.64" y="426.40" width="1.4" height="0.90" fill="#ee5a45"/><rect x="235.71" y="426.40" width="1.4" height="0.90" fill="#ee5a45"/><rect x="237.79" y="426.40" width="1.4" height="0.90" fill="#ee5a45"/><rect x="239.87" y="426.40" width="1.4" height="0.81" fill="#ee5a45"/><rect x="241.95" y="426.40" width="1.4" height="0.60" fill="#22a191"/><rect x="244.02" y="426.40" width="1.4" height="0.60" fill="#22a191"/><rect x="246.10" y="426.40" width="1.4" height="0.60" fill="#ee5a45"/><rect x="248.18" y="426.40" width="1.4" height="1.57" fill="#ee5a45"/><rect x="250.26" y="426.40" width="1.4" height="2.94" fill="#ee5a45"/><rect x="252.34" y="426.40" width="1.4" height="3.26" fill="#ee5a45"/><rect x="254.41" y="426.40" width="1.4" height="3.57" fill="#ee5a45"/><rect x="256.49" y="426.40" width="1.4" height="3.88" fill="#ee5a45"/><rect x="258.57" y="426.40" width="1.4" height="4.44" fill="#ee5a45"/><rect x="260.65" y="426.40" width="1.4" height="4.70" fill="#ee5a45"/><rect x="262.72" y="426.40" width="1.4" height="4.70" fill="#ee5a45"/><rect x="264.80" y="426.40" width="1.4" height="4.70" fill="#ee5a45"/><rect x="266.88" y="426.40" width="1.4" height="3.89" fill="#22a191"/><rect x="268.96" y="426.40" width="1.4" height="3.14" fill="#22a191"/><rect x="271.04" y="426.40" width="1.4" height="2.39" fill="#22a191"/><rect x="273.11" y="426.40" width="1.4" height="2.18" fill="#22a191"/><rect x="275.19" y="426.40" width="1.4" height="2.04" fill="#22a191"/><rect x="277.27" y="426.40" width="1.4" height="1.90" fill="#22a191"/><rect x="279.35" y="426.40" width="1.4" height="1.76" fill="#22a191"/><rect x="281.43" y="426.40" width="1.4" height="1.62" fill="#22a191"/><rect x="283.50" y="426.40" width="1.4" height="1.49" fill="#22a191"/><rect x="285.58" y="426.40" width="1.4" height="1.35" fill="#22a191"/><rect x="287.66" y="426.40" width="1.4" height="1.21" fill="#22a191"/><rect x="289.74" y="426.40" width="1.4" height="1.14" fill="#22a191"/><rect x="291.81" y="426.40" width="1.4" height="1.35" fill="#ee5a45"/><rect x="293.89" y="426.40" width="1.4" height="1.56" fill="#ee5a45"/><rect x="295.97" y="426.40" width="1.4" height="1.60" fill="#ee5a45"/><rect x="298.05" y="426.40" width="1.4" height="1.60" fill="#ee5a45"/><rect x="300.13" y="426.40" width="1.4" height="1.60" fill="#ee5a45"/><rect x="302.20" y="426.40" width="1.4" height="1.60" fill="#ee5a45"/><rect x="304.28" y="426.40" width="1.4" height="1.60" fill="#ee5a45"/><rect x="306.36" y="426.40" width="1.4" height="0.60" fill="#22a191"/><rect x="308.44" y="426.40" width="1.4" height="0.60" fill="#22a191"/><rect x="310.51" y="426.40" width="1.4" height="0.60" fill="#22a191"/><rect x="312.59" y="426.40" width="1.4" height="0.60" fill="#22a191"/><rect x="314.67" y="426.40" width="1.4" height="0.30" fill="#22a191"/><rect x="316.75" y="424.00" width="1.4" height="2.40" fill="#22a191"/><rect x="318.83" y="424.00" width="1.4" height="2.40" fill="#22a191"/><rect x="320.90" y="424.00" width="1.4" height="2.40" fill="#22a191"/><rect x="322.98" y="425.05" width="1.4" height="1.35" fill="#ee5a45"/><rect x="325.06" y="425.20" width="1.4" height="1.20" fill="#ee5a45"/><rect x="327.14" y="425.35" width="1.4" height="1.05" fill="#ee5a45"/><rect x="329.21" y="425.49" width="1.4" height="0.91" fill="#ee5a45"/><rect x="331.29" y="426.10" width="1.4" height="0.30" fill="#ee5a45"/><rect x="333.37" y="426.40" width="1.4" height="0.32" fill="#ee5a45"/><rect x="335.45" y="426.40" width="1.4" height="0.37" fill="#ee5a45"/><rect x="337.53" y="426.35" width="1.4" height="0.05" fill="#22a191"/><rect x="339.60" y="425.98" width="1.4" height="0.42" fill="#22a191"/><rect x="341.68" y="425.86" width="1.4" height="0.54" fill="#22a191"/><rect x="343.76" y="425.73" width="1.4" height="0.67" fill="#ee5a45"/><rect x="345.84" y="425.33" width="1.4" height="1.07" fill="#ee5a45"/><rect x="347.91" y="424.83" width="1.4" height="1.57" fill="#22a191"/><rect x="349.99" y="424.50" width="1.4" height="1.90" fill="#22a191"/><rect x="352.07" y="424.50" width="1.4" height="1.90" fill="#22a191"/><rect x="354.15" y="424.50" width="1.4" height="1.90" fill="#22a191"/><rect x="356.23" y="424.50" width="1.4" height="1.90" fill="#22a191"/><rect x="358.30" y="424.50" width="1.4" height="1.90" fill="#22a191"/><rect x="360.38" y="424.50" width="1.4" height="1.90" fill="#22a191"/><rect x="362.46" y="423.96" width="1.4" height="2.44" fill="#22a191"/><rect x="364.54" y="422.99" width="1.4" height="3.41" fill="#22a191"/><rect x="366.61" y="422.02" width="1.4" height="4.38" fill="#22a191"/><rect x="368.69" y="421.70" width="1.4" height="4.70" fill="#22a191"/><rect x="370.77" y="421.70" width="1.4" height="4.70" fill="#22a191"/><rect x="372.85" y="421.70" width="1.4" height="4.70" fill="#22a191"/><rect x="374.93" y="422.11" width="1.4" height="4.29" fill="#ee5a45"/><rect x="377.00" y="422.50" width="1.4" height="3.90" fill="#ee5a45"/><rect x="379.08" y="422.86" width="1.4" height="3.54" fill="#ee5a45"/><rect x="381.16" y="423.23" width="1.4" height="3.17" fill="#ee5a45"/><rect x="383.24" y="423.59" width="1.4" height="2.81" fill="#ee5a45"/><rect x="385.32" y="423.95" width="1.4" height="2.45" fill="#ee5a45"/><rect x="387.39" y="424.32" width="1.4" height="2.08" fill="#ee5a45"/><rect x="389.47" y="424.68" width="1.4" height="1.72" fill="#ee5a45"/><rect x="391.55" y="425.05" width="1.4" height="1.35" fill="#ee5a45"/><rect x="393.63" y="425.44" width="1.4" height="0.96" fill="#ee5a45"/><rect x="395.70" y="425.83" width="1.4" height="0.57" fill="#22a191"/><rect x="397.78" y="426.22" width="1.4" height="0.18" fill="#22a191"/><rect x="399.86" y="426.40" width="1.4" height="0.30" fill="#22a191"/><rect x="401.94" y="426.24" width="1.4" height="0.16" fill="#ee5a45"/><rect x="404.02" y="426.03" width="1.4" height="0.37" fill="#ee5a45"/><rect x="406.09" y="425.28" width="1.4" height="1.12" fill="#ee5a45"/><rect x="408.17" y="424.45" width="1.4" height="1.95" fill="#22a191"/><rect x="410.25" y="423.79" width="1.4" height="2.61" fill="#22a191"/><rect x="412.33" y="423.34" width="1.4" height="3.06" fill="#22a191"/><rect x="414.40" y="422.89" width="1.4" height="3.51" fill="#22a191"/><rect x="416.48" y="423.23" width="1.4" height="3.17" fill="#22a191"/><rect x="418.56" y="424.17" width="1.4" height="2.23" fill="#ee5a45"/><rect x="420.64" y="424.50" width="1.4" height="1.90" fill="#ee5a45"/><rect x="422.72" y="424.50" width="1.4" height="1.90" fill="#ee5a45"/><rect x="424.79" y="424.50" width="1.4" height="1.90" fill="#ee5a45"/><rect x="426.87" y="424.50" width="1.4" height="1.90" fill="#ee5a45"/><rect x="428.95" y="425.32" width="1.4" height="1.08" fill="#ee5a45"/><rect x="431.03" y="426.36" width="1.4" height="0.04" fill="#22a191"/><rect x="433.10" y="426.39" width="1.4" height="0.01" fill="#22a191"/><rect x="435.18" y="426.26" width="1.4" height="0.14" fill="#22a191"/><rect x="437.26" y="426.13" width="1.4" height="0.27" fill="#22a191"/><rect x="439.34" y="425.95" width="1.4" height="0.45" fill="#22a191"/><rect x="441.42" y="423.23" width="1.4" height="3.17" fill="#22a191"/><rect x="443.49" y="420.16" width="1.4" height="6.24" fill="#22a191"/><rect x="445.57" y="417.18" width="1.4" height="9.22" fill="#22a191"/><rect x="447.65" y="414.74" width="1.4" height="11.66" fill="#22a191"/><rect x="449.73" y="412.70" width="1.4" height="13.70" fill="#22a191"/><rect x="451.80" y="412.20" width="1.4" height="14.20" fill="#22a191"/><rect x="453.88" y="411.70" width="1.4" height="14.70" fill="#22a191"/><rect x="455.96" y="413.01" width="1.4" height="13.39" fill="#ee5a45"/><rect x="458.04" y="413.54" width="1.4" height="12.86" fill="#ee5a45"/><rect x="460.12" y="413.83" width="1.4" height="12.57" fill="#ee5a45"/><rect x="462.19" y="414.39" width="1.4" height="12.01" fill="#ee5a45"/><rect x="464.27" y="415.30" width="1.4" height="11.10" fill="#ee5a45"/><rect x="466.35" y="416.21" width="1.4" height="10.19" fill="#ee5a45"/><rect x="468.43" y="417.12" width="1.4" height="9.28" fill="#ee5a45"/><rect x="470.50" y="418.22" width="1.4" height="8.18" fill="#22a191"/><rect x="472.58" y="418.70" width="1.4" height="7.70" fill="#22a191"/><rect x="474.66" y="418.70" width="1.4" height="7.70" fill="#ee5a45"/><rect x="476.74" y="418.45" width="1.4" height="7.95" fill="#ee5a45"/><rect x="478.82" y="418.08" width="1.4" height="8.32" fill="#22a191"/><rect x="480.89" y="418.00" width="1.4" height="8.40" fill="#22a191"/><rect x="482.97" y="418.00" width="1.4" height="8.40" fill="#ee5a45"/><rect x="485.05" y="418.44" width="1.4" height="7.96" fill="#ee5a45"/><rect x="487.13" y="418.96" width="1.4" height="7.44" fill="#22a191"/><rect x="489.21" y="419.19" width="1.4" height="7.21" fill="#22a191"/><rect x="491.28" y="419.40" width="1.4" height="7.00" fill="#ee5a45"/><rect x="493.36" y="420.84" width="1.4" height="5.56" fill="#ee5a45"/><rect x="495.44" y="422.22" width="1.4" height="4.18" fill="#ee5a45"/><rect x="497.52" y="422.59" width="1.4" height="3.81" fill="#ee5a45"/><rect x="499.59" y="422.84" width="1.4" height="3.56" fill="#ee5a45"/><rect x="501.67" y="422.44" width="1.4" height="3.96" fill="#22a191"/><rect x="503.75" y="422.12" width="1.4" height="4.28" fill="#22a191"/><rect x="505.83" y="421.79" width="1.4" height="4.61" fill="#22a191"/><rect x="507.91" y="421.46" width="1.4" height="4.94" fill="#22a191"/><rect x="509.98" y="421.14" width="1.4" height="5.26" fill="#22a191"/><rect x="512.06" y="420.81" width="1.4" height="5.59" fill="#22a191"/><rect x="514.14" y="420.48" width="1.4" height="5.92" fill="#22a191"/><rect x="516.22" y="420.30" width="1.4" height="6.10" fill="#22a191"/><rect x="518.29" y="420.72" width="1.4" height="5.68" fill="#ee5a45"/><rect x="520.37" y="421.59" width="1.4" height="4.81" fill="#ee5a45"/><rect x="522.45" y="422.46" width="1.4" height="3.94" fill="#ee5a45"/><rect x="524.53" y="423.34" width="1.4" height="3.06" fill="#ee5a45"/><rect x="526.61" y="424.21" width="1.4" height="2.19" fill="#ee5a45"/><rect x="528.68" y="424.66" width="1.4" height="1.74" fill="#ee5a45"/><rect x="530.76" y="424.89" width="1.4" height="1.51" fill="#ee5a45"/><rect x="532.84" y="425.13" width="1.4" height="1.27" fill="#ee5a45"/><rect x="534.92" y="425.36" width="1.4" height="1.04" fill="#ee5a45"/><rect x="536.99" y="425.60" width="1.4" height="0.80" fill="#ee5a45"/><rect x="539.07" y="425.83" width="1.4" height="0.57" fill="#ee5a45"/><rect x="541.15" y="426.07" width="1.4" height="0.33" fill="#ee5a45"/><rect x="543.23" y="425.64" width="1.4" height="0.76" fill="#ee5a45"/><rect x="545.31" y="425.00" width="1.4" height="1.40" fill="#22a191"/><rect x="547.38" y="425.00" width="1.4" height="1.40" fill="#22a191"/><rect x="549.46" y="425.00" width="1.4" height="1.40" fill="#22a191"/><rect x="551.54" y="425.00" width="1.4" height="1.40" fill="#22a191"/><rect x="553.62" y="425.00" width="1.4" height="1.40" fill="#22a191"/><rect x="555.69" y="425.59" width="1.4" height="0.81" fill="#22a191"/><rect x="557.77" y="426.40" width="1.4" height="1.84" fill="#ee5a45"/><rect x="559.85" y="426.40" width="1.4" height="2.91" fill="#ee5a45"/><rect x="561.93" y="426.40" width="1.4" height="3.98" fill="#ee5a45"/><rect x="564.01" y="426.40" width="1.4" height="5.05" fill="#ee5a45"/><rect x="566.08" y="426.40" width="1.4" height="5.66" fill="#ee5a45"/><rect x="568.16" y="426.40" width="1.4" height="6.19" fill="#ee5a45"/><rect x="570.24" y="426.40" width="1.4" height="6.73" fill="#ee5a45"/><rect x="572.32" y="426.40" width="1.4" height="6.86" fill="#ee5a45"/><rect x="574.39" y="426.40" width="1.4" height="6.54" fill="#22a191"/><rect x="576.47" y="426.40" width="1.4" height="5.30" fill="#22a191"/><rect x="578.55" y="426.40" width="1.4" height="4.05" fill="#22a191"/><rect x="580.63" y="426.40" width="1.4" height="1.85" fill="#22a191"/><rect x="582.71" y="425.50" width="1.4" height="0.90" fill="#22a191"/><rect x="584.78" y="423.26" width="1.4" height="3.14" fill="#22a191"/><rect x="586.86" y="422.67" width="1.4" height="3.73" fill="#22a191"/><rect x="588.94" y="422.09" width="1.4" height="4.31" fill="#22a191"/><rect x="591.02" y="422.13" width="1.4" height="4.27" fill="#22a191"/><rect x="593.10" y="423.11" width="1.4" height="3.29" fill="#ee5a45"/><rect x="595.17" y="423.64" width="1.4" height="2.76" fill="#ee5a45"/><rect x="597.25" y="424.18" width="1.4" height="2.22" fill="#ee5a45"/><rect x="599.33" y="424.72" width="1.4" height="1.68" fill="#ee5a45"/><rect x="601.41" y="425.25" width="1.4" height="1.15" fill="#ee5a45"/><rect x="603.48" y="425.79" width="1.4" height="0.61" fill="#ee5a45"/><rect x="605.56" y="425.05" width="1.4" height="1.35" fill="#22a191"/><rect x="607.64" y="424.50" width="1.4" height="1.90" fill="#22a191"/><rect x="609.72" y="424.50" width="1.4" height="1.90" fill="#22a191"/><rect x="611.80" y="424.50" width="1.4" height="1.90" fill="#22a191"/><rect x="613.87" y="424.50" width="1.4" height="1.90" fill="#22a191"/><rect x="615.95" y="424.50" width="1.4" height="1.90" fill="#22a191"/><rect x="618.03" y="424.50" width="1.4" height="1.90" fill="#22a191"/><rect x="620.11" y="424.50" width="1.4" height="1.90" fill="#ee5a45"/><rect x="622.18" y="424.50" width="1.4" height="1.90" fill="#ee5a45"/><rect x="624.26" y="424.50" width="1.4" height="1.90" fill="#22a191"/><rect x="626.34" y="424.50" width="1.4" height="1.90" fill="#22a191"/><rect x="628.42" y="424.50" width="1.4" height="1.90" fill="#ee5a45"/><rect x="630.50" y="424.60" width="1.4" height="1.80" fill="#ee5a45"/><rect x="632.57" y="424.77" width="1.4" height="1.63" fill="#ee5a45"/><rect x="634.65" y="424.95" width="1.4" height="1.45" fill="#ee5a45"/><rect x="636.73" y="425.93" width="1.4" height="0.47" fill="#ee5a45"/><rect x="638.81" y="426.40" width="1.4" height="0.88" fill="#ee5a45"/><rect x="640.88" y="426.40" width="1.4" height="1.20" fill="#ee5a45"/><rect x="642.96" y="426.40" width="1.4" height="1.20" fill="#ee5a45"/><rect x="645.04" y="426.40" width="1.4" height="1.20" fill="#ee5a45"/><rect x="647.12" y="426.40" width="1.4" height="1.20" fill="#ee5a45"/><rect x="649.20" y="426.40" width="1.4" height="1.20" fill="#ee5a45"/><rect x="651.27" y="426.40" width="1.4" height="1.20" fill="#ee5a45"/><rect x="653.35" y="426.40" width="1.4" height="1.20" fill="#ee5a45"/><rect x="655.43" y="426.40" width="1.4" height="1.20" fill="#ee5a45"/><rect x="657.51" y="426.40" width="1.4" height="1.14" fill="#ee5a45"/><rect x="659.58" y="426.40" width="1.4" height="0.60" fill="#22a191"/><rect x="661.66" y="426.40" width="1.4" height="0.60" fill="#22a191"/><rect x="663.74" y="426.40" width="1.4" height="0.60" fill="#22a191"/><rect x="665.82" y="426.40" width="1.4" height="0.60" fill="#22a191"/><rect x="667.90" y="426.40" width="1.4" height="0.60" fill="#22a191"/><rect x="669.97" y="426.40" width="1.4" height="0.60" fill="#22a191"/><rect x="672.05" y="426.40" width="1.4" height="0.60" fill="#22a191"/><rect x="674.13" y="426.40" width="1.4" height="1.30" fill="#22a191"/><rect x="676.21" y="426.40" width="1.4" height="2.30" fill="#ee5a45"/><rect x="678.28" y="426.40" width="1.4" height="2.30" fill="#ee5a45"/><rect x="680.36" y="426.40" width="1.4" height="2.30" fill="#ee5a45"/><rect x="682.44" y="426.40" width="1.4" height="2.30" fill="#ee5a45"/><rect x="684.52" y="426.40" width="1.4" height="2.30" fill="#ee5a45"/><rect x="686.60" y="426.40" width="1.4" height="2.30" fill="#ee5a45"/><rect x="688.67" y="426.40" width="1.4" height="2.15" fill="#ee5a45"/><rect x="690.75" y="426.40" width="1.4" height="1.90" fill="#22a191"/><rect x="692.83" y="426.40" width="1.4" height="1.90" fill="#22a191"/><rect x="694.91" y="426.40" width="1.4" height="1.90" fill="#22a191"/><rect x="696.99" y="426.40" width="1.4" height="1.90" fill="#22a191"/><rect x="699.06" y="426.40" width="1.4" height="1.90" fill="#22a191"/><rect x="701.14" y="426.40" width="1.4" height="1.90" fill="#22a191"/><rect x="703.22" y="426.40" width="1.4" height="3.05" fill="#ee5a45"/><rect x="705.30" y="426.40" width="1.4" height="3.17" fill="#ee5a45"/><rect x="707.37" y="426.40" width="1.4" height="3.24" fill="#ee5a45"/><rect x="709.45" y="426.40" width="1.4" height="3.31" fill="#ee5a45"/><rect x="711.53" y="426.40" width="1.4" height="3.37" fill="#ee5a45"/><rect x="713.61" y="426.40" width="1.4" height="3.44" fill="#ee5a45"/><rect x="715.69" y="426.40" width="1.4" height="3.51" fill="#ee5a45"/><rect x="717.76" y="426.40" width="1.4" height="3.58" fill="#ee5a45"/><rect x="719.84" y="426.40" width="1.4" height="3.60" fill="#22a191"/><rect x="721.92" y="426.40" width="1.4" height="3.60" fill="#22a191"/><rect x="724.00" y="426.40" width="1.4" height="3.60" fill="#22a191"/><rect x="726.07" y="426.40" width="1.4" height="3.60" fill="#22a191"/><rect x="728.15" y="426.40" width="1.4" height="3.60" fill="#22a191"/><rect x="730.23" y="426.40" width="1.4" height="3.12" fill="#ee5a45"/><rect x="732.31" y="426.40" width="1.4" height="2.97" fill="#22a191"/><rect x="734.39" y="426.40" width="1.4" height="2.79" fill="#22a191"/><rect x="736.46" y="426.40" width="1.4" height="2.52" fill="#ee5a45"/><rect x="738.54" y="426.40" width="1.4" height="1.59" fill="#22a191"/><rect x="740.62" y="426.40" width="1.4" height="1.54" fill="#22a191"/><rect x="742.70" y="426.40" width="1.4" height="1.49" fill="#22a191"/><rect x="744.77" y="426.40" width="1.4" height="1.44" fill="#22a191"/><rect x="746.85" y="426.40" width="1.4" height="1.39" fill="#22a191"/><rect x="748.93" y="426.40" width="1.4" height="1.33" fill="#22a191"/><rect x="751.01" y="426.40" width="1.4" height="1.28" fill="#22a191"/><rect x="753.09" y="426.40" width="1.4" height="1.23" fill="#22a191"/><rect x="755.16" y="426.40" width="1.4" height="1.18" fill="#22a191"/><rect x="757.24" y="426.40" width="1.4" height="1.13" fill="#22a191"/><rect x="759.32" y="426.40" width="1.4" height="1.76" fill="#ee5a45"/><rect x="761.40" y="426.40" width="1.4" height="2.40" fill="#ee5a45"/><rect x="763.47" y="426.40" width="1.4" height="2.40" fill="#ee5a45"/><rect x="765.55" y="426.40" width="1.4" height="2.40" fill="#ee5a45"/><rect x="767.63" y="426.40" width="1.4" height="2.40" fill="#ee5a45"/><rect x="769.71" y="426.40" width="1.4" height="2.40" fill="#ee5a45"/><rect x="771.79" y="426.40" width="1.4" height="2.40" fill="#ee5a45"/><rect x="773.86" y="426.40" width="1.4" height="1.47" fill="#ee5a45"/><rect x="775.94" y="425.49" width="1.4" height="0.91" fill="#22a191"/><rect x="778.02" y="425.44" width="1.4" height="0.96" fill="#22a191"/><rect x="780.10" y="425.39" width="1.4" height="1.01" fill="#22a191"/><rect x="782.17" y="425.34" width="1.4" height="1.06" fill="#22a191"/><rect x="784.25" y="425.29" width="1.4" height="1.11" fill="#22a191"/><rect x="786.33" y="425.25" width="1.4" height="1.15" fill="#22a191"/><rect x="788.41" y="425.18" width="1.4" height="1.22" fill="#22a191"/><rect x="790.49" y="424.82" width="1.4" height="1.58" fill="#ee5a45"/><rect x="792.56" y="425.08" width="1.4" height="1.32" fill="#ee5a45"/><rect x="794.64" y="426.02" width="1.4" height="0.38" fill="#ee5a45"/><rect x="796.72" y="426.40" width="1.4" height="3.12" fill="#ee5a45"/><rect x="798.80" y="426.40" width="1.4" height="3.21" fill="#ee5a45"/><rect x="800.88" y="426.40" width="1.4" height="3.31" fill="#ee5a45"/><rect x="802.95" y="426.40" width="1.4" height="3.40" fill="#ee5a45"/><rect x="805.03" y="426.40" width="1.4" height="3.50" fill="#ee5a45"/><rect x="807.11" y="426.40" width="1.4" height="3.59" fill="#ee5a45"/><rect x="809.19" y="426.40" width="1.4" height="4.07" fill="#22a191"/><rect x="811.26" y="426.40" width="1.4" height="4.10" fill="#22a191"/><rect x="813.34" y="426.40" width="1.4" height="4.10" fill="#ee5a45"/><rect x="815.42" y="426.40" width="1.4" height="4.10" fill="#ee5a45"/><rect x="817.50" y="426.40" width="1.4" height="4.10" fill="#22a191"/><rect x="819.58" y="426.40" width="1.4" height="4.10" fill="#22a191"/><rect x="821.65" y="426.40" width="1.4" height="4.10" fill="#22a191"/><rect x="823.73" y="426.40" width="1.4" height="4.10" fill="#ee5a45"/><rect x="825.81" y="426.40" width="1.4" height="4.10" fill="#ee5a45"/><rect x="827.89" y="426.40" width="1.4" height="4.10" fill="#22a191"/><rect x="829.96" y="426.40" width="1.4" height="4.10" fill="#22a191"/><rect x="832.04" y="426.40" width="1.4" height="4.10" fill="#22a191"/><rect x="834.12" y="426.40" width="1.4" height="4.10" fill="#22a191"/><rect x="836.20" y="426.40" width="1.4" height="4.10" fill="#22a191"/><rect x="838.28" y="426.40" width="1.4" height="4.25" fill="#22a191"/><rect x="840.35" y="426.40" width="1.4" height="4.43" fill="#ee5a45"/><rect x="842.43" y="426.40" width="1.4" height="4.48" fill="#ee5a45"/><rect x="844.51" y="426.40" width="1.4" height="4.53" fill="#ee5a45"/><rect x="846.59" y="426.40" width="1.4" height="4.58" fill="#ee5a45"/><rect x="848.66" y="426.40" width="1.4" height="4.63" fill="#ee5a45"/><rect x="850.74" y="426.40" width="1.4" height="4.69" fill="#ee5a45"/><rect x="852.82" y="426.40" width="1.4" height="4.74" fill="#ee5a45"/><rect x="854.90" y="426.40" width="1.4" height="4.79" fill="#ee5a45"/><rect x="856.98" y="426.40" width="1.4" height="4.84" fill="#ee5a45"/><rect x="859.05" y="426.40" width="1.4" height="4.89" fill="#ee5a45"/><rect x="861.13" y="426.40" width="1.4" height="5.02" fill="#ee5a45"/><rect x="863.21" y="426.40" width="1.4" height="5.16" fill="#ee5a45"/><rect x="865.29" y="426.40" width="1.4" height="5.30" fill="#ee5a45"/><rect x="867.36" y="426.40" width="1.4" height="5.44" fill="#ee5a45"/><rect x="869.44" y="426.40" width="1.4" height="5.58" fill="#ee5a45"/><rect x="871.52" y="426.40" width="1.4" height="5.71" fill="#ee5a45"/><rect x="873.60" y="426.40" width="1.4" height="5.85" fill="#ee5a45"/><rect x="875.68" y="426.40" width="1.4" height="5.99" fill="#ee5a45"/><rect x="877.75" y="426.40" width="1.4" height="5.99" fill="#ee5a45"/><rect x="879.83" y="426.40" width="1.4" height="5.47" fill="#22a191"/><rect x="881.91" y="426.40" width="1.4" height="4.95" fill="#22a191"/><rect x="883.99" y="426.40" width="1.4" height="4.43" fill="#22a191"/><rect x="886.06" y="426.40" width="1.4" height="3.91" fill="#22a191"/><rect x="888.14" y="426.40" width="1.4" height="3.31" fill="#22a191"/><rect x="890.22" y="426.40" width="1.4" height="2.60" fill="#22a191"/><rect x="892.30" y="426.40" width="1.4" height="1.89" fill="#22a191"/><rect x="894.38" y="426.40" width="1.4" height="1.17" fill="#22a191"/><rect x="896.45" y="426.40" width="1.4" height="0.30" fill="#22a191"/><rect x="898.53" y="425.70" width="1.4" height="0.70" fill="#22a191"/><rect x="900.61" y="424.76" width="1.4" height="1.64" fill="#22a191"/><rect x="902.69" y="423.83" width="1.4" height="2.57" fill="#22a191"/><rect x="904.77" y="422.94" width="1.4" height="3.46" fill="#22a191"/><rect x="906.84" y="422.05" width="1.4" height="4.35" fill="#22a191"/><rect x="908.92" y="421.16" width="1.4" height="5.24" fill="#22a191"/><rect x="911.00" y="420.70" width="1.4" height="5.70" fill="#22a191"/><rect x="913.08" y="420.34" width="1.4" height="6.06" fill="#22a191"/><rect x="915.15" y="420.42" width="1.4" height="5.98" fill="#22a191"/><rect x="917.23" y="420.73" width="1.4" height="5.67" fill="#22a191"/><rect x="919.31" y="421.09" width="1.4" height="5.31" fill="#ee5a45"/><rect x="921.39" y="421.28" width="1.4" height="5.12" fill="#ee5a45"/><rect x="923.47" y="421.47" width="1.4" height="4.93" fill="#ee5a45"/><rect x="925.54" y="421.66" width="1.4" height="4.74" fill="#ee5a45"/><rect x="927.62" y="421.85" width="1.4" height="4.55" fill="#ee5a45"/><rect x="929.70" y="422.00" width="1.4" height="4.40" fill="#ee5a45"/></g>
</svg>
<svg width="1024" height="491" viewBox="0 0 1024 491" style="position:absolute;left:0;top:0">

<line x1="3" y1="306.3" x2="998" y2="306.3" stroke="#1c1f29" stroke-width="1"/>
<line x1="3" y1="382.8" x2="1020" y2="382.8" stroke="#181b23" stroke-width="1"/>
<line x1="3" y1="446.5" x2="1020" y2="446.5" stroke="#1d1f28" stroke-width="1"/>
<line x1="3" y1="458.6" x2="1020.5" y2="458.6" stroke="#505050" stroke-width="1.1"/>
<line x1="998.6" y1="10" x2="998.6" y2="468" stroke="#6a6a6a" stroke-width="0.9"/>
<line x1="998" y1="306.3" x2="1020" y2="306.3" stroke="#1c1f29" stroke-width="1"/>
<rect x="998.5" y="37.9" width="16.5" height="5.8" fill="#f4f4f4"/><rect x="998.5" y="61.4" width="16.5" height="5.8" fill="#f4f4f4"/><rect x="998.5" y="97.4" width="16.5" height="5.8" fill="#f4f4f4"/><rect x="998.5" y="105.3" width="16.5" height="5.8" fill="#f4f4f4"/><rect x="998.5" y="131.5" width="16.5" height="5.8" fill="#f4f4f4"/><rect x="998.5" y="138.8" width="16.5" height="5.8" fill="#f4f4f4"/><rect x="998.5" y="148.4" width="16.5" height="5.8" fill="#f4f4f4"/><rect x="998.5" y="159.5" width="16.5" height="5.8" fill="#f4f4f4"/><rect x="998.5" y="165.4" width="16.5" height="5.8" fill="#f4f4f4"/><rect x="998.5" y="171.2" width="16.5" height="5.8" fill="#f4f4f4"/><rect x="998.5" y="178.5" width="16.5" height="5.8" fill="#f4f4f4"/><rect x="998.5" y="203.3" width="16.5" height="5.8" fill="#f4f4f4"/><rect x="998.5" y="208.9" width="16.5" height="5.8" fill="#f4f4f4"/><rect x="998.5" y="214.7" width="16.5" height="5.8" fill="#f4f4f4"/><rect x="998.5" y="220.3" width="16.5" height="5.8" fill="#f4f4f4"/><rect x="998.5" y="227.2" width="16.5" height="5.8" fill="#f4f4f4"/><rect x="998.5" y="241.5" width="16.5" height="5.8" fill="#f4f4f4"/><rect x="998.5" y="264.3" width="16.5" height="5.8" fill="#f4f4f4"/><rect x="998.5" y="270.4" width="16.5" height="5.8" fill="#f4f4f4"/><rect x="998.5" y="280.4" width="16.5" height="5.8" fill="#f4f4f4"/><rect x="998.5" y="192" width="16.5" height="11" fill="#4a4d57"/><rect x="999.9" y="11.2" width="19" height="10" rx="1.5" fill="#0e0e0e" stroke="#2c2c2c" stroke-width="0.6"/><circle cx="930.2" cy="301.6" r="3.3" fill="#0d0a10" stroke="#9a42c4" stroke-width="0.9"/><path d="M930.6 299.4 L929.2 301.9 L930.4 301.9 L929.7 303.9 L931.3 301.2 L930.1 301.2 Z" fill="#a64ad0"/><circle cx="933" cy="299.4" r="1.0" fill="#f23b2c"/><g transform="translate(4,476.5)">
<path d="M0 0 H5.2 V6.6 H2.6 V2.6 H0 Z" fill="#d0d0d0"/>
<circle cx="6.6" cy="1.3" r="1.3" fill="#d0d0d0"/>
<path d="M8.6 0 H11.8 L8.8 6.6 H5.6 Z" fill="#d0d0d0"/>
</g><text x="3.2" y="5.6" font-size="4.25" fill="#e0e0e0" text-anchor="start" font-weight="bold" dominant-baseline="central" >coletraderelk created with TradingView.com, Oct 20, 2025 11:31 UTC+1</text><text x="5.9" y="15.4" font-size="4.5" dominant-baseline="central" fill="#d8d8d8">Ethereum / Bitcoin · 1W · Binance <tspan fill="#d8d8d8">O</tspan><tspan fill="#e0505a">0.0367</tspan> <tspan fill="#d8d8d8">H</tspan><tspan fill="#e0505a">0.0367</tspan> <tspan fill="#d8d8d8">L</tspan><tspan fill="#e0505a">0.0363</tspan> <tspan fill="#d8d8d8">C</tspan><tspan fill="#e0505a">0.0365</tspan> <tspan fill="#e0505a">−0.0002 (−0.52%)</tspan></text><text x="996" y="43.3" font-size="3.55" fill="#f0f0f0" text-anchor="end" font-weight="bold" dominant-baseline="central" >All-Time High</text><text x="996" y="67.6" font-size="3.55" fill="#f0f0f0" text-anchor="end" font-weight="bold" dominant-baseline="central" >2018 High</text><text x="996" y="96.6" font-size="3.55" fill="#f0f0f0" text-anchor="end" font-weight="bold" dominant-baseline="central" >2021 High</text><text x="996" y="111.3" font-size="3.55" fill="#f0f0f0" text-anchor="end" font-weight="bold" dominant-baseline="central" >Resistance</text><text x="996" y="131.4" font-size="3.55" fill="#f0f0f0" text-anchor="end" font-weight="bold" dominant-baseline="central" >Support + Resistance</text><text x="996" y="138.7" font-size="3.55" fill="#f0f0f0" text-anchor="end" font-weight="bold" dominant-baseline="central" >Support + Resistance</text><text x="996" y="154.6" font-size="3.55" fill="#f0f0f0" text-anchor="end" font-weight="bold" dominant-baseline="central" >Support + Resistance</text><text x="996" y="160.4" font-size="3.55" fill="#f0f0f0" text-anchor="end" font-weight="bold" dominant-baseline="central" >2022 Low</text><text x="996" y="166.8" font-size="3.55" fill="#f0f0f0" text-anchor="end" font-weight="bold" dominant-baseline="central" >Support + Resistance</text><text x="996" y="170.5" font-size="3.55" fill="#f0f0f0" text-anchor="end" font-weight="bold" dominant-baseline="central" >Support + Resistance</text><text x="996" y="184.5" font-size="3.55" fill="#f0f0f0" text-anchor="end" font-weight="bold" dominant-baseline="central" >Reclaimed Resistance</text><text x="996" y="194.6" font-size="3.55" fill="#f0f0f0" text-anchor="end" font-weight="bold" dominant-baseline="central" >2025 Open</text><text x="996" y="200.3" font-size="3.55" fill="#f0f0f0" text-anchor="end" font-weight="bold" dominant-baseline="central" >Resistance + Support?</text><text x="996" y="206.6" font-size="3.55" fill="#f0f0f0" text-anchor="end" font-weight="bold" dominant-baseline="central" >Reclaimed Support</text><text x="996" y="221.6" font-size="3.55" fill="#f0f0f0" text-anchor="end" font-weight="bold" dominant-baseline="central" >Reclaimed Support</text><text x="996" y="241.1" font-size="3.55" fill="#f0f0f0" text-anchor="end" font-weight="bold" dominant-baseline="central" >Reclaimed Support</text><text x="996" y="264.4" font-size="3.55" fill="#f0f0f0" text-anchor="end" font-weight="bold" dominant-baseline="central" >Reclaimed Support</text><text x="996" y="286.5" font-size="3.55" fill="#f0f0f0" text-anchor="end" font-weight="bold" dominant-baseline="central" >2019 Low</text><text x="1001.3" y="24.7" font-size="3.95" fill="#e2e2e2" text-anchor="start" font-weight="bold" dominant-baseline="central" >0.1800</text><text x="1001.3" y="36" font-size="3.95" fill="#e2e2e2" text-anchor="start" font-weight="bold" dominant-baseline="central" >0.1600</text><text x="1001.3" y="51.6" font-size="3.95" fill="#e2e2e2" text-anchor="start" font-weight="bold" dominant-baseline="central" >0.1400</text><text x="1001.3" y="77.5" font-size="3.95" fill="#e2e2e2" text-anchor="start" font-weight="bold" dominant-baseline="central" >0.1100</text><text x="1001.3" y="92.7" font-size="3.95" fill="#e2e2e2" text-anchor="start" font-weight="bold" dominant-baseline="central" >0.0950</text><text x="1001.3" y="118.3" font-size="3.95" fill="#e2e2e2" text-anchor="start" font-weight="bold" dominant-baseline="central" >0.0750</text><text x="1001.3" y="254.6" font-size="3.95" fill="#e2e2e2" text-anchor="start" font-weight="bold" dominant-baseline="central" >0.0210</text><text x="1001.3" y="298.3" font-size="3.95" fill="#e2e2e2" text-anchor="start" font-weight="bold" dominant-baseline="central" >0.0139</text><text x="1001.3" y="40.8" font-size="3.95" fill="#1a1a1a" text-anchor="start" font-weight="bold" dominant-baseline="central" >0.1549</text><text x="1001.3" y="64.3" font-size="3.95" fill="#1a1a1a" text-anchor="start" font-weight="bold" dominant-baseline="central" >0.1244</text><text x="1001.3" y="100.3" font-size="3.95" fill="#1a1a1a" text-anchor="start" font-weight="bold" dominant-baseline="central" >0.0888</text><text x="1001.3" y="108.2" font-size="3.95" fill="#1a1a1a" text-anchor="start" font-weight="bold" dominant-baseline="central" >0.0824</text><text x="1001.3" y="134.4" font-size="3.95" fill="#1a1a1a" text-anchor="start" font-weight="bold" dominant-baseline="central" >0.0648</text><text x="1001.3" y="141.7" font-size="3.95" fill="#1a1a1a" text-anchor="start" font-weight="bold" dominant-baseline="central" >0.0604</text><text x="1001.3" y="151.3" font-size="3.95" fill="#1a1a1a" text-anchor="start" font-weight="bold" dominant-baseline="central" >0.0550</text><text x="1001.3" y="162.4" font-size="3.95" fill="#1a1a1a" text-anchor="start" font-weight="bold" dominant-baseline="central" >0.0490</text><text x="1001.3" y="168.3" font-size="3.95" fill="#1a1a1a" text-anchor="start" font-weight="bold" dominant-baseline="central" >0.0463</text><text x="1001.3" y="174.1" font-size="3.95" fill="#1a1a1a" text-anchor="start" font-weight="bold" dominant-baseline="central" >0.0446</text><text x="1001.3" y="181.4" font-size="3.95" fill="#1a1a1a" text-anchor="start" font-weight="bold" dominant-baseline="central" >0.0417</text><text x="1001.3" y="206.2" font-size="3.95" fill="#1a1a1a" text-anchor="start" font-weight="bold" dominant-baseline="central" >0.0330</text><text x="1001.3" y="211.8" font-size="3.95" fill="#1a1a1a" text-anchor="start" font-weight="bold" dominant-baseline="central" >0.0317</text><text x="1001.3" y="217.6" font-size="3.95" fill="#1a1a1a" text-anchor="start" font-weight="bold" dominant-baseline="central" >0.0299</text><text x="1001.3" y="223.2" font-size="3.95" fill="#1a1a1a" text-anchor="start" font-weight="bold" dominant-baseline="central" >0.0293</text><text x="1001.3" y="230.1" font-size="3.95" fill="#1a1a1a" text-anchor="start" font-weight="bold" dominant-baseline="central" >0.0264</text><text x="1001.3" y="244.4" font-size="3.95" fill="#1a1a1a" text-anchor="start" font-weight="bold" dominant-baseline="central" >0.0231</text><text x="1001.3" y="267.2" font-size="3.95" fill="#1a1a1a" text-anchor="start" font-weight="bold" dominant-baseline="central" >0.0186</text><text x="1001.3" y="273.3" font-size="3.95" fill="#1a1a1a" text-anchor="start" font-weight="bold" dominant-baseline="central" >0.0175</text><text x="1001.3" y="283.3" font-size="3.95" fill="#1a1a1a" text-anchor="start" font-weight="bold" dominant-baseline="central" >0.0160</text><text x="1001.5" y="195.4" font-size="4.0" fill="#f0f0f0" text-anchor="start" font-weight="normal" dominant-baseline="central" >0.0365</text><text x="1001.5" y="200.3" font-size="4.0" fill="#f0f0f0" text-anchor="start" font-weight="normal" dominant-baseline="central" >4d 18h</text><text x="1001.3" y="308.6" font-size="3.95" fill="#e2e2e2" text-anchor="start" font-weight="bold" dominant-baseline="central" >100.00</text><text x="1001.3" y="319" font-size="3.95" fill="#e2e2e2" text-anchor="start" font-weight="bold" dominant-baseline="central" >80.00</text><text x="1001.3" y="332.2" font-size="3.95" fill="#e2e2e2" text-anchor="start" font-weight="bold" dominant-baseline="central" >60.00</text><text x="1001.3" y="351.3" font-size="3.95" fill="#e2e2e2" text-anchor="start" font-weight="bold" dominant-baseline="central" >40.00</text><text x="1001.3" y="361.4" font-size="3.95" fill="#e2e2e2" text-anchor="start" font-weight="bold" dominant-baseline="central" >32.00</text><text x="1001.3" y="374.9" font-size="3.95" fill="#e2e2e2" text-anchor="start" font-weight="bold" dominant-baseline="central" >24.00</text><text x="1001.3" y="402" font-size="3.95" fill="#e2e2e2" text-anchor="start" font-weight="bold" dominant-baseline="central" >0.0500</text><text x="1001.3" y="425.6" font-size="3.95" fill="#e2e2e2" text-anchor="start" font-weight="bold" dominant-baseline="central" >0.0000</text><text x="30.5" y="463.4" font-size="3.8" fill="#e0e0e0" text-anchor="middle" font-weight="bold" dominant-baseline="central" >Jul</text><text x="84.5" y="463.4" font-size="3.8" fill="#e0e0e0" text-anchor="middle" font-weight="bold" dominant-baseline="central" >2018</text><text x="138.3" y="463.4" font-size="3.8" fill="#e0e0e0" text-anchor="middle" font-weight="bold" dominant-baseline="central" >Jul</text><text x="194.5" y="463.4" font-size="3.8" fill="#e0e0e0" text-anchor="middle" font-weight="bold" dominant-baseline="central" >2019</text><text x="246.3" y="463.4" font-size="3.8" fill="#e0e0e0" text-anchor="middle" font-weight="bold" dominant-baseline="central" >Jul</text><text x="303" y="463.4" font-size="3.8" fill="#e0e0e0" text-anchor="middle" font-weight="bold" dominant-baseline="central" >2020</text><text x="356.8" y="463.4" font-size="3.8" fill="#e0e0e0" text-anchor="middle" font-weight="bold" dominant-baseline="central" >Jul</text><text x="410.5" y="463.4" font-size="3.8" fill="#e0e0e0" text-anchor="middle" font-weight="bold" dominant-baseline="central" >2021</text><text x="464.8" y="463.4" font-size="3.8" fill="#e0e0e0" text-anchor="middle" font-weight="bold" dominant-baseline="central" >Jul</text><text x="518.3" y="463.4" font-size="3.8" fill="#e0e0e0" text-anchor="middle" font-weight="bold" dominant-baseline="central" >2022</text><text x="572.5" y="463.4" font-size="3.8" fill="#e0e0e0" text-anchor="middle" font-weight="bold" dominant-baseline="central" >Jul</text><text x="626.5" y="463.4" font-size="3.8" fill="#e0e0e0" text-anchor="middle" font-weight="bold" dominant-baseline="central" >2023</text><text x="680.8" y="463.4" font-size="3.8" fill="#e0e0e0" text-anchor="middle" font-weight="bold" dominant-baseline="central" >Jul</text><text x="735" y="463.4" font-size="3.8" fill="#e0e0e0" text-anchor="middle" font-weight="bold" dominant-baseline="central" >2024</text><text x="788.8" y="463.4" font-size="3.8" fill="#e0e0e0" text-anchor="middle" font-weight="bold" dominant-baseline="central" >Jul</text><text x="844.8" y="463.4" font-size="3.8" fill="#e0e0e0" text-anchor="middle" font-weight="bold" dominant-baseline="central" >2025</text><text x="898.5" y="463.4" font-size="3.8" fill="#e0e0e0" text-anchor="middle" font-weight="bold" dominant-baseline="central" >Jul</text><text x="953" y="463.4" font-size="3.8" fill="#e0e0e0" text-anchor="middle" font-weight="bold" dominant-baseline="central" >2026</text><text x="1002.6" y="16.1" font-size="4.0" fill="#e6e6e6" text-anchor="start" font-weight="bold" dominant-baseline="central" >BTC</text><text x="17.8" y="480.2" font-size="7.95" fill="#d8d8d8" text-anchor="start" font-weight="normal" dominant-baseline="central" >TradingView</text>
</svg>
</div></body></html>
